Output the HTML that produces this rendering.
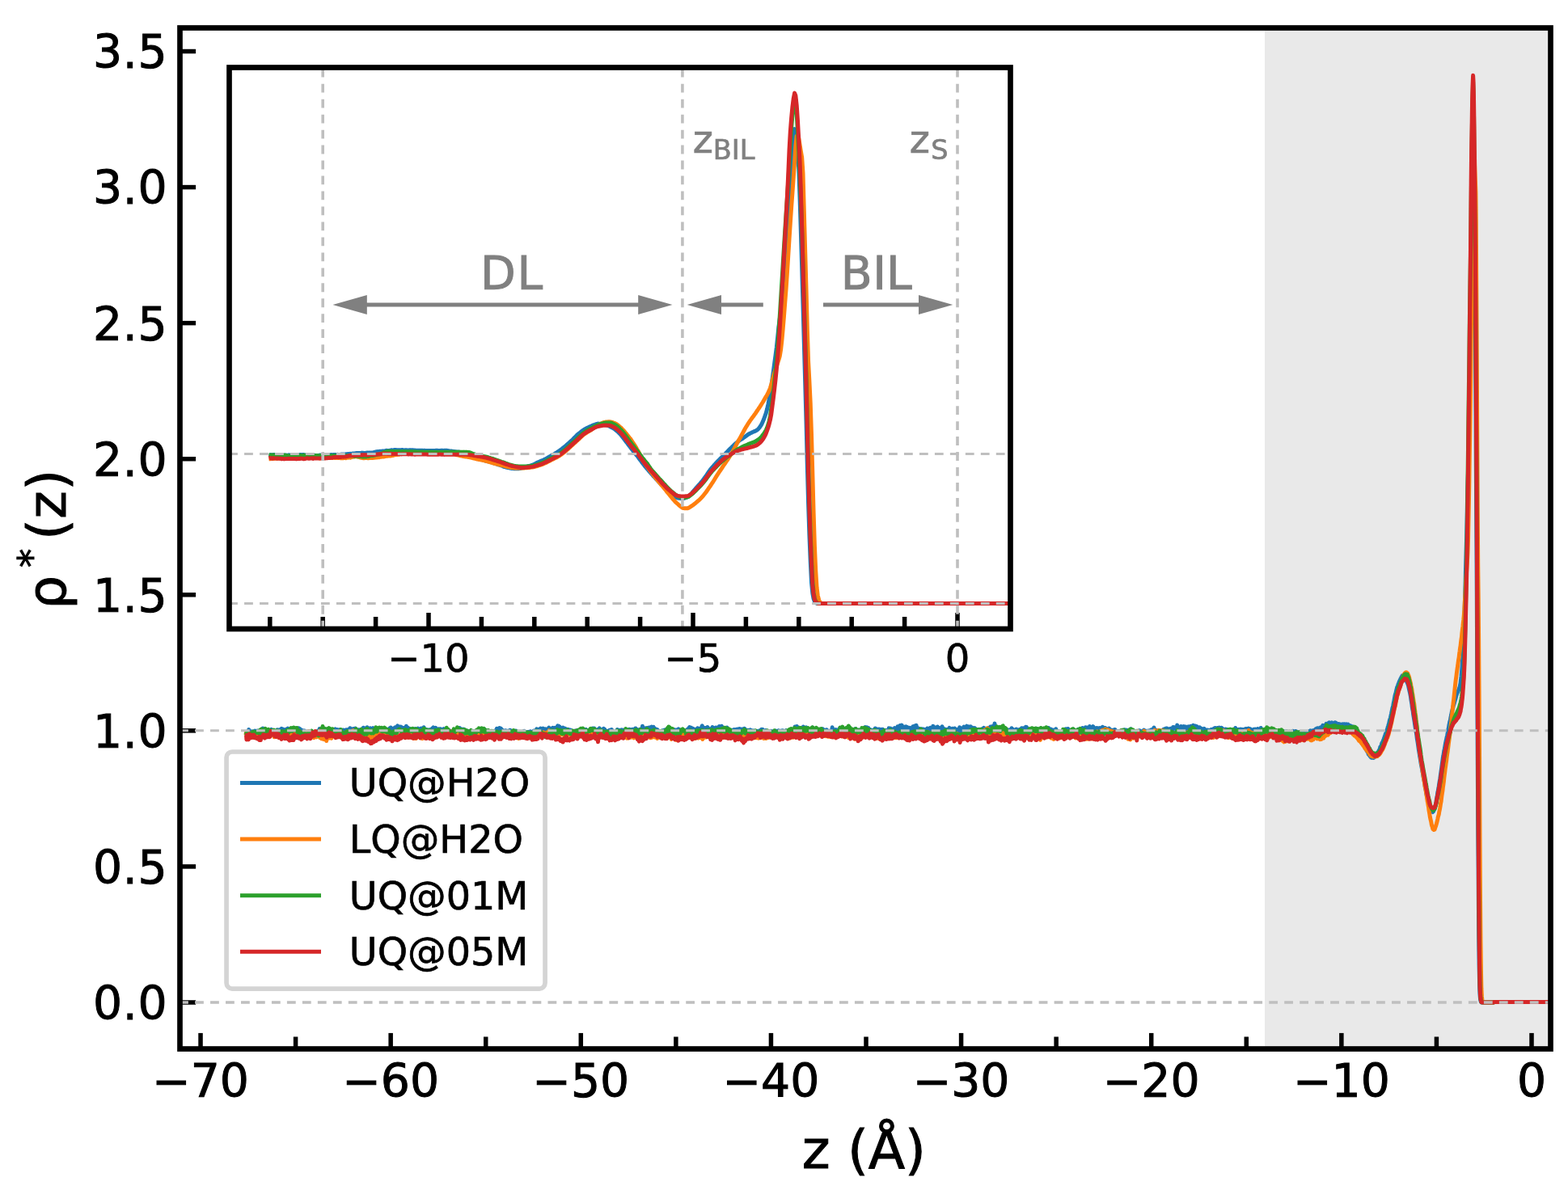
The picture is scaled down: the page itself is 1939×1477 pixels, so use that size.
<!DOCTYPE html>
<html lang="en"><head><meta charset="utf-8"><title>Density profile</title>
<style>html,body{margin:0;padding:0;background:#fff;overflow:hidden}svg{display:block}text{font-family:'DejaVu Sans','Liberation Sans',sans-serif;fill:#000;stroke:#000;stroke-width:0.7px;stroke-linejoin:miter}.b text,text.b{stroke-width:1px}.g text,text.g{fill:#808080;stroke:#808080}</style>
</head><body>
<svg width="1939" height="1477" viewBox="0 0 1939 1477" role="img" aria-label="Density profile chart">
<rect x="0" y="0" width="1939" height="1477" fill="#fff"/>
<defs>
<clipPath id="cm"><rect x="222.5" y="34.5" width="1695" height="1263"/></clipPath>
<clipPath id="ci"><rect x="283.5" y="83.5" width="966" height="694.5"/></clipPath>
</defs>
<g id="main">
<rect x="1564" y="34.5" width="353.5" height="1263" fill="#e9e9e9"/>
<g clip-path="url(#cm)">
<polyline points="304,904.6 304.5,905.1 304.9,906.5 305.4,907.5 305.9,906.6 306.3,906.8 306.8,907.5 307.3,906.2 307.7,902.5 308.2,907.1 308.7,906.8 309.2,905.2 309.6,907.1 310.1,906.6 310.6,906.5 311,906 311.5,904.8 312,905.2 312.4,908.1 312.9,906.7 313.4,907.8 313.9,906.2 314.3,907.4 314.8,905.3 315.3,904 315.7,906.9 316.2,905.9 316.7,904.7 317.2,906.3 317.6,907 318.1,903.9 318.6,903.9 319,906.8 319.5,904.3 320,905 320.4,905.3 320.9,904.5 321.4,906.7 321.9,906.7 322.3,903.1 322.8,904 323.3,904.9 323.7,904.6 324.2,904.2 324.7,904.4 325.1,901.1 325.6,905.1 326.1,903.4 326.6,905.9 327,903.4 327.5,902 328,904.6 328.4,905.7 328.9,906.9 329.4,903.2 329.8,905.8 330.3,904.6 330.8,903.9 331.3,906.1 331.7,904.6 332.2,902.8 332.7,905.7 333.1,904.9 333.6,904.5 334.1,906.8 334.6,905.3 335,903.6 335.5,902.3 336,906.6 336.4,905.5 336.9,905.3 337.4,906.4 337.8,906.9 338.3,906.4 338.8,906.7 339.3,907.2 339.7,906.3 340.2,906 340.7,908.8 341.1,905.4 341.6,905.9 342.1,905.5 342.5,908.4 343,902.8 343.5,905.5 344,907.6 344.4,903.7 344.9,904.1 345.4,905.5 345.8,902.8 346.3,903.5 346.8,905.5 347.2,904.8 347.7,903.2 348.2,901.4 348.7,904.3 349.1,901.8 349.6,903.6 350.1,905 350.5,902.3 351,905.6 351.5,904.8 352,907.5 352.4,905 352.9,903.4 353.4,906.2 353.8,906.4 354.3,902 354.8,903.1 355.2,904.9 355.7,903.9 356.2,901.1 356.7,905.4 357.1,902.3 357.6,903 358.1,903.2 358.5,903.9 359,902.7 359.5,905.1 359.9,903.7 360.4,901.9 360.9,904.1 361.4,903.6 361.8,902.6 362.3,906.2 362.8,906.9 363.2,902 363.7,903.5 364.2,903.3 364.6,904.6 365.1,903.8 365.6,902.8 366.1,904 366.5,904.6 367,905.1 367.5,906 367.9,907.4 368.4,904.6 368.9,904.7 369.4,900.7 369.8,905.1 370.3,905.8 370.8,901.5 371.2,905.2 371.7,904.7 372.2,902.9 372.6,903 373.1,903.1 373.6,903.8 374.1,906.2 374.5,905.9 375,905.8 375.5,904.4 375.9,905.8 376.4,904 376.9,905.3 377.3,905.3 377.8,909 378.3,905.9 378.8,907.8 379.2,905.3 379.7,906.9 380.2,905.8 380.6,905.9 381.1,907.6 381.6,907.8 382,905.3 382.5,904.9 383,908 383.5,909.2 383.9,905.8 384.4,909.1 384.9,907.2 385.3,910.1 385.8,905.6 386.3,906.6 386.8,907.6 387.2,908.7 387.7,910.8 388.2,907 388.6,906 389.1,906.6 389.6,908.8 390,906 390.5,906.5 391,909.2 391.5,909.2 391.9,908.1 392.4,904.9 392.9,907.4 393.3,903.9 393.8,904.5 394.3,908.6 394.7,906.5 395.2,901.4 395.7,906 396.2,905 396.6,905.5 397.1,906.4 397.6,907.1 398,905.8 398.5,905.7 399,905.6 399.5,905.3 399.9,908.1 400.4,907.9 400.9,905.3 401.3,906 401.8,908.7 402.3,907.1 402.7,902.1 403.2,905.7 403.7,905.3 404.2,904.3 404.6,904.1 405.1,906.8 405.6,905.9 406,902.9 406.5,906.7 407,905.5 407.4,903.8 407.9,906.2 408.4,906.4 408.9,907.7 409.3,907.6 409.8,905 410.3,905.8 410.7,906.2 411.2,907.1 411.7,903.9 412.1,903.6 412.6,905.7 413.1,907 413.6,907.3 414,902.5 414.5,902 415,906.6 415.4,905.4 415.9,908.5 416.4,906.6 416.9,902.6 417.3,904 417.8,903.7 418.3,905.2 418.7,906 419.2,904.8 419.7,902.7 420.1,903.8 420.6,903.4 421.1,903.5 421.6,905.5 422,904.4 422.5,905.9 423,906.3 423.4,904.2 423.9,906.9 424.4,903.1 424.8,905.1 425.3,907.6 425.8,906.7 426.3,907.5 426.7,904.6 427.2,904.9 427.7,905.4 428.1,902.8 428.6,904.7 429.1,904.7 429.5,905.4 430,905.5 430.5,903.1 431,902.4 431.4,903.6 431.9,902.9 432.4,903.2 432.8,900.8 433.3,902.8 433.8,901.3 434.3,903.2 434.7,904 435.2,905 435.7,904.3 436.1,902.2 436.6,904.3 437.1,901.5 437.5,903.7 438,905.9 438.5,903.2 439,904.2 439.4,901 439.9,902.7 440.4,905.2 440.8,903.8 441.3,906 441.8,906.3 442.2,904.3 442.7,903.5 443.2,905 443.7,902.7 444.1,907 444.6,903.6 445.1,904 445.5,906.4 446,903.5 446.5,904.5 446.9,902.4 447.4,906.2 447.9,903.1 448.4,904.4 448.8,901.8 449.3,900.2 449.8,904.2 450.2,903.8 450.7,903.2 451.2,902.9 451.7,901 452.1,903 452.6,903.1 453.1,901.9 453.5,901.8 454,899.7 454.5,902.5 454.9,902.6 455.4,900.9 455.9,900.9 456.4,903.1 456.8,902.2 457.3,903.7 457.8,900.8 458.2,903.3 458.7,903.4 459.2,903.3 459.6,904.4 460.1,903.3 460.6,902.3 461.1,903.3 461.5,900.6 462,903.4 462.5,905.8 462.9,903.3 463.4,904 463.9,901.7 464.3,903.4 464.8,902.6 465.3,905.2 465.8,904.3 466.2,903.2 466.7,904 467.2,903.7 467.6,901.5 468.1,905.8 468.6,905.9 469.1,902.4 469.5,904.1 470,905.4 470.5,903.9 470.9,903.1 471.4,905.4 471.9,903 472.3,904.4 472.8,902.2 473.3,907.2 473.8,901.5 474.2,904.3 474.7,902.5 475.2,905.1 475.6,903.6 476.1,902.8 476.6,904.2 477,904.9 477.5,905.3 478,905.1 478.5,902.8 478.9,905 479.4,902.3 479.9,902.9 480.3,902.9 480.8,903.2 481.3,902.6 481.7,904.6 482.2,900.8 482.7,902.4 483.2,900 483.6,903 484.1,903.1 484.6,902.1 485,902.6 485.5,903.7 486,904.9 486.5,903.2 486.9,902.7 487.4,900.7 487.9,900.4 488.3,902.6 488.8,899.7 489.3,902 489.7,901.3 490.2,900.7 490.7,901.3 491.2,898.9 491.6,897.8 492.1,901.5 492.6,899.6 493,900.3 493.5,899.7 494,901.4 494.4,899.1 494.9,900.3 495.4,900.8 495.9,899.1 496.3,903.4 496.8,902.8 497.3,901.9 497.7,901.5 498.2,902.8 498.7,901.8 499.1,900.4 499.6,902.5 500.1,902.2 500.6,901.5 501,904.8 501.5,900.3 502,900.3 502.4,898.2 502.9,903 503.4,900.6 503.9,900.6 504.3,900.2 504.8,903 505.3,905.8 505.7,901.5 506.2,901.3 506.7,901.4 507.1,902.9 507.6,903.4 508.1,902.6 508.6,903.9 509,904.1 509.5,902.4 510,902 510.4,904.3 510.9,905.3 511.4,904.1 511.8,901.7 512.3,903.2 512.8,902 513.3,902.2 513.7,901.7 514.2,904 514.7,903.4 515.1,902.4 515.6,904.2 516.1,904.9 516.5,901.9 517,901.2 517.5,904.5 518,902.4 518.4,902.5 518.9,902.7 519.4,903.4 519.8,904 520.3,904.3 520.8,901.1 521.3,902.4 521.7,901.5 522.2,904.8 522.7,900.8 523.1,900.9 523.6,902 524.1,899.7 524.5,902.5 525,902.8 525.5,904.7 526,904.5 526.4,903.1 526.9,903.5 527.4,902.5 527.8,905.1 528.3,903.6 528.8,905.6 529.2,904.5 529.7,905.1 530.2,907.2 530.7,902.8 531.1,904.9 531.6,904.6 532.1,902.8 532.5,904.4 533,903.8 533.5,905.9 534,902.1 534.4,901.1 534.9,902.7 535.4,900.5 535.8,900 536.3,901.1 536.8,902.5 537.2,901 537.7,901 538.2,901.8 538.7,900.4 539.1,901.5 539.6,903.9 540.1,902.6 540.5,902.2 541,904.2 541.5,904.6 541.9,902.5 542.4,901.9 542.9,904 543.4,901.9 543.8,904.1 544.3,904.6 544.8,901.7 545.2,903 545.7,905.9 546.2,905.9 546.6,903.6 547.1,905.2 547.6,905.4 548.1,906.3 548.5,905 549,901.6 549.5,907.5 549.9,903.1 550.4,907 550.9,907.8 551.4,905.1 551.8,906.8 552.3,906.9 552.8,905 553.2,903.7 553.7,905.8 554.2,907.7 554.6,907.6 555.1,906.1 555.6,904.4 556.1,905.2 556.5,905.4 557,904.2 557.5,908.9 557.9,904.5 558.4,905.6 558.9,905.5 559.3,904.8 559.8,905.6 560.3,906.5 560.8,907.5 561.2,903.9 561.7,905.9 562.2,904.1 562.6,906.2 563.1,903.8 563.6,903 564,904.1 564.5,903 565,904.5 565.5,904.1 565.9,903 566.4,903.2 566.9,902.4 567.3,902.8 567.8,901.5 568.3,900.5 568.8,901.9 569.2,901.5 569.7,902.4 570.2,904.4 570.6,901.9 571.1,902 571.6,904.9 572,903.8 572.5,906 573,903.6 573.5,902.2 573.9,904.3 574.4,905.8 574.9,903.5 575.3,904.5 575.8,905.1 576.3,904.3 576.7,905.8 577.2,903.9 577.7,908.4 578.2,904.6 578.6,906.4 579.1,904.7 579.6,906.4 580,907.6 580.5,904.7 581,907.5 581.4,909.2 581.9,906.3 582.4,904.3 582.9,903.8 583.3,904.3 583.8,909.3 584.3,906.7 584.7,908.1 585.2,906.4 585.7,909.3 586.2,905.6 586.6,906.1 587.1,904.5 587.6,904.5 588,906.1 588.5,908.7 589,905.7 589.4,907.7 589.9,906.9 590.4,905.6 590.9,910.2 591.3,908 591.8,909 592.3,907.2 592.7,906.7 593.2,906.7 593.7,906.3 594.1,907.7 594.6,907.1 595.1,906.1 595.6,905.3 596,905.5 596.5,906.4 597,905.4 597.4,904.7 597.9,906.6 598.4,906.5 598.8,904.6 599.3,902.3 599.8,905.4 600.3,907.3 600.7,903.5 601.2,905 601.7,907.2 602.1,905.4 602.6,905.3 603.1,904.5 603.6,907.4 604,904.8 604.5,907.1 605,906.3 605.4,908.6 605.9,905.2 606.4,906.6 606.8,908.2 607.3,906.3 607.8,905.7 608.3,905.2 608.7,905.2 609.2,908.9 609.7,907.6 610.1,906.1 610.6,905.6 611.1,907.6 611.5,904.2 612,904.9 612.5,908 613,906.9 613.4,903.2 613.9,907.1 614.4,901.2 614.8,901.5 615.3,905.2 615.8,902.6 616.2,901.5 616.7,904.7 617.2,905.3 617.7,900.4 618.1,902.8 618.6,904.9 619.1,901 619.5,901.3 620,902.5 620.5,903.5 621,905.2 621.4,906.6 621.9,903.5 622.4,904.2 622.8,907.2 623.3,906.7 623.8,906.7 624.2,906.3 624.7,905.9 625.2,903.7 625.7,905.8 626.1,904.3 626.6,905.7 627.1,904.4 627.5,906 628,904.4 628.5,906.7 628.9,908 629.4,904 629.9,907.3 630.4,907.1 630.8,903.3 631.3,906 631.8,905.6 632.2,905.5 632.7,905.3 633.2,904.8 633.6,906.7 634.1,907.8 634.6,905.1 635.1,906.8 635.5,907.4 636,905.8 636.5,905.8 636.9,906.6 637.4,909.9 637.9,904 638.4,907 638.8,909 639.3,906.2 639.8,905.2 640.2,905.4 640.7,906.6 641.2,906.6 641.6,910 642.1,911.5 642.6,905.9 643.1,907.5 643.5,907.6 644,910.1 644.5,905.5 644.9,908.8 645.4,906.7 645.9,909.9 646.3,911 646.8,907.6 647.3,907.2 647.8,909.5 648.2,904.3 648.7,908.5 649.2,905.6 649.6,905.7 650.1,909.3 650.6,906.4 651,908.2 651.5,906.7 652,907.2 652.5,905.6 652.9,908.2 653.4,906.3 653.9,906 654.3,905.4 654.8,908.1 655.3,905.7 655.8,905.5 656.2,904.8 656.7,909.6 657.2,908.9 657.6,908.9 658.1,906.8 658.6,907.7 659,906.4 659.5,906 660,903.9 660.5,903.9 660.9,905.8 661.4,905.1 661.9,907.3 662.3,905.6 662.8,905 663.3,905.4 663.7,901.8 664.2,908.1 664.7,905.1 665.2,904.1 665.6,902.5 666.1,902.9 666.6,905.5 667,904.2 667.5,901.9 668,902.4 668.5,901 668.9,901.8 669.4,903.1 669.9,903.4 670.3,901.9 670.8,903.9 671.3,903.2 671.7,901.1 672.2,903.2 672.7,901.8 673.2,906.1 673.6,903.6 674.1,902.5 674.6,901.9 675,903 675.5,902.8 676,904.2 676.4,903.1 676.9,901.9 677.4,904.4 677.9,905 678.3,901.5 678.8,900.2 679.3,900.7 679.7,903.5 680.2,902.9 680.7,903 681.1,901.6 681.6,901.3 682.1,903.5 682.6,901.6 683,901.9 683.5,900.3 684,902.5 684.4,901.6 684.9,904.4 685.4,902.2 685.9,900.4 686.3,902.9 686.8,902 687.3,900.6 687.7,900.8 688.2,901.5 688.7,900.8 689.1,899.2 689.6,897.9 690.1,898.6 690.6,899.6 691,898.2 691.5,902.5 692,898.9 692.4,900.6 692.9,901.1 693.4,902.1 693.8,901.4 694.3,901 694.8,902.8 695.3,903.4 695.7,901.6 696.2,900.2 696.7,901 697.1,901.2 697.6,904 698.1,903.9 698.5,904.1 699,901.1 699.5,904.6 700,902.4 700.4,903 700.9,905.4 701.4,903.6 701.8,902.2 702.3,903.1 702.8,903.7 703.3,902.5 703.7,906.2 704.2,905 704.7,904.4 705.1,903.7 705.6,903.2 706.1,906 706.5,905.2 707,903.8 707.5,904 708,906.7 708.4,907.2 708.9,906.5 709.4,905.6 709.8,909.6 710.3,904.3 710.8,906.6 711.2,904.8 711.7,904.1 712.2,906.7 712.7,908.1 713.1,908.3 713.6,903.4 714.1,906.4 714.5,905.3 715,907 715.5,905.6 715.9,904.3 716.4,903.7 716.9,904.4 717.4,905.8 717.8,904.6 718.3,904.7 718.8,902.6 719.2,905.1 719.7,906 720.2,903.6 720.7,905.4 721.1,902.1 721.6,902.1 722.1,904.4 722.5,904.5 723,903 723.5,906.3 723.9,902.6 724.4,902.3 724.9,903.9 725.4,904.2 725.8,905.4 726.3,905.8 726.8,904.1 727.2,904.3 727.7,905.5 728.2,903.2 728.6,904.9 729.1,902.8 729.6,905.3 730.1,903.1 730.5,902.4 731,901.6 731.5,903.3 731.9,902.7 732.4,902.6 732.9,901.2 733.3,904.2 733.8,903.4 734.3,905.7 734.8,901.1 735.2,903.3 735.7,904.3 736.2,904.2 736.6,903.1 737.1,904.8 737.6,904 738.1,906.4 738.5,906 739,902.4 739.5,903.8 739.9,905.9 740.4,903.3 740.9,902.2 741.3,900.9 741.8,904.2 742.3,902.8 742.8,904.3 743.2,905.6 743.7,904.7 744.2,903.4 744.6,904.2 745.1,904 745.6,904.6 746,903.8 746.5,901.2 747,903.9 747.5,903.5 747.9,902.4 748.4,907.5 748.9,907.4 749.3,907 749.8,907.8 750.3,904.5 750.7,907.7 751.2,906.9 751.7,904.4 752.2,906.8 752.6,905 753.1,904.1 753.6,906 754,903.3 754.5,904 755,904.3 755.5,905.2 755.9,906.4 756.4,902.4 756.9,906 757.3,905.7 757.8,905.7 758.3,906 758.7,905.1 759.2,907.3 759.7,906.4 760.2,905 760.6,907.9 761.1,906.3 761.6,907.9 762,906.1 762.5,905.2 763,906.5 763.4,902.4 763.9,906.8 764.4,903 764.9,904.7 765.3,904 765.8,905.7 766.3,903.4 766.7,903.5 767.2,906.4 767.7,904.3 768.1,904.4 768.6,902.9 769.1,906 769.6,903.5 770,904.5 770.5,903.2 771,907.6 771.4,904.7 771.9,910.2 772.4,908.5 772.9,907.3 773.3,908.5 773.8,905.7 774.3,907.3 774.7,906.1 775.2,905.9 775.7,904.3 776.1,905.8 776.6,902.8 777.1,904.1 777.6,902.8 778,902.2 778.5,902.2 779,903.9 779.4,903.6 779.9,903.8 780.4,902.7 780.8,902.9 781.3,906.4 781.8,906.3 782.3,902.3 782.7,905 783.2,902.6 783.7,904.2 784.1,902.4 784.6,902.5 785.1,904.3 785.6,901.1 786,901.1 786.5,902.2 787,905.7 787.4,904.5 787.9,903.1 788.4,902.7 788.8,905.6 789.3,908.3 789.8,906.3 790.3,904 790.7,906 791.2,902.7 791.7,904.9 792.1,901.9 792.6,905.5 793.1,903.7 793.5,902.3 794,904.5 794.5,898.3 795,901.5 795.4,903.8 795.9,902.6 796.4,903.8 796.8,903.6 797.3,901.4 797.8,903 798.2,900.7 798.7,903 799.2,901.4 799.7,901.5 800.1,900.5 800.6,902.4 801.1,901.1 801.5,901 802,903.5 802.5,900.1 803,900.8 803.4,902.3 803.9,900.1 804.4,899.7 804.8,901.6 805.3,900.3 805.8,899 806.2,900.4 806.7,900.8 807.2,901.1 807.7,902.1 808.1,899.3 808.6,901 809.1,902.1 809.5,905 810,901.2 810.5,902.4 810.9,902.2 811.4,902.4 811.9,903.2 812.4,902.9 812.8,902.6 813.3,905.1 813.8,904.4 814.2,905.9 814.7,904.1 815.2,905.7 815.6,905.8 816.1,905 816.6,905.5 817.1,906.3 817.5,905.2 818,904.5 818.5,905.6 818.9,906.2 819.4,903.7 819.9,905.1 820.4,906.3 820.8,906.2 821.3,905.1 821.8,903.1 822.2,902.9 822.7,903.6 823.2,906.3 823.6,905.3 824.1,903 824.6,903.8 825.1,904.7 825.5,904 826,905.5 826.5,904.6 826.9,904.5 827.4,906.3 827.9,903.7 828.3,905.7 828.8,904.4 829.3,906.8 829.8,903.5 830.2,902.5 830.7,906.5 831.2,904.8 831.6,907 832.1,903 832.6,907.4 833,905.9 833.5,906 834,902.7 834.5,906.4 834.9,904.3 835.4,903 835.9,903.9 836.3,904.7 836.8,903.4 837.3,904.3 837.8,902.5 838.2,902.5 838.7,902.9 839.2,901.9 839.6,903.9 840.1,903.9 840.6,903.3 841,903.2 841.5,904.9 842,903.8 842.5,904.1 842.9,905.1 843.4,905.5 843.9,906.1 844.3,903.7 844.8,906.6 845.3,903.3 845.7,906 846.2,907.6 846.7,904.5 847.2,905.1 847.6,905.8 848.1,905.2 848.6,905 849,903.5 849.5,905.8 850,905.3 850.4,901.9 850.9,902.5 851.4,903.3 851.9,900.6 852.3,903.2 852.8,899.4 853.3,903.2 853.7,901.8 854.2,901.9 854.7,900.2 855.2,901.4 855.6,901.7 856.1,901.6 856.6,901.2 857,901.2 857.5,903.6 858,903.5 858.4,902.5 858.9,905.1 859.4,905.2 859.9,902.4 860.3,902.3 860.8,903.4 861.3,904.1 861.7,904.3 862.2,902.8 862.7,900.7 863.1,903.6 863.6,902.4 864.1,903.1 864.6,903.2 865,901.6 865.5,904.7 866,903.1 866.4,901.7 866.9,901.8 867.4,903.9 867.8,899 868.3,897.8 868.8,901.8 869.3,899.6 869.7,900.2 870.2,900.8 870.7,903 871.1,900.4 871.6,901.1 872.1,903.1 872.6,900.6 873,903 873.5,900.6 874,902.1 874.4,902.9 874.9,899.5 875.4,900.4 875.8,901.5 876.3,903.8 876.8,903 877.3,901.7 877.7,903.1 878.2,903.3 878.7,901.7 879.1,901.9 879.6,904.1 880.1,901.2 880.5,902.3 881,899.5 881.5,902.4 882,902.5 882.4,903.2 882.9,901.3 883.4,902.5 883.8,901.9 884.3,900.5 884.8,900.1 885.2,901.7 885.7,902.4 886.2,902.3 886.7,903.5 887.1,900.1 887.6,900.9 888.1,903.4 888.5,902.9 889,901.9 889.5,898.4 890,902.4 890.4,900.3 890.9,899.9 891.4,901.6 891.8,900.6 892.3,898.2 892.8,898.9 893.2,902.8 893.7,900.5 894.2,901.4 894.7,900.2 895.1,903.8 895.6,902.3 896.1,901.7 896.5,904.4 897,903.1 897.5,903.3 897.9,902.8 898.4,904.3 898.9,899.9 899.4,902.7 899.8,905.3 900.3,905 900.8,905.6 901.2,904.1 901.7,904.4 902.2,903.5 902.6,904.2 903.1,905.6 903.6,905.3 904.1,903.8 904.5,903.5 905,906.2 905.5,905.1 905.9,903.2 906.4,905.1 906.9,904 907.4,905.3 907.8,902.5 908.3,904.5 908.8,904.7 909.2,903.4 909.7,904.2 910.2,903.7 910.6,902.4 911.1,904.2 911.6,904 912.1,902 912.5,904.2 913,904.1 913.5,902.4 913.9,905.2 914.4,901.6 914.9,903.4 915.3,904 915.8,903.7 916.3,904.1 916.8,902.1 917.2,904 917.7,906.1 918.2,904.1 918.6,902.1 919.1,903.4 919.6,903.9 920.1,904.4 920.5,901.3 921,903.7 921.5,902.1 921.9,905.9 922.4,903.7 922.9,904.8 923.3,904.2 923.8,903.9 924.3,905.1 924.8,904.2 925.2,903.3 925.7,904.9 926.2,906.7 926.6,903.6 927.1,905.8 927.6,904.6 928,902.9 928.5,904 929,904.2 929.5,904.2 929.9,905.6 930.4,904.6 930.9,906 931.3,903.9 931.8,905.5 932.3,905.3 932.7,904.1 933.2,904.8 933.7,905.7 934.2,905.2 934.6,905.4 935.1,906.4 935.6,905.5 936,904.3 936.5,906.4 937,905.4 937.5,907.8 937.9,906.4 938.4,904.7 938.9,905.1 939.3,903.9 939.8,904.3 940.3,903.8 940.7,903.5 941.2,904.2 941.7,902.4 942.2,904.5 942.6,903.7 943.1,902.4 943.6,904.4 944,905.9 944.5,906.2 945,905 945.4,905.1 945.9,907.2 946.4,907.1 946.9,903.4 947.3,907.3 947.8,904 948.3,905.8 948.7,907 949.2,906.5 949.7,906.8 950.1,906.9 950.6,906 951.1,909 951.6,905.2 952,906.1 952.5,907.9 953,908.9 953.4,904.3 953.9,908.8 954.4,906.1 954.9,905.7 955.3,908.2 955.8,904.9 956.3,908.8 956.7,909.1 957.2,908.5 957.7,907.9 958.1,904.7 958.6,908.4 959.1,904 959.6,906.4 960,905.2 960.5,905.8 961,907.6 961.4,906.9 961.9,905.9 962.4,905.9 962.8,903.8 963.3,907.9 963.8,908.6 964.3,908.4 964.7,908.6 965.2,907 965.7,906.3 966.1,904 966.6,906.6 967.1,907.5 967.5,906.4 968,903.7 968.5,907.2 969,907.7 969.4,905.7 969.9,905.4 970.4,905.4 970.8,905.5 971.3,905 971.8,903.8 972.3,903.7 972.7,904.8 973.2,905.6 973.7,907.3 974.1,907 974.6,908.1 975.1,907 975.5,906.1 976,905.2 976.5,908.2 977,904.6 977.4,906.8 977.9,909 978.4,905.6 978.8,906.9 979.3,906.4 979.8,904.8 980.2,905.7 980.7,903.7 981.2,903.1 981.7,901.5 982.1,904.2 982.6,904.4 983.1,898.9 983.5,903.3 984,900.4 984.5,902.2 984.9,902.3 985.4,898.5 985.9,900.1 986.4,901.8 986.8,901.4 987.3,899.9 987.8,901.2 988.2,900.2 988.7,901.5 989.2,901.4 989.7,901 990.1,901.8 990.6,903.7 991.1,901.7 991.5,903.4 992,902.6 992.5,902.6 992.9,903.4 993.4,899 993.9,903.8 994.4,899.9 994.8,903.3 995.3,902.3 995.8,900.5 996.2,901.9 996.7,902 997.2,899.9 997.6,902 998.1,901.5 998.6,903.3 999.1,903.7 999.5,903.9 1000,901.6 1000.5,908.3 1000.9,903.1 1001.4,902.7 1001.9,905.5 1002.3,902.5 1002.8,902.9 1003.3,903.7 1003.8,901.9 1004.2,903.8 1004.7,900.1 1005.2,904.1 1005.6,904.1 1006.1,903.2 1006.6,902.8 1007.1,902 1007.5,902.5 1008,902.9 1008.5,906.7 1008.9,903.6 1009.4,903.1 1009.9,901.5 1010.3,904.3 1010.8,902.2 1011.3,903.3 1011.8,903.9 1012.2,902.9 1012.7,903.3 1013.2,903 1013.6,903.5 1014.1,902.3 1014.6,902.6 1015,905.4 1015.5,901.9 1016,902.3 1016.5,903.1 1016.9,904.1 1017.4,901.7 1017.9,905 1018.3,904.2 1018.8,906 1019.3,904.5 1019.7,903.2 1020.2,905.5 1020.7,903.8 1021.2,906.3 1021.6,904.3 1022.1,902.7 1022.6,905.5 1023,905.3 1023.5,903.8 1024,904.1 1024.5,905.7 1024.9,905.4 1025.4,905.7 1025.9,904.4 1026.3,904.6 1026.8,905 1027.3,906.1 1027.7,907 1028.2,907.3 1028.7,903.8 1029.2,899.8 1029.6,903 1030.1,902.4 1030.6,903.6 1031,902.9 1031.5,904.8 1032,903.2 1032.4,905.1 1032.9,902.8 1033.4,905.6 1033.9,902.6 1034.3,904.3 1034.8,903.6 1035.3,904.2 1035.7,906.8 1036.2,906.7 1036.7,903.3 1037.1,904.1 1037.6,903.4 1038.1,901.4 1038.6,903.1 1039,901.6 1039.5,903.8 1040,904.2 1040.4,902.8 1040.9,902.7 1041.4,902.3 1041.9,901.5 1042.3,901.5 1042.8,901 1043.3,903.6 1043.7,904.2 1044.2,902.9 1044.7,902.6 1045.1,903.4 1045.6,903.6 1046.1,901.4 1046.6,903.3 1047,905.5 1047.5,904.8 1048,901.8 1048.4,903.1 1048.9,906.4 1049.4,905.9 1049.8,904.3 1050.3,905.5 1050.8,904.5 1051.3,906.8 1051.7,905.5 1052.2,905.1 1052.7,904.6 1053.1,905.3 1053.6,905.3 1054.1,905.2 1054.6,904.1 1055,903.7 1055.5,905.5 1056,905.5 1056.4,904.2 1056.9,906 1057.4,904.9 1057.8,901.4 1058.3,904.2 1058.8,905.7 1059.3,905.9 1059.7,906.1 1060.2,906.5 1060.7,905.2 1061.1,903.6 1061.6,903 1062.1,903 1062.5,906.8 1063,903.5 1063.5,905 1064,903.7 1064.4,904.1 1064.9,904.6 1065.4,906 1065.8,904.5 1066.3,904.4 1066.8,903.6 1067.2,904.1 1067.7,905.2 1068.2,901.6 1068.7,901.1 1069.1,903.6 1069.6,904.8 1070.1,899.5 1070.5,900.2 1071,901.3 1071.5,904.5 1072,899.8 1072.4,900.7 1072.9,903.2 1073.4,905.9 1073.8,900.6 1074.3,903.8 1074.8,903.1 1075.2,902.6 1075.7,902.3 1076.2,904.4 1076.7,903.3 1077.1,903.9 1077.6,904.5 1078.1,903.4 1078.5,904.4 1079,904.2 1079.5,903.9 1079.9,905.7 1080.4,904.3 1080.9,904.9 1081.4,902.4 1081.8,905.6 1082.3,900.9 1082.8,903.6 1083.2,904.1 1083.7,906 1084.2,905.1 1084.6,902.1 1085.1,904.4 1085.6,906.7 1086.1,903.2 1086.5,902 1087,905 1087.5,904.4 1087.9,902.1 1088.4,907.7 1088.9,902.5 1089.4,905.2 1089.8,903.6 1090.3,902.4 1090.8,903 1091.2,903.4 1091.7,902.3 1092.2,905.2 1092.6,904.2 1093.1,905.7 1093.6,904.3 1094.1,905.6 1094.5,906.3 1095,906.2 1095.5,903.5 1095.9,907.2 1096.4,906.3 1096.9,906.8 1097.3,905.7 1097.8,906.3 1098.3,905.2 1098.8,904.8 1099.2,900.8 1099.7,902.9 1100.2,904.1 1100.6,905.7 1101.1,904.1 1101.6,901.1 1102,903.6 1102.5,901.7 1103,902.2 1103.5,902.5 1103.9,902.7 1104.4,902.4 1104.9,902.6 1105.3,903 1105.8,902 1106.3,900.6 1106.8,901.3 1107.2,904.3 1107.7,901.2 1108.2,901.5 1108.6,902.7 1109.1,900.5 1109.6,900.7 1110,898.7 1110.5,904.2 1111,899.8 1111.5,902.1 1111.9,900.1 1112.4,899.2 1112.9,897.5 1113.3,899.1 1113.8,900.3 1114.3,897.8 1114.7,898.1 1115.2,897.2 1115.7,902.7 1116.2,898.9 1116.6,903.3 1117.1,898.9 1117.6,899.6 1118,901 1118.5,899.5 1119,900.1 1119.4,899.1 1119.9,898.8 1120.4,900.8 1120.9,901.3 1121.3,902.2 1121.8,899.4 1122.3,901.3 1122.7,901.6 1123.2,900.4 1123.7,902.3 1124.2,901.9 1124.6,901.6 1125.1,900.4 1125.6,903.3 1126,903.5 1126.5,902.6 1127,902.7 1127.4,902.7 1127.9,900.5 1128.4,902.2 1128.9,898.8 1129.3,900 1129.8,901.3 1130.3,901.5 1130.7,900.5 1131.2,898.1 1131.7,900.9 1132.1,903 1132.6,901.8 1133.1,897.2 1133.6,903.5 1134,902.8 1134.5,902.4 1135,903.3 1135.4,900.7 1135.9,903.5 1136.4,902.7 1136.8,901.8 1137.3,901.6 1137.8,902.8 1138.3,902.2 1138.7,902.6 1139.2,907.5 1139.7,901.7 1140.1,902.6 1140.6,903.4 1141.1,902.1 1141.6,906.2 1142,902.1 1142.5,905 1143,905.6 1143.4,905.8 1143.9,903.8 1144.4,905.1 1144.8,903 1145.3,905.9 1145.8,902 1146.3,904 1146.7,901.1 1147.2,903.2 1147.7,904.5 1148.1,904.4 1148.6,906.7 1149.1,904.3 1149.5,905.6 1150,904.5 1150.5,900.2 1151,904.4 1151.4,901.6 1151.9,901.2 1152.4,901.9 1152.8,901.3 1153.3,901.8 1153.8,898.2 1154.2,899.9 1154.7,899.3 1155.2,903.5 1155.7,901.4 1156.1,903 1156.6,900 1157.1,902.1 1157.5,902.7 1158,901.4 1158.5,901.2 1159,901.5 1159.4,899 1159.9,899.8 1160.4,900.9 1160.8,900.3 1161.3,901.8 1161.8,903.3 1162.2,901.5 1162.7,905 1163.2,900.4 1163.7,902.5 1164.1,904.8 1164.6,902.2 1165.1,898.7 1165.5,903.7 1166,903.2 1166.5,902.5 1166.9,905.1 1167.4,901.4 1167.9,904.2 1168.4,903.3 1168.8,902.5 1169.3,903.8 1169.8,902.4 1170.2,905.5 1170.7,905 1171.2,902.5 1171.6,903.7 1172.1,903.5 1172.6,902.7 1173.1,902 1173.5,901.2 1174,900.5 1174.5,901.4 1174.9,902.3 1175.4,905 1175.9,905.2 1176.4,905.7 1176.8,904.6 1177.3,903.7 1177.8,901.2 1178.2,905.1 1178.7,903.2 1179.2,905 1179.6,904.3 1180.1,906.9 1180.6,901 1181.1,904.3 1181.5,904.9 1182,904.9 1182.5,907.2 1182.9,903.9 1183.4,904.5 1183.9,903.5 1184.3,902.2 1184.8,903 1185.3,904.5 1185.8,903.9 1186.2,905.3 1186.7,899.7 1187.2,904.9 1187.6,901.1 1188.1,904 1188.6,902.3 1189.1,902.5 1189.5,903.8 1190,900.9 1190.5,901 1190.9,901.7 1191.4,900.5 1191.9,899.2 1192.3,903.3 1192.8,902.4 1193.3,903.5 1193.8,902.5 1194.2,901.7 1194.7,901.4 1195.2,900.6 1195.6,898.1 1196.1,898.9 1196.6,900.6 1197,899.2 1197.5,900.9 1198,898.9 1198.5,901.2 1198.9,901 1199.4,903.2 1199.9,902.2 1200.3,898.8 1200.8,905.5 1201.3,902.1 1201.7,903 1202.2,902.8 1202.7,900.2 1203.2,903.2 1203.6,904.3 1204.1,902.5 1204.6,902.5 1205,901.5 1205.5,900.6 1206,901.8 1206.5,901.8 1206.9,904.1 1207.4,904.6 1207.9,903.2 1208.3,903 1208.8,902.7 1209.3,903.2 1209.7,904.8 1210.2,905.1 1210.7,902.3 1211.2,902.7 1211.6,906.6 1212.1,903.1 1212.6,903.1 1213,904.7 1213.5,905.2 1214,902 1214.4,902.4 1214.9,904.8 1215.4,902.8 1215.9,901 1216.3,903.3 1216.8,900.4 1217.3,904.9 1217.7,901.2 1218.2,903.5 1218.7,904.6 1219.1,903.7 1219.6,901.9 1220.1,904.9 1220.6,901.3 1221,901.7 1221.5,905.9 1222,902 1222.4,900.5 1222.9,903.1 1223.4,905.7 1223.9,900.5 1224.3,899.9 1224.8,899 1225.3,902.4 1225.7,902.3 1226.2,901.4 1226.7,898.7 1227.1,901.8 1227.6,900.2 1228.1,902.7 1228.6,898.1 1229,900.2 1229.5,899.9 1230,895 1230.4,898.4 1230.9,899.1 1231.4,900 1231.8,900.5 1232.3,902.7 1232.8,899.5 1233.3,901.5 1233.7,901.8 1234.2,904.2 1234.7,900.4 1235.1,902.2 1235.6,902.3 1236.1,903.5 1236.5,902 1237,901.7 1237.5,902.2 1238,904.7 1238.4,905.8 1238.9,903.5 1239.4,902.7 1239.8,907.1 1240.3,904.8 1240.8,904.3 1241.3,903.6 1241.7,902.1 1242.2,904.4 1242.7,902.4 1243.1,904.2 1243.6,902.3 1244.1,904.7 1244.5,903.7 1245,902.4 1245.5,903.7 1246,907.2 1246.4,904.1 1246.9,903 1247.4,903.6 1247.8,905.3 1248.3,904.5 1248.8,902.7 1249.2,902.5 1249.7,903.2 1250.2,904.9 1250.7,905.2 1251.1,900.7 1251.6,905.4 1252.1,901.9 1252.5,903.4 1253,902.8 1253.5,903.1 1253.9,904.2 1254.4,903 1254.9,905.4 1255.4,904.6 1255.8,903.8 1256.3,907.9 1256.8,902 1257.2,904 1257.7,904 1258.2,904.8 1258.7,903.3 1259.1,904.9 1259.6,904.2 1260.1,903.6 1260.5,902.5 1261,902.6 1261.5,903.6 1261.9,903.4 1262.4,901.9 1262.9,903.9 1263.4,900.7 1263.8,902 1264.3,903.8 1264.8,904.7 1265.2,902.4 1265.7,900.8 1266.2,901.9 1266.6,901.7 1267.1,903.9 1267.6,900.4 1268.1,903.1 1268.5,899.3 1269,901.6 1269.5,899.5 1269.9,901.2 1270.4,905.4 1270.9,903.2 1271.3,902.7 1271.8,902 1272.3,904.7 1272.8,904.1 1273.2,907.6 1273.7,905.1 1274.2,905.7 1274.6,904.6 1275.1,905.5 1275.6,905.6 1276.1,905.3 1276.5,904 1277,902.7 1277.5,903.3 1277.9,902.9 1278.4,905.9 1278.9,906.5 1279.3,906 1279.8,906 1280.3,903.6 1280.8,904.6 1281.2,904.8 1281.7,901.2 1282.2,904.9 1282.6,903.2 1283.1,904.4 1283.6,906 1284,906.8 1284.5,905.1 1285,903.5 1285.5,903.2 1285.9,902 1286.4,903 1286.9,901.1 1287.3,904.8 1287.8,904.9 1288.3,902.8 1288.7,904.2 1289.2,902.4 1289.7,901.6 1290.2,903.2 1290.6,904.1 1291.1,907.1 1291.6,903.7 1292,902.8 1292.5,905 1293,902.3 1293.5,902.5 1293.9,902.5 1294.4,901.4 1294.9,900.4 1295.3,904.2 1295.8,902.9 1296.3,902.2 1296.7,900.5 1297.2,902.7 1297.7,902 1298.2,903 1298.6,903 1299.1,903.2 1299.6,902.1 1300,903.2 1300.5,902.8 1301,904.1 1301.4,904.8 1301.9,904.5 1302.4,903 1302.9,904.2 1303.3,906.6 1303.8,903.6 1304.3,906 1304.7,907.5 1305.2,904.4 1305.7,901.8 1306.1,903 1306.6,903.4 1307.1,905.5 1307.6,906 1308,906 1308.5,905.3 1309,906 1309.4,905.1 1309.9,905.1 1310.4,907 1310.9,905.1 1311.3,909.1 1311.8,906.8 1312.3,906.7 1312.7,906.9 1313.2,906 1313.7,905.9 1314.1,905.1 1314.6,904.9 1315.1,907.9 1315.6,904 1316,904.6 1316.5,903.2 1317,902.7 1317.4,902 1317.9,902.5 1318.4,904.2 1318.8,901.9 1319.3,903.9 1319.8,904.5 1320.3,903.9 1320.7,901.5 1321.2,902.8 1321.7,904.2 1322.1,904.5 1322.6,905.9 1323.1,903.4 1323.6,909.9 1324,904.5 1324.5,905.2 1325,905.5 1325.4,903.4 1325.9,905.1 1326.4,902.6 1326.8,906.8 1327.3,902.1 1327.8,906.2 1328.3,904.6 1328.7,906.6 1329.2,906.7 1329.7,905.8 1330.1,904.7 1330.6,906.3 1331.1,906.3 1331.5,905.6 1332,906.3 1332.5,905.8 1333,903.4 1333.4,902.2 1333.9,902.1 1334.4,903.3 1334.8,903 1335.3,907.1 1335.8,904.9 1336.2,904.6 1336.7,903.5 1337.2,903.5 1337.7,904.2 1338.1,903.8 1338.6,900.5 1339.1,904.6 1339.5,903 1340,903.6 1340.5,903.7 1341,903.1 1341.4,902.3 1341.9,903.5 1342.4,899.7 1342.8,902.6 1343.3,902.6 1343.8,900 1344.2,900 1344.7,900.3 1345.2,900.4 1345.7,904.6 1346.1,902.4 1346.6,901.7 1347.1,902.1 1347.5,898.5 1348,898.9 1348.5,901.2 1348.9,901.8 1349.4,902.1 1349.9,901.7 1350.4,899.8 1350.8,899.4 1351.3,901.3 1351.8,898.6 1352.2,901.3 1352.7,900.6 1353.2,903.1 1353.6,902 1354.1,903.6 1354.6,901.8 1355.1,900.8 1355.5,902.4 1356,902.5 1356.5,900.6 1356.9,903 1357.4,900.8 1357.9,901.9 1358.4,903.2 1358.8,903.4 1359.3,901.7 1359.8,900.6 1360.2,902.2 1360.7,903.7 1361.2,902.7 1361.6,900.6 1362.1,901.6 1362.6,902.4 1363.1,902.2 1363.5,899.2 1364,905.9 1364.5,903.8 1364.9,900.3 1365.4,900.9 1365.9,901.2 1366.3,902.9 1366.8,900.5 1367.3,903.1 1367.8,902.9 1368.2,903.6 1368.7,901.7 1369.2,904.5 1369.6,902.1 1370.1,903.9 1370.6,902.2 1371,903.9 1371.5,900.9 1372,903.8 1372.5,903.5 1372.9,904.1 1373.4,904.2 1373.9,903.5 1374.3,903.2 1374.8,905.9 1375.3,904.7 1375.8,903.7 1376.2,905.1 1376.7,904.2 1377.2,903.1 1377.6,903.1 1378.1,902.6 1378.6,903.7 1379,902.6 1379.5,907.1 1380,905.9 1380.5,906.7 1380.9,906.6 1381.4,905.1 1381.9,906.7 1382.3,909.7 1382.8,904.5 1383.3,906 1383.7,907.1 1384.2,907.7 1384.7,908 1385.2,907.9 1385.6,907.6 1386.1,904.5 1386.6,907.5 1387,904.2 1387.5,903.3 1388,905.2 1388.4,903.4 1388.9,904.2 1389.4,905.3 1389.9,905.4 1390.3,902.9 1390.8,902.8 1391.3,907.1 1391.7,905.1 1392.2,907.4 1392.7,905.6 1393.2,903.1 1393.6,904.5 1394.1,905.8 1394.6,903.6 1395,903.7 1395.5,903.8 1396,903.3 1396.4,904.3 1396.9,904.4 1397.4,904.1 1397.9,904.1 1398.3,901.7 1398.8,906.9 1399.3,906.9 1399.7,907.1 1400.2,908.5 1400.7,907.4 1401.1,907.7 1401.6,904.9 1402.1,904.6 1402.6,907.9 1403,906 1403.5,907.8 1404,907 1404.4,905.7 1404.9,906.5 1405.4,906.6 1405.8,904.2 1406.3,905.6 1406.8,907.3 1407.3,907.3 1407.7,908.1 1408.2,906 1408.7,903.7 1409.1,903.8 1409.6,905.5 1410.1,906.5 1410.6,905.5 1411,906.7 1411.5,908.2 1412,908.2 1412.4,904.4 1412.9,905.8 1413.4,907.1 1413.8,903.8 1414.3,904 1414.8,903.1 1415.3,905.1 1415.7,906.2 1416.2,904.3 1416.7,907 1417.1,906.1 1417.6,904.2 1418.1,907.6 1418.5,906.1 1419,906.9 1419.5,908.3 1420,903.9 1420.4,908.1 1420.9,907.1 1421.4,906 1421.8,903.9 1422.3,904.5 1422.8,905.8 1423.2,905.5 1423.7,902.9 1424.2,903.8 1424.7,903.6 1425.1,903.2 1425.6,902.6 1426.1,903.3 1426.5,901.1 1427,900 1427.5,904.3 1428,903.8 1428.4,902.4 1428.9,903.2 1429.4,904.7 1429.8,905.6 1430.3,905.5 1430.8,903.8 1431.2,903.7 1431.7,906.4 1432.2,904.8 1432.7,907 1433.1,903.7 1433.6,906 1434.1,906.3 1434.5,907 1435,904.8 1435.5,904.2 1435.9,907.6 1436.4,904 1436.9,906.7 1437.4,906 1437.8,906.4 1438.3,903.7 1438.8,902.2 1439.2,905.7 1439.7,903.1 1440.2,904.7 1440.7,901.6 1441.1,903.5 1441.6,904.3 1442.1,901 1442.5,902.7 1443,902.1 1443.5,901.2 1443.9,903 1444.4,901.9 1444.9,901.8 1445.4,902 1445.8,905.2 1446.3,902.8 1446.8,901.5 1447.2,901.3 1447.7,902.9 1448.2,901.8 1448.6,902.5 1449.1,902.2 1449.6,902.8 1450.1,900.7 1450.5,899.7 1451,900.4 1451.5,899.5 1451.9,900.3 1452.4,899.9 1452.9,900.1 1453.3,899.8 1453.8,901.5 1454.3,900.1 1454.8,901.2 1455.2,901.3 1455.7,897 1456.2,900.9 1456.6,901.4 1457.1,905.4 1457.6,900.3 1458.1,900.2 1458.5,903.3 1459,900.5 1459.5,899.4 1459.9,901.6 1460.4,898.5 1460.9,899.9 1461.3,898.9 1461.8,900.7 1462.3,899.4 1462.8,898.9 1463.2,898.7 1463.7,900.8 1464.2,901 1464.6,898.8 1465.1,901.4 1465.6,901.5 1466,900.8 1466.5,902.2 1467,899.1 1467.5,902.7 1467.9,901.4 1468.4,899.5 1468.9,900.2 1469.3,901.5 1469.8,898.9 1470.3,899.2 1470.7,899.5 1471.2,900.9 1471.7,899.1 1472.2,902.4 1472.6,898.3 1473.1,898.6 1473.6,902.1 1474,901.7 1474.5,900.9 1475,899.7 1475.5,897.3 1475.9,899.9 1476.4,897.6 1476.9,898.7 1477.3,899.4 1477.8,900.7 1478.3,898 1478.7,898.8 1479.2,901.7 1479.7,901 1480.2,898.6 1480.6,901.8 1481.1,899.5 1481.6,900.6 1482,900.7 1482.5,901.8 1483,901.4 1483.4,899.7 1483.9,900.7 1484.4,906 1484.9,903.4 1485.3,900.9 1485.8,904.7 1486.3,903.8 1486.7,904.5 1487.2,901.9 1487.7,905.3 1488.1,903 1488.6,903.1 1489.1,901.4 1489.6,903 1490,903.5 1490.5,903.3 1491,903.9 1491.4,904.2 1491.9,903 1492.4,907.4 1492.9,906.5 1493.3,904.6 1493.8,903.2 1494.3,905.3 1494.7,906 1495.2,905.7 1495.7,907.1 1496.1,904.4 1496.6,903.1 1497.1,903.3 1497.6,903.4 1498,902.3 1498.5,904.2 1499,903 1499.4,903.6 1499.9,905.1 1500.4,904 1500.8,903.5 1501.3,901.1 1501.8,902.6 1502.3,902.5 1502.7,900.5 1503.2,904.4 1503.7,904.3 1504.1,901.9 1504.6,900.9 1505.1,901 1505.5,900.4 1506,900.5 1506.5,904.3 1507,901.1 1507.4,902.5 1507.9,900.1 1508.4,900.4 1508.8,903.4 1509.3,902.8 1509.8,904 1510.3,900.3 1510.7,902.3 1511.2,900.8 1511.7,901.5 1512.1,903 1512.6,902.5 1513.1,904.4 1513.5,902.7 1514,902.9 1514.5,903.8 1515,905 1515.4,902.1 1515.9,904.3 1516.4,908 1516.8,904.1 1517.3,902.4 1517.8,902.7 1518.2,904 1518.7,905.6 1519.2,904.9 1519.7,904.5 1520.1,906.4 1520.6,906.5 1521.1,906.3 1521.5,905.4 1522,905.4 1522.5,906.2 1522.9,904.4 1523.4,904.6 1523.9,903.5 1524.4,906.5 1524.8,902.5 1525.3,907.5 1525.8,904 1526.2,903.1 1526.7,902.3 1527.2,902.7 1527.7,900.5 1528.1,903.6 1528.6,905.4 1529.1,906.7 1529.5,903.9 1530,903.8 1530.5,905.6 1530.9,902.5 1531.4,902.3 1531.9,903.6 1532.4,903.7 1532.8,905.7 1533.3,903.2 1533.8,902.1 1534.2,904.2 1534.7,903.9 1535.2,904.8 1535.6,902.3 1536.1,904.3 1536.6,902.5 1537.1,904.6 1537.5,903.6 1538,902.6 1538.5,903.5 1538.9,903.1 1539.4,903.7 1539.9,904.9 1540.3,901.6 1540.8,905.3 1541.3,903.1 1541.8,901.5 1542.2,902.9 1542.7,902 1543.2,904.2 1543.6,902 1544.1,901.2 1544.6,902.9 1545.1,905.3 1545.5,904.8 1546,901.8 1546.5,903.4 1546.9,905.2 1547.4,905.6 1547.9,904.8 1548.3,905.1 1548.8,904 1549.3,904.5 1549.8,904 1550.2,902.2 1550.7,904.8 1551.2,905.9 1551.6,904.5 1552.1,902 1552.6,903.4 1553,903.9 1553.5,903.8 1554,906.2 1554.5,903.6 1554.9,905.3 1555.4,901.5 1555.9,905.3 1556.3,905.5 1556.8,904.9 1557.3,903.1 1557.7,905.7 1558.2,903.8 1558.7,905.4 1559.2,900.5 1559.6,902.7 1560.1,904.2 1560.6,904.6 1561,903.9 1561.5,906.7 1562,904.5 1562.5,902.8 1562.9,907.2 1563.4,907.2 1563.9,907.4 1564.3,905.4 1564.8,906.9 1565.3,906.2 1565.7,904.9 1566.2,906.4 1566.7,907.8 1567.2,905.7 1567.6,909.4 1568.1,908.2 1568.6,906.2 1569,907.3 1569.5,904.2 1570,909.1 1570.4,908.2 1570.9,906.6 1571.4,906.5 1571.9,905.2 1572.3,905.9 1572.8,905.6 1573.3,905.8 1573.7,908.4 1574.2,907.3 1574.7,907.7 1575.2,904 1575.6,906.8 1576.1,905.5 1576.6,907.3 1577,906.7 1577.5,906.4 1578,908.5 1578.4,908.5 1578.9,907.3 1579.4,907.5 1579.9,906.7 1580.3,909.1 1580.8,907.1 1581.3,906.7 1581.7,908.5 1582.2,908.7 1582.7,908.3 1583.1,906.4 1583.6,909.6 1584.1,904.5 1584.6,909.4 1585,907.6 1585.5,907 1586,906.5 1586.4,907.7 1586.9,908.8 1587.4,907.5 1587.8,904.7 1588.3,907.3 1588.8,905.7 1589.3,908.5 1589.7,906.4 1590.2,904.7 1590.7,906.7 1591.1,908.5 1591.6,905.4 1592.1,905.2 1592.6,905.6 1593,907.7 1593.5,907.5 1594,907.9 1594.4,908.1 1594.9,910.8 1595.4,906.5 1595.8,907.4 1596.3,909.4 1596.8,906 1597.3,909.1 1597.7,905.9 1598.2,905.5 1598.7,904.4 1599.1,908.5 1599.6,906.6 1600.1,905.7 1600.5,907.6 1601,905.2 1601.5,907 1602,904.6 1602.4,905.9 1602.9,904.7 1603.4,905.4 1603.8,907.1 1604.3,906.2 1604.8,906.2 1605.2,906.7 1605.7,906.2 1606.2,907.2 1606.7,906.8 1607.1,909.1 1607.6,906.5 1608.1,907.6 1608.5,908.7 1609,907.9 1609.5,909.2 1610,908.8 1610.4,906.8 1610.9,906.5 1611.4,908.1 1611.8,910.2 1612.3,908.9 1612.8,906.7 1613.2,906.9 1613.7,906.7 1614.2,908.4 1614.7,907.2 1615.1,906.3 1615.6,905.9 1616.1,906.8 1616.5,906.4 1617,905.7 1617.5,906.8 1617.9,907 1618.4,905.1 1618.9,905.8 1619.4,907.2 1619.8,904.4 1620.3,903.9 1620.8,904.9 1621.2,905.5 1621.7,904.9 1622.2,904.3 1622.6,905.1 1623.1,903.9 1623.6,904.9 1624.1,903.8 1624.5,904.9 1625,903.8 1625.5,903.4 1625.9,904.8 1626.4,902.5 1626.9,902 1627.4,901.5 1627.8,901.6 1628.3,902 1628.8,903.1 1629.2,900.7 1629.7,902.1 1630.2,903.5 1630.6,902.6 1631.1,901.8 1631.6,901.2 1632.1,901.3 1632.5,900 1633,902.5 1633.5,901.1 1633.9,901.9 1634.4,901.2 1634.9,898.8 1635.3,899.3 1635.8,897.4 1636.3,897.6 1636.8,897.6 1637.2,897.5 1637.7,898.5 1638.2,898.1 1638.6,897.6 1639.1,897.7 1639.6,897.1 1640,895.4 1640.5,896.3 1641,896.6 1641.5,896.5 1641.9,895.8 1642.4,894.6 1642.9,895.3 1643.3,895.4 1643.8,893.9 1644.3,895 1644.8,895.4 1645.2,895.2 1645.7,895.2 1646.2,895.5 1646.6,894.8 1647.1,893.9 1647.6,895.1 1648,896.2 1648.5,894.8 1649,894.7 1649.5,895.6 1649.9,895.7 1650.4,894.7 1650.9,893.9 1651.3,895.6 1651.8,894.2 1652.3,894.5 1652.7,895.3 1653.2,895.9 1653.7,896.9 1654.2,895.8 1654.6,896.6 1655.1,895.5 1655.6,896.4 1656,895.7 1656.5,896.7 1657,896.1 1657.4,896.7 1657.9,896.1 1658.4,897.3 1658.9,897 1659.3,897.2 1659.8,896.9 1660.3,895.8 1660.7,896.8 1661.2,897.1 1661.7,897.3 1662.2,895.8 1662.6,895.8 1663.1,896.7 1663.6,897.1 1664,897.3 1664.5,896 1665,895.8 1665.4,896.7 1665.9,896.3 1666.4,896.2 1666.9,896.1 1667.3,896.9 1667.8,897.1 1668.3,897.4 1668.7,898 1669.2,897.6 1669.7,898.2 1670.1,897.9 1670.6,898.5 1671.1,899 1671.6,899.2 1672,899.6 1672.5,898.9 1673,900.1 1673.4,900.6 1673.9,900.8 1674.4,901.1 1674.8,901.5 1675.3,901.5 1675.8,902.2 1676.3,902.8 1676.7,903.3 1677.2,904 1677.7,905.2 1678.1,905.6 1678.6,906.7 1679.1,908.1 1679.6,909.5 1680,911 1680.5,912.8 1681,913.9 1681.4,915.5 1681.9,915.5 1682.4,916.6 1682.8,917 1683.3,917.7 1683.8,918.9 1684.3,919 1684.7,920.1 1685.2,920.4 1685.7,921.4 1686.1,921.6 1686.6,922.1 1687.1,923.2 1687.5,923.9 1688,925.1 1688.5,925.6 1689,926.6 1689.4,926.8 1689.9,928.3 1690.4,928.7 1690.8,929.7 1691.3,930.1 1691.8,931.2 1692.2,932.9 1692.7,932.8 1693.2,934.3 1693.7,934.2 1694.1,935.5 1694.6,935.4 1695.1,935.7 1695.5,937.1 1696,937.2 1696.5,936.3 1697,937.3 1697.4,936.7 1697.9,937.3 1698.4,937.5 1698.8,937.3 1699.3,936.9 1699.8,936.5 1700.2,935.9 1700.7,935.6 1701.2,934.6 1701.7,934.1 1702.1,933.6 1702.6,932.3 1703.1,931.8 1703.5,930.8 1704,930.5 1704.5,930.1 1704.9,928.9 1705.4,928.3 1705.9,927 1706.4,926.2 1706.8,923.9 1707.3,923.5 1707.8,922.7 1708.2,922 1708.7,919.8 1709.2,918.6 1709.7,917.9 1710.1,917.1 1710.6,915.7 1711.1,914.8 1711.5,913.6 1712,911.9 1712.5,910.5 1712.9,909.6 1713.4,907.7 1713.9,906.8 1714.4,906.3 1714.8,904.4 1715.3,902.4 1715.8,901.2 1716.2,899.4 1716.7,898 1717.2,896.1 1717.6,895 1718.1,892.6 1718.6,890.4 1719.1,889.1 1719.5,887.5 1720,885.2 1720.5,883 1720.9,880.8 1721.4,878.7 1721.9,875.9 1722.3,874.8 1722.8,872.4 1723.3,869.6 1723.8,867.6 1724.2,865.2 1724.7,862.5 1725.2,859.8 1725.6,858.7 1726.1,857.1 1726.6,854.6 1727.1,852.7 1727.5,850.7 1728,849.7 1728.5,848.2 1728.9,846.9 1729.4,845.6 1729.9,844.7 1730.3,843.3 1730.8,842.6 1731.3,841 1731.8,840.2 1732.2,839 1732.7,838.4 1733.2,837.3 1733.6,836.8 1734.1,835.8 1734.6,836.1 1735,836.4 1735.5,836.1 1736,836.2 1736.5,836.6 1736.9,837.5 1737.4,837.3 1737.9,838.8 1738.3,839.8 1738.8,840.9 1739.3,841.8 1739.7,843.5 1740.2,844.4 1740.7,845.7 1741.2,846.9 1741.6,848.3 1742.1,850.6 1742.6,852.9 1743,854.6 1743.5,856.8 1744,859.2 1744.5,861.9 1744.9,865.2 1745.4,868 1745.9,871 1746.3,874.6 1746.8,877.8 1747.3,880 1747.7,883.9 1748.2,886.7 1748.7,889.9 1749.2,892.8 1749.6,895.9 1750.1,899.1 1750.6,902.3 1751,905 1751.5,907.1 1752,910.9 1752.4,914.4 1752.9,917.1 1753.4,920.2 1753.9,924 1754.3,926.9 1754.8,929.7 1755.3,932.9 1755.7,935.8 1756.2,938.3 1756.7,941.4 1757.1,944.1 1757.6,946.8 1758.1,949.2 1758.6,951.7 1759,954.7 1759.5,956.7 1760,960.5 1760.4,962.2 1760.9,964.7 1761.4,967 1761.9,969.7 1762.3,973.4 1762.8,975.6 1763.3,978 1763.7,981 1764.2,983.4 1764.7,985.6 1765.1,987.8 1765.6,989.7 1766.1,991.8 1766.6,994.2 1767,995.8 1767.5,997.9 1768,998.8 1768.4,1001 1768.9,1002 1769.4,1002.7 1769.8,1003.5 1770.3,1003.3 1770.8,1003.9 1771.3,1004.1 1771.7,1004.5 1772.2,1004 1772.7,1003.6 1773.1,1002.3 1773.6,1001.5 1774.1,1000.2 1774.5,999.3 1775,996.8 1775.5,995.1 1776,992.1 1776.4,988.8 1776.9,986.3 1777.4,983.4 1777.8,980.2 1778.3,978.3 1778.8,975 1779.3,972.7 1779.7,969.7 1780.2,966.7 1780.7,963.9 1781.1,961 1781.6,957.4 1782.1,953.9 1782.5,951.2 1783,947.4 1783.5,943.7 1784,940.1 1784.4,936.9 1784.9,934.6 1785.4,931.4 1785.8,928.6 1786.3,926.5 1786.8,923.7 1787.2,921.3 1787.7,918.5 1788.2,916.4 1788.7,913.9 1789.1,912.1 1789.6,910 1790.1,907.3 1790.5,905.1 1791,902.1 1791.5,899.9 1791.9,897.1 1792.4,894.8 1792.9,892.3 1793.4,891 1793.8,888.3 1794.3,886 1794.8,883.6 1795.2,881.4 1795.7,879.1 1796.2,877.3 1796.7,876.2 1797.1,873.2 1797.6,872.1 1798.1,870.5 1798.5,869.2 1799,867.2 1799.5,865.6 1799.9,864.4 1800.4,862.3 1800.9,860.4 1801.4,859.1 1801.8,857.6 1802.3,856.9 1802.8,855.6 1803.2,854.7 1803.7,853.7 1804.2,852.8 1804.6,851.1 1805.1,850 1805.6,847.3 1806.1,844.9 1806.5,840.9 1807,836.8 1807.5,831 1807.9,826.2 1808.4,819 1808.9,812.3 1809.3,803.3 1809.8,792.7 1810.3,780.7 1810.8,766.5 1811.2,751.2 1811.7,735.7 1812.2,717.6 1812.6,700.6 1813.1,682.9 1813.6,665 1814.1,642.8 1814.5,619.2 1815,600.2 1815.5,585.3 1815.9,571.1 1816.4,553.1 1816.9,527.3 1817.3,486.3 1817.8,439.8 1818.3,394.7 1818.8,355.2 1819.2,317.7 1819.7,279.9 1820.2,240 1820.6,208.4 1821.1,187.1 1821.6,174.1 1822,184.9 1822.5,209.8 1823,232.7 1823.5,264.2 1823.9,331 1824.4,407.8 1824.9,487.9 1825.3,570.1 1825.8,652.9 1826.3,737.7 1826.7,830.3 1827.2,929.5 1827.7,1015.4 1828.2,1086.3 1828.6,1144.7 1829.1,1192.7 1829.6,1216.9 1830,1229.5 1830.5,1235.5 1831,1238.2 1831.5,1239.5 1831.9,1239.9 1832.4,1239.9 1832.9,1240 1833.3,1240 1833.8,1240 1834.3,1240 1834.7,1240 1835.2,1240 1835.7,1240 1836.2,1240 1836.6,1240 1837.1,1240 1837.6,1240 1838,1240 1838.5,1240 1839,1240 1839.4,1240 1839.9,1240 1840.4,1240 1840.9,1240 1841.3,1240 1841.8,1240 1842.3,1240 1842.7,1240 1843.2,1240 1843.7,1240 1844.2,1240 1844.6,1240 1845.1,1240 1845.6,1240 1846,1240 1846.5,1240 1847,1240 1847.4,1239.5 1847.9,1239.5 1848.4,1239.5 1848.9,1239.5 1849.3,1239.5 1849.8,1239.5 1850.3,1239.5 1850.7,1239.5 1851.2,1239.5 1851.7,1239.5 1852.1,1239.5 1852.6,1239.5 1853.1,1239.5 1853.6,1239.5 1854,1239.5 1854.5,1239.5 1855,1239.5 1855.4,1239.5 1855.9,1239.5 1856.4,1239.5 1856.8,1239.5 1857.3,1239.5 1857.8,1239.5 1858.3,1239.5 1858.7,1239.5 1859.2,1239.5 1859.7,1239.5 1860.1,1239.5 1860.6,1239.5 1861.1,1239.5 1861.6,1239.5 1862,1239.5 1862.5,1239.5 1863,1239.5 1863.4,1239.5 1863.9,1239.5 1864.4,1239.5 1864.8,1239.5 1865.3,1239.5 1865.8,1239.5 1866.3,1239.5 1866.7,1239.5 1867.2,1239.5 1867.7,1239.5 1868.1,1239.5 1868.6,1239.5 1869.1,1239.5 1869.5,1239.5 1870,1239.5 1870.5,1239.5 1871,1239.5 1871.4,1239.5 1871.9,1239.5 1872.4,1239.5 1872.8,1239.5 1873.3,1239.5 1873.8,1239.5 1874.2,1239.5 1874.7,1239.5 1875.2,1239.5 1875.7,1239.5 1876.1,1239.5 1876.6,1239.5 1877.1,1239.5 1877.5,1239.5 1878,1239.5 1878.5,1239.5 1879,1239.5 1879.4,1239.5 1879.9,1239.5 1880.4,1239.5 1880.8,1239.5 1881.3,1239.5 1881.8,1239.5 1882.2,1239.5 1882.7,1239.5 1883.2,1239.5 1883.7,1239.5 1884.1,1239.5 1884.6,1239.5 1885.1,1239.5 1885.5,1239.5 1886,1239.5 1886.5,1239.5 1886.9,1239.5 1887.4,1239.5 1887.9,1239.5 1888.4,1239.5 1888.8,1239.5 1889.3,1239.5 1889.8,1239.5 1890.2,1239.5 1890.7,1239.5 1891.2,1239.5 1891.6,1239.5 1892.1,1239.5 1892.6,1239.5 1893.1,1239.5 1893.5,1239.5 1894,1239.5 1894.5,1239.5 1894.9,1239.5 1895.4,1239.5 1895.9,1239.5 1896.4,1239.5 1896.8,1239.5 1897.3,1239.5 1897.8,1239.5 1898.2,1239.5 1898.7,1239.5 1899.2,1239.5 1899.6,1239.5 1900.1,1239.5 1900.6,1239.5 1901.1,1239.5 1901.5,1239.5 1902,1239.5 1902.5,1239.5 1902.9,1239.5 1903.4,1239.5 1903.9,1239.5 1904.3,1239.5 1904.8,1239.5 1905.3,1239.5 1905.8,1239.5 1906.2,1239.5 1906.7,1239.5 1907.2,1239.5 1907.6,1239.5 1908.1,1239.5 1908.6,1239.5 1909,1239.5 1909.5,1239.5 1910,1239.5 1910.5,1239.5 1910.9,1239.5 1911.4,1239.5 1911.9,1239.5 1912.3,1239.5 1912.8,1239.5 1913.3,1239.5 1913.8,1239.5 1914.2,1239.5 1914.7,1239.5 1915.2,1239.5 1915.6,1239.5 1916.1,1239.5 1916.6,1239.5 1917,1239.5 1917.5,1239.5" fill="none" stroke="#1f77b4" stroke-width="5" stroke-linejoin="round" />
<polyline points="304,909.1 304.5,905.6 304.9,908.1 305.4,906.5 305.9,908.4 306.3,908.8 306.8,907.6 307.3,909.8 307.7,909.5 308.2,907.7 308.7,909.2 309.2,909.2 309.6,912.3 310.1,910.4 310.6,910.4 311,910.2 311.5,906.2 312,910.6 312.4,910.7 312.9,909.7 313.4,909.8 313.9,912.4 314.3,910.1 314.8,907.8 315.3,908.2 315.7,908.1 316.2,908.7 316.7,908.7 317.2,909.9 317.6,908.1 318.1,906.3 318.6,909 319,907.5 319.5,906.6 320,910.2 320.4,908.5 320.9,909.3 321.4,909.3 321.9,909.9 322.3,908.6 322.8,910 323.3,910.4 323.7,906.6 324.2,908.5 324.7,910.2 325.1,908.1 325.6,906.4 326.1,906.6 326.6,907.3 327,908.8 327.5,905.6 328,907.1 328.4,907.7 328.9,907.3 329.4,908.1 329.8,906.7 330.3,909.1 330.8,907.9 331.3,908.3 331.7,909.8 332.2,907.5 332.7,909 333.1,908.5 333.6,905.7 334.1,907.5 334.6,906.6 335,908.6 335.5,906.5 336,909.2 336.4,908.7 336.9,908.4 337.4,906.7 337.8,909.3 338.3,908.7 338.8,908.2 339.3,911.8 339.7,906.7 340.2,908.3 340.7,911 341.1,910.7 341.6,908.3 342.1,908.6 342.5,909.5 343,911.4 343.5,908.4 344,908.1 344.4,912.2 344.9,910.2 345.4,908.2 345.8,911.9 346.3,910.6 346.8,909 347.2,912 347.7,910 348.2,913 348.7,908.7 349.1,907.7 349.6,909.4 350.1,909.4 350.5,909.1 351,908.5 351.5,909.7 352,908.4 352.4,907.8 352.9,908.4 353.4,907.8 353.8,908.6 354.3,907.6 354.8,909.8 355.2,909.1 355.7,908.8 356.2,906.1 356.7,906.8 357.1,910.3 357.6,909.6 358.1,910.1 358.5,911.1 359,910.8 359.5,908.7 359.9,912.1 360.4,908.2 360.9,910.4 361.4,909.2 361.8,909.2 362.3,909.8 362.8,908.2 363.2,909.6 363.7,908.7 364.2,906.2 364.6,909.7 365.1,907.2 365.6,910.7 366.1,905.8 366.5,912.1 367,909 367.5,911.4 367.9,908.7 368.4,908.7 368.9,910.5 369.4,908.2 369.8,906.8 370.3,907.7 370.8,908.8 371.2,906.6 371.7,905.9 372.2,909.3 372.6,907.6 373.1,909.9 373.6,909.4 374.1,907.8 374.5,908 375,907.9 375.5,910.1 375.9,908.4 376.4,907.2 376.9,909.1 377.3,908.4 377.8,909.4 378.3,907.8 378.8,906 379.2,907.9 379.7,908.9 380.2,907.8 380.6,906.7 381.1,907.9 381.6,904.6 382,910 382.5,907.5 383,907.7 383.5,907 383.9,907.2 384.4,909.2 384.9,908.8 385.3,910.5 385.8,910.8 386.3,909.8 386.8,910.3 387.2,909.8 387.7,911.2 388.2,912.7 388.6,909.6 389.1,909.4 389.6,910.8 390,909.6 390.5,911.8 391,909.2 391.5,911.9 391.9,909.8 392.4,910.4 392.9,908.9 393.3,909.7 393.8,909.6 394.3,910.8 394.7,909 395.2,908.8 395.7,912.6 396.2,911.7 396.6,911.5 397.1,912 397.6,913.7 398,913.1 398.5,913.6 399,914 399.5,913.2 399.9,912.2 400.4,913.6 400.9,914.6 401.3,913.4 401.8,913.5 402.3,912.6 402.7,911 403.2,911.1 403.7,916.6 404.2,907.7 404.6,910 405.1,913.8 405.6,911.6 406,913.3 406.5,908.6 407,913.1 407.4,910 407.9,911.3 408.4,910.1 408.9,910.8 409.3,912.7 409.8,913.2 410.3,910.6 410.7,910.6 411.2,911 411.7,908.3 412.1,909.9 412.6,910.5 413.1,906.6 413.6,909 414,909.5 414.5,909.8 415,909.7 415.4,910.2 415.9,910.1 416.4,910.1 416.9,910.6 417.3,910.8 417.8,908.5 418.3,911.6 418.7,908.9 419.2,907.6 419.7,910.1 420.1,909.4 420.6,907.8 421.1,908.8 421.6,911.3 422,910.1 422.5,910.4 423,908.4 423.4,907.2 423.9,910.7 424.4,908.6 424.8,908.1 425.3,908.1 425.8,911.6 426.3,910 426.7,909.6 427.2,909.3 427.7,909.9 428.1,906.9 428.6,907.5 429.1,908.4 429.5,911.9 430,907.2 430.5,911.1 431,907.8 431.4,909.3 431.9,907.7 432.4,909.3 432.8,908.1 433.3,909.3 433.8,906.9 434.3,906.8 434.7,907.4 435.2,905 435.7,908.1 436.1,911.8 436.6,903.8 437.1,903.9 437.5,906.7 438,909 438.5,908.4 439,911.6 439.4,910.2 439.9,909.2 440.4,908.4 440.8,909.1 441.3,907.2 441.8,907.6 442.2,908.1 442.7,909.7 443.2,908.5 443.7,907.2 444.1,908.8 444.6,907.1 445.1,909.4 445.5,908.1 446,910.8 446.5,911 446.9,909.9 447.4,906.9 447.9,911 448.4,909.8 448.8,909 449.3,908.5 449.8,909.1 450.2,909.9 450.7,910.2 451.2,908.9 451.7,907.7 452.1,908.2 452.6,911.2 453.1,912 453.5,910.3 454,908.4 454.5,907.9 454.9,910.1 455.4,911.4 455.9,911.2 456.4,909.2 456.8,910.4 457.3,906.6 457.8,910.9 458.2,913.4 458.7,906.5 459.2,908.2 459.6,911.9 460.1,911.8 460.6,912.2 461.1,909 461.5,910.6 462,909.6 462.5,912.5 462.9,911.2 463.4,908.7 463.9,912.7 464.3,912.4 464.8,909.1 465.3,911.3 465.8,911.1 466.2,912.2 466.7,910.9 467.2,912.3 467.6,907 468.1,909.2 468.6,908.7 469.1,910 469.5,910.4 470,909.4 470.5,910.7 470.9,909.6 471.4,910.4 471.9,908.3 472.3,910 472.8,907.8 473.3,907 473.8,909.4 474.2,909.1 474.7,908.4 475.2,910.3 475.6,908 476.1,907.5 476.6,911.8 477,908.5 477.5,910 478,911 478.5,911.1 478.9,911.8 479.4,910.3 479.9,912.2 480.3,909.4 480.8,911.6 481.3,910.4 481.7,913.3 482.2,912.5 482.7,910.2 483.2,912.6 483.6,913.2 484.1,909.7 484.6,914.3 485,910.8 485.5,912.5 486,909.6 486.5,911.4 486.9,912.3 487.4,909.1 487.9,912.6 488.3,907.6 488.8,910.8 489.3,911.6 489.7,911.7 490.2,911.2 490.7,912.1 491.2,911 491.6,911.6 492.1,912.5 492.6,910.3 493,911.5 493.5,913.5 494,910.9 494.4,913.1 494.9,911.2 495.4,911.5 495.9,910.1 496.3,909 496.8,908.1 497.3,909.6 497.7,908.7 498.2,909.3 498.7,908.1 499.1,907.1 499.6,906.4 500.1,910 500.6,907.5 501,909.2 501.5,909 502,912.4 502.4,907.9 502.9,911.1 503.4,910.7 503.9,910.2 504.3,907.1 504.8,911.8 505.3,911.5 505.7,912.2 506.2,910.5 506.7,910.6 507.1,908.8 507.6,909.5 508.1,910.7 508.6,909.4 509,909.9 509.5,909.5 510,910 510.4,909.8 510.9,910.4 511.4,909.9 511.8,913.4 512.3,910.7 512.8,910.7 513.3,911.4 513.7,909.9 514.2,911.4 514.7,913.4 515.1,911.6 515.6,909.5 516.1,908.8 516.5,909.6 517,911 517.5,909.3 518,909 518.4,909.5 518.9,910.1 519.4,909.9 519.8,911.2 520.3,909.9 520.8,910.8 521.3,909.6 521.7,910.7 522.2,913.6 522.7,910.4 523.1,908.8 523.6,909.5 524.1,907.4 524.5,910.3 525,907 525.5,908.1 526,906.3 526.4,906.8 526.9,910.4 527.4,909.3 527.8,907.2 528.3,906.6 528.8,906.8 529.2,909.5 529.7,907.7 530.2,909.1 530.7,906.3 531.1,907.2 531.6,909.7 532.1,906.2 532.5,909.4 533,909.4 533.5,909 534,912.4 534.4,908.1 534.9,908.9 535.4,910.2 535.8,907.9 536.3,911.8 536.8,908.3 537.2,910.9 537.7,908.5 538.2,912.2 538.7,912.1 539.1,908.9 539.6,912.1 540.1,910.2 540.5,910.9 541,909.6 541.5,908.2 541.9,910.6 542.4,907.9 542.9,908.9 543.4,909.2 543.8,908.1 544.3,910.1 544.8,907.8 545.2,909.8 545.7,909.5 546.2,907.1 546.6,909.6 547.1,912.1 547.6,908.5 548.1,910.4 548.5,909.6 549,907.3 549.5,911.8 549.9,908.1 550.4,908.1 550.9,906.8 551.4,911 551.8,912 552.3,909.2 552.8,908.4 553.2,910.5 553.7,908.4 554.2,911.5 554.6,908.2 555.1,910.8 555.6,910 556.1,908.3 556.5,907.9 557,907 557.5,907 557.9,908.1 558.4,904.8 558.9,908.4 559.3,910.4 559.8,905.7 560.3,906.2 560.8,906.9 561.2,906.8 561.7,908.1 562.2,905.8 562.6,905.8 563.1,905.3 563.6,909.6 564,908.3 564.5,910.3 565,907.9 565.5,907.9 565.9,907.4 566.4,907.7 566.9,907.5 567.3,907.9 567.8,909.1 568.3,909.1 568.8,907.1 569.2,911.7 569.7,910 570.2,912.8 570.6,908.4 571.1,908.2 571.6,907.6 572,909 572.5,909.3 573,907.6 573.5,908 573.9,909.3 574.4,910 574.9,906.6 575.3,909.3 575.8,908.4 576.3,912.2 576.7,908.1 577.2,906.2 577.7,907.8 578.2,912 578.6,909.6 579.1,907.5 579.6,908.7 580,909 580.5,908.9 581,910.1 581.4,909.7 581.9,906.7 582.4,909.5 582.9,908.4 583.3,906.9 583.8,907.7 584.3,907.2 584.7,909.4 585.2,907.5 585.7,907.5 586.2,910.2 586.6,908.2 587.1,912.3 587.6,909.4 588,908.2 588.5,907.7 589,910 589.4,907.8 589.9,907.1 590.4,906.3 590.9,906.9 591.3,906.2 591.8,906.2 592.3,906.5 592.7,906 593.2,906.8 593.7,908.6 594.1,907 594.6,905.4 595.1,908.1 595.6,909.1 596,909.6 596.5,906.8 597,908.6 597.4,907.4 597.9,910.7 598.4,909 598.8,905.1 599.3,905.2 599.8,904.9 600.3,908.6 600.7,908.1 601.2,907.3 601.7,905.9 602.1,908.4 602.6,907.7 603.1,907.5 603.6,908.4 604,908.3 604.5,907.6 605,909.8 605.4,906.7 605.9,908.1 606.4,909.4 606.8,906.3 607.3,908.7 607.8,906.2 608.3,906.2 608.7,907.3 609.2,908.2 609.7,906.8 610.1,908.2 610.6,906.8 611.1,907.9 611.5,910.2 612,908.5 612.5,906.9 613,908.4 613.4,907.7 613.9,910 614.4,911.6 614.8,907.6 615.3,907.3 615.8,908.6 616.2,911.3 616.7,911.3 617.2,910.3 617.7,912.2 618.1,911.2 618.6,909.8 619.1,908.9 619.5,906.5 620,910.6 620.5,911.9 621,910.6 621.4,908.5 621.9,912.1 622.4,909.3 622.8,910.1 623.3,906.4 623.8,907.3 624.2,908.2 624.7,909.4 625.2,908.3 625.7,908.8 626.1,906.3 626.6,907.7 627.1,907 627.5,910 628,907.5 628.5,908.3 628.9,906.2 629.4,910.2 629.9,908.5 630.4,908.2 630.8,909.5 631.3,905.6 631.8,909.3 632.2,908.4 632.7,908.6 633.2,908.8 633.6,906.6 634.1,907.6 634.6,905.3 635.1,906.7 635.5,905.8 636,907.5 636.5,906.8 636.9,909 637.4,909.1 637.9,908.6 638.4,908.9 638.8,908.2 639.3,909.4 639.8,910.4 640.2,909.3 640.7,912.5 641.2,913.3 641.6,910.3 642.1,908.9 642.6,910.7 643.1,909.1 643.5,908.8 644,909.6 644.5,906 644.9,910 645.4,909.6 645.9,910.7 646.3,908.8 646.8,910.5 647.3,911.3 647.8,910.7 648.2,911.5 648.7,910.2 649.2,910.3 649.6,910.5 650.1,911.2 650.6,912.6 651,910.7 651.5,911.5 652,913.1 652.5,911.7 652.9,911 653.4,910.2 653.9,911.1 654.3,910 654.8,911.4 655.3,912.4 655.8,910.4 656.2,909.9 656.7,911.1 657.2,910.8 657.6,909.8 658.1,909.2 658.6,907.3 659,912.1 659.5,910 660,910.9 660.5,909.7 660.9,911.2 661.4,908.4 661.9,908.9 662.3,907.7 662.8,907.8 663.3,908.8 663.7,908.1 664.2,907 664.7,908.9 665.2,910.1 665.6,909.7 666.1,908.9 666.6,908.7 667,910.8 667.5,905 668,907.1 668.5,906.8 668.9,907.1 669.4,907.1 669.9,907.5 670.3,908.8 670.8,907.8 671.3,908.6 671.7,906.7 672.2,906 672.7,908.4 673.2,907.8 673.6,907.2 674.1,908.2 674.6,906.7 675,909 675.5,909.3 676,907.7 676.4,906 676.9,906.7 677.4,905.7 677.9,906.9 678.3,906.6 678.8,905.4 679.3,903.5 679.7,906.2 680.2,906.1 680.7,906.1 681.1,906.6 681.6,907.5 682.1,909.3 682.6,907 683,905.6 683.5,908.8 684,905.1 684.4,906.8 684.9,908.4 685.4,909.8 685.9,907.2 686.3,908.8 686.8,908.3 687.3,906.8 687.7,906.3 688.2,907.7 688.7,910.1 689.1,909.1 689.6,908.7 690.1,905.8 690.6,907.8 691,908.9 691.5,910.4 692,909.6 692.4,906.7 692.9,908.9 693.4,907.1 693.8,907.7 694.3,905.3 694.8,907.8 695.3,908.5 695.7,907.6 696.2,906.1 696.7,907.6 697.1,908.7 697.6,908.3 698.1,910.1 698.5,908.2 699,908.3 699.5,909.2 700,909.8 700.4,906.2 700.9,908.8 701.4,908.3 701.8,905 702.3,907.9 702.8,908.4 703.3,907.4 703.7,905.1 704.2,908 704.7,908 705.1,908.8 705.6,909 706.1,909.4 706.5,910.1 707,909.4 707.5,908.6 708,908.8 708.4,905.2 708.9,905.4 709.4,909.2 709.8,906.1 710.3,906.1 710.8,907.6 711.2,906.5 711.7,904.3 712.2,907.6 712.7,906.1 713.1,908 713.6,908.3 714.1,909.8 714.5,907.8 715,908.8 715.5,910.2 715.9,909.3 716.4,909.1 716.9,908.8 717.4,908.7 717.8,910 718.3,909 718.8,907.6 719.2,909.6 719.7,906.2 720.2,910.3 720.7,910.5 721.1,907.1 721.6,908.7 722.1,908.9 722.5,908.9 723,905.9 723.5,905.3 723.9,906.9 724.4,906.4 724.9,908.4 725.4,908.7 725.8,907.7 726.3,907.7 726.8,906.2 727.2,908.2 727.7,908.5 728.2,907.1 728.6,906.5 729.1,910.9 729.6,906.5 730.1,910.1 730.5,906.8 731,908.2 731.5,907.7 731.9,910.9 732.4,908.2 732.9,908.3 733.3,911.5 733.8,909.4 734.3,906.6 734.8,907.3 735.2,909.3 735.7,909.9 736.2,908.7 736.6,909 737.1,909.6 737.6,908.8 738.1,907.9 738.5,909.7 739,910.4 739.5,909.2 739.9,908.7 740.4,908.8 740.9,908.6 741.3,909.5 741.8,906.5 742.3,910.4 742.8,909.1 743.2,910.8 743.7,908.9 744.2,911.4 744.6,911.4 745.1,909.2 745.6,908.9 746,908.6 746.5,912.3 747,909.1 747.5,910.9 747.9,906.5 748.4,911.8 748.9,912.3 749.3,911.2 749.8,909.4 750.3,911.7 750.7,912.6 751.2,912.5 751.7,911.7 752.2,913.7 752.6,908 753.1,910 753.6,911 754,910.8 754.5,910.3 755,910.9 755.5,910.1 755.9,911.4 756.4,911.3 756.9,912.9 757.3,909.6 757.8,912 758.3,912.4 758.7,911.3 759.2,914.3 759.7,911.8 760.2,911.4 760.6,912.1 761.1,915 761.6,910.1 762,910 762.5,912.2 763,908.5 763.4,911.7 763.9,911.1 764.4,907.9 764.9,908.4 765.3,909.9 765.8,908.8 766.3,910.6 766.7,911.3 767.2,910.7 767.7,908.1 768.1,908.5 768.6,909.7 769.1,906.3 769.6,909 770,910.7 770.5,908.9 771,909 771.4,911.9 771.9,911.3 772.4,907.6 772.9,911.2 773.3,909.5 773.8,907.8 774.3,907.5 774.7,910 775.2,913.2 775.7,909.9 776.1,909 776.6,910.7 777.1,913 777.6,911.3 778,909.3 778.5,909.6 779,911.6 779.4,910.4 779.9,911.4 780.4,910.3 780.8,912.1 781.3,910.7 781.8,911.9 782.3,908.9 782.7,911.2 783.2,910.1 783.7,911.4 784.1,912.9 784.6,910.2 785.1,911.7 785.6,908.6 786,908.3 786.5,910.5 787,911.5 787.4,909 787.9,910.8 788.4,909.1 788.8,908.9 789.3,910.6 789.8,907.7 790.3,909.7 790.7,909.2 791.2,910.2 791.7,911.8 792.1,910.2 792.6,911 793.1,909 793.5,911.5 794,910 794.5,909.3 795,907.5 795.4,910.5 795.9,909.4 796.4,910.7 796.8,910.9 797.3,910.4 797.8,908.3 798.2,908.6 798.7,910.3 799.2,911.7 799.7,909.2 800.1,910.6 800.6,910.5 801.1,910.6 801.5,909.5 802,910.7 802.5,911.7 803,912 803.4,911.8 803.9,911.8 804.4,912.8 804.8,912.8 805.3,909.1 805.8,909.9 806.2,912.3 806.7,911.4 807.2,911.8 807.7,910.6 808.1,911.6 808.6,911 809.1,910.5 809.5,909 810,911 810.5,910.7 810.9,912.3 811.4,911.9 811.9,910.8 812.4,911.9 812.8,913.5 813.3,911.9 813.8,910.7 814.2,911 814.7,910.4 815.2,911.2 815.6,909.4 816.1,908.6 816.6,907.5 817.1,908.8 817.5,909.8 818,908.3 818.5,911.5 818.9,912.8 819.4,907.4 819.9,909.7 820.4,911.7 820.8,908 821.3,908.1 821.8,909.6 822.2,911.1 822.7,907.5 823.2,911.4 823.6,911.2 824.1,911.4 824.6,910.8 825.1,913.1 825.5,911.6 826,910 826.5,908 826.9,911.1 827.4,911.1 827.9,910.4 828.3,909.6 828.8,909.1 829.3,911.5 829.8,913.3 830.2,914.4 830.7,908.7 831.2,910.2 831.6,909.4 832.1,909.3 832.6,909.5 833,907.7 833.5,910.1 834,909 834.5,912.3 834.9,911.1 835.4,913.1 835.9,913.6 836.3,915.4 836.8,913.2 837.3,913.3 837.8,911.4 838.2,913.4 838.7,913.4 839.2,912.5 839.6,912.3 840.1,909.2 840.6,908.8 841,912.4 841.5,908 842,910.2 842.5,908.3 842.9,910.5 843.4,906.9 843.9,911 844.3,909.9 844.8,908.1 845.3,910.2 845.7,908 846.2,910.3 846.7,908 847.2,907.3 847.6,912.5 848.1,908.1 848.6,908.5 849,910.9 849.5,909.4 850,909.7 850.4,906.7 850.9,910.2 851.4,909.1 851.9,910.6 852.3,909.9 852.8,909.5 853.3,910.7 853.7,909.1 854.2,910.9 854.7,910.8 855.2,911.1 855.6,911.1 856.1,910 856.6,909.9 857,913.6 857.5,912.7 858,911.2 858.4,911 858.9,913.6 859.4,909.9 859.9,908.1 860.3,911.2 860.8,911.7 861.3,912.5 861.7,911.4 862.2,911.9 862.7,910.8 863.1,910.4 863.6,913.1 864.1,909.7 864.6,910.1 865,912.3 865.5,909.3 866,908.8 866.4,912.4 866.9,910.7 867.4,912.5 867.8,912.5 868.3,912.2 868.8,914.5 869.3,911.9 869.7,912.7 870.2,912.1 870.7,911.8 871.1,912.2 871.6,909.1 872.1,910.7 872.6,908.5 873,912.1 873.5,911 874,911.5 874.4,911.1 874.9,909.5 875.4,908.6 875.8,906.3 876.3,909.9 876.8,908.3 877.3,909 877.7,909.6 878.2,909.4 878.7,909.7 879.1,906 879.6,908.5 880.1,907.9 880.5,909.7 881,908.2 881.5,909 882,909.6 882.4,909.2 882.9,910.2 883.4,907.2 883.8,909.7 884.3,909.9 884.8,910.2 885.2,910 885.7,909.5 886.2,911 886.7,909.2 887.1,907.4 887.6,906 888.1,907.1 888.5,907.4 889,906.9 889.5,910.3 890,907.4 890.4,908.2 890.9,909.2 891.4,910.1 891.8,909.2 892.3,909 892.8,912.6 893.2,910 893.7,909.8 894.2,909.9 894.7,912.4 895.1,911.8 895.6,912.1 896.1,910 896.5,907.2 897,909.7 897.5,909 897.9,911.7 898.4,910.5 898.9,908.5 899.4,909.5 899.8,909.8 900.3,909.6 900.8,909.1 901.2,907.9 901.7,908.2 902.2,907.3 902.6,908.5 903.1,906 903.6,912.2 904.1,908.4 904.5,905.4 905,908.1 905.5,908.9 905.9,908.4 906.4,907.1 906.9,906.3 907.4,908.7 907.8,907.1 908.3,909.4 908.8,908 909.2,908.8 909.7,907.5 910.2,908.2 910.6,907.1 911.1,909.9 911.6,914.3 912.1,907.8 912.5,908.2 913,909 913.5,909.7 913.9,910.3 914.4,908.6 914.9,907.5 915.3,906.8 915.8,908.6 916.3,909.4 916.8,906.2 917.2,905.1 917.7,906.3 918.2,909.4 918.6,904.8 919.1,909.1 919.6,905.9 920.1,910.9 920.5,909.1 921,907.3 921.5,908.6 921.9,907.9 922.4,907.7 922.9,907.1 923.3,907.7 923.8,911.6 924.3,910.2 924.8,906.8 925.2,910.4 925.7,912.7 926.2,908.9 926.6,910.6 927.1,910.7 927.6,908.7 928,909.2 928.5,910.9 929,909.1 929.5,911.4 929.9,911.5 930.4,910.5 930.9,912.5 931.3,912 931.8,911.4 932.3,912 932.7,912.8 933.2,909.2 933.7,911.9 934.2,910.4 934.6,912.5 935.1,911.1 935.6,912.6 936,909.2 936.5,911.3 937,911.1 937.5,906.6 937.9,913.2 938.4,911 938.9,911.1 939.3,910.9 939.8,910.6 940.3,912.7 940.7,912.3 941.2,910.3 941.7,912.1 942.2,910.9 942.6,911.3 943.1,909.8 943.6,909.8 944,909.7 944.5,913.5 945,910.5 945.4,911.2 945.9,909.7 946.4,910.9 946.9,909.5 947.3,913.4 947.8,908.8 948.3,911.5 948.7,911.2 949.2,912 949.7,912.5 950.1,910 950.6,911.4 951.1,908.9 951.6,908.4 952,908.5 952.5,909.1 953,910 953.4,910.6 953.9,911.2 954.4,909.8 954.9,908 955.3,911.2 955.8,909 956.3,909.4 956.7,910.3 957.2,909.1 957.7,909 958.1,910.9 958.6,911.4 959.1,911.7 959.6,906.7 960,907.6 960.5,909.9 961,907.6 961.4,908.7 961.9,909.8 962.4,907.7 962.8,911.1 963.3,911.7 963.8,910.4 964.3,909.8 964.7,906.6 965.2,906.4 965.7,910.1 966.1,908.2 966.6,906.1 967.1,906.1 967.5,910 968,906.6 968.5,908 969,908.5 969.4,907.6 969.9,910.4 970.4,908.5 970.8,909.7 971.3,908.7 971.8,909.8 972.3,908.7 972.7,907.5 973.2,909.9 973.7,910.6 974.1,911.1 974.6,911 975.1,911.3 975.5,909.8 976,911.6 976.5,913.2 977,910.9 977.4,910.6 977.9,910.2 978.4,910.4 978.8,911.7 979.3,910.8 979.8,909.5 980.2,909.2 980.7,912.4 981.2,909.1 981.7,911.6 982.1,910.4 982.6,908.8 983.1,908.9 983.5,909.3 984,909.3 984.5,908.9 984.9,910.9 985.4,909.8 985.9,909.8 986.4,909.7 986.8,911 987.3,906.8 987.8,909.8 988.2,908.7 988.7,910.5 989.2,909.7 989.7,910.1 990.1,910.1 990.6,909.4 991.1,910.2 991.5,908.3 992,907 992.5,909.9 992.9,909.6 993.4,910.2 993.9,907 994.4,906 994.8,906.6 995.3,908.5 995.8,907 996.2,906 996.7,905.3 997.2,905.3 997.6,908.2 998.1,908.7 998.6,906.5 999.1,908 999.5,902.5 1000,906.5 1000.5,903 1000.9,904 1001.4,905.5 1001.9,905.6 1002.3,904.3 1002.8,903.7 1003.3,906.9 1003.8,906.4 1004.2,908 1004.7,905.3 1005.2,907.4 1005.6,906.4 1006.1,907.3 1006.6,908 1007.1,906.5 1007.5,907 1008,904.7 1008.5,907 1008.9,909.9 1009.4,905.8 1009.9,907.7 1010.3,906.7 1010.8,905.7 1011.3,909.7 1011.8,908.9 1012.2,909 1012.7,905.8 1013.2,907 1013.6,905 1014.1,904.8 1014.6,906.8 1015,906.1 1015.5,904.3 1016,903.4 1016.5,903.7 1016.9,906.2 1017.4,905.6 1017.9,905.7 1018.3,906.1 1018.8,908.2 1019.3,906.9 1019.7,909 1020.2,910.2 1020.7,905.3 1021.2,910.8 1021.6,910.3 1022.1,909.4 1022.6,910 1023,908.5 1023.5,909.9 1024,911.1 1024.5,909.1 1024.9,910.8 1025.4,909.9 1025.9,910.6 1026.3,911.4 1026.8,907.9 1027.3,908.6 1027.7,909.9 1028.2,909.5 1028.7,911.4 1029.2,911.3 1029.6,909.9 1030.1,908.5 1030.6,910.8 1031,910.4 1031.5,911.9 1032,909.2 1032.4,910.7 1032.9,910.5 1033.4,911.3 1033.9,909.1 1034.3,906.5 1034.8,907.6 1035.3,910.9 1035.7,906.4 1036.2,909.4 1036.7,907.9 1037.1,908 1037.6,904.8 1038.1,910 1038.6,907.5 1039,908.3 1039.5,909 1040,907.7 1040.4,910.2 1040.9,905.5 1041.4,907.4 1041.9,911.1 1042.3,908.7 1042.8,910.7 1043.3,908.8 1043.7,909.8 1044.2,907.1 1044.7,907.3 1045.1,911.2 1045.6,909.6 1046.1,911.2 1046.6,908.3 1047,909 1047.5,907.7 1048,907.1 1048.4,909.8 1048.9,908.8 1049.4,912.6 1049.8,908.7 1050.3,909.4 1050.8,908.7 1051.3,909.9 1051.7,905.6 1052.2,910.7 1052.7,910.2 1053.1,910.4 1053.6,908.3 1054.1,909.3 1054.6,909.6 1055,912.1 1055.5,908.8 1056,909.8 1056.4,911.5 1056.9,914.2 1057.4,909.1 1057.8,910.3 1058.3,913.7 1058.8,908.5 1059.3,908.5 1059.7,912.8 1060.2,909.1 1060.7,909.1 1061.1,911.2 1061.6,910.7 1062.1,910.5 1062.5,908.1 1063,910.8 1063.5,910 1064,910.4 1064.4,911.2 1064.9,909.5 1065.4,912.2 1065.8,912.5 1066.3,912.5 1066.8,908.8 1067.2,906.4 1067.7,908.9 1068.2,909.5 1068.7,909.2 1069.1,908.4 1069.6,909.3 1070.1,910.2 1070.5,907.1 1071,908.9 1071.5,909.2 1072,908 1072.4,906.9 1072.9,908.6 1073.4,907.7 1073.8,909.2 1074.3,909 1074.8,907.3 1075.2,907 1075.7,907.5 1076.2,906.7 1076.7,909 1077.1,910.2 1077.6,910.3 1078.1,907.9 1078.5,911.1 1079,907.9 1079.5,908.7 1079.9,908.1 1080.4,910.5 1080.9,911.1 1081.4,909.1 1081.8,911.3 1082.3,910.6 1082.8,910.3 1083.2,910.8 1083.7,910.5 1084.2,910.4 1084.6,911.4 1085.1,911 1085.6,910.4 1086.1,913.6 1086.5,909.4 1087,910.6 1087.5,912 1087.9,911.1 1088.4,909.4 1088.9,910.9 1089.4,910.2 1089.8,909.3 1090.3,908.8 1090.8,910.4 1091.2,910.3 1091.7,911.1 1092.2,910.5 1092.6,909.3 1093.1,909.7 1093.6,911 1094.1,908.6 1094.5,910.3 1095,910.1 1095.5,909.7 1095.9,910.5 1096.4,906.4 1096.9,911.1 1097.3,908.3 1097.8,907.8 1098.3,910.1 1098.8,907.3 1099.2,907.3 1099.7,907.8 1100.2,909.5 1100.6,907.7 1101.1,912.8 1101.6,907.2 1102,909.3 1102.5,909.3 1103,910.1 1103.5,908.6 1103.9,910.8 1104.4,909.8 1104.9,909.5 1105.3,908.8 1105.8,912.5 1106.3,910.1 1106.8,910.4 1107.2,909.5 1107.7,911.9 1108.2,912.7 1108.6,911.3 1109.1,911.3 1109.6,912.1 1110,911.7 1110.5,909.8 1111,910.7 1111.5,909.8 1111.9,912.7 1112.4,911 1112.9,912.5 1113.3,909.3 1113.8,908.9 1114.3,906.6 1114.7,909.8 1115.2,910.8 1115.7,907.7 1116.2,908.1 1116.6,911.9 1117.1,910.8 1117.6,912.2 1118,911.7 1118.5,912.3 1119,911.2 1119.4,908.3 1119.9,908.4 1120.4,907.7 1120.9,911.1 1121.3,909.1 1121.8,909.4 1122.3,911 1122.7,908.6 1123.2,908.6 1123.7,910.6 1124.2,909.7 1124.6,911.2 1125.1,909.4 1125.6,909.6 1126,913.1 1126.5,912.2 1127,909.7 1127.4,910.6 1127.9,908.2 1128.4,911.1 1128.9,911.8 1129.3,909.6 1129.8,911 1130.3,912.8 1130.7,911.6 1131.2,909.5 1131.7,910.4 1132.1,910.5 1132.6,910 1133.1,909.7 1133.6,909.2 1134,910.4 1134.5,908.2 1135,909.1 1135.4,910.1 1135.9,907.7 1136.4,906.8 1136.8,910.3 1137.3,907.9 1137.8,906.4 1138.3,908.3 1138.7,911.8 1139.2,909.3 1139.7,908 1140.1,908.3 1140.6,909.9 1141.1,909.9 1141.6,910.5 1142,911.1 1142.5,910.8 1143,908.8 1143.4,909.6 1143.9,910.9 1144.4,911.6 1144.8,909.9 1145.3,906.9 1145.8,911.2 1146.3,908.3 1146.7,913 1147.2,906.4 1147.7,905.9 1148.1,907.1 1148.6,906.9 1149.1,907.2 1149.5,908.1 1150,907.1 1150.5,910.6 1151,908.8 1151.4,910 1151.9,907.9 1152.4,907.8 1152.8,907.7 1153.3,908.5 1153.8,909.8 1154.2,908.5 1154.7,908.4 1155.2,909.4 1155.7,909.2 1156.1,909.8 1156.6,910.9 1157.1,907.9 1157.5,908.8 1158,908.1 1158.5,908.5 1159,906.7 1159.4,910.9 1159.9,908.6 1160.4,907.2 1160.8,907 1161.3,909 1161.8,907.7 1162.2,909.2 1162.7,910.3 1163.2,910.2 1163.7,909.7 1164.1,907.7 1164.6,911 1165.1,910.8 1165.5,910.6 1166,911.7 1166.5,909.5 1166.9,911.7 1167.4,906.7 1167.9,907.5 1168.4,910.4 1168.8,907.7 1169.3,908.7 1169.8,907.1 1170.2,906.7 1170.7,907.5 1171.2,910.7 1171.6,905 1172.1,906.6 1172.6,908.1 1173.1,910.4 1173.5,908.7 1174,911.4 1174.5,907.2 1174.9,908.1 1175.4,908.7 1175.9,907.9 1176.4,906 1176.8,909.7 1177.3,909.2 1177.8,910.3 1178.2,913.6 1178.7,907.9 1179.2,909.2 1179.6,908.9 1180.1,910 1180.6,907 1181.1,909.2 1181.5,910.1 1182,908.4 1182.5,909.9 1182.9,911.5 1183.4,910.1 1183.9,907.7 1184.3,912.6 1184.8,911.2 1185.3,911.3 1185.8,911.6 1186.2,910.7 1186.7,910.7 1187.2,913.8 1187.6,911 1188.1,910.2 1188.6,913.7 1189.1,914.7 1189.5,912.5 1190,912.7 1190.5,912.3 1190.9,912.2 1191.4,912.9 1191.9,909.6 1192.3,909.1 1192.8,911.9 1193.3,909.7 1193.8,909 1194.2,908.9 1194.7,910.8 1195.2,911 1195.6,906.4 1196.1,911.5 1196.6,910.3 1197,909.6 1197.5,909 1198,911.4 1198.5,910.8 1198.9,908.3 1199.4,908.5 1199.9,910.7 1200.3,911.9 1200.8,912.1 1201.3,910 1201.7,912.4 1202.2,909.5 1202.7,911.7 1203.2,912.5 1203.6,912.2 1204.1,908.1 1204.6,911.4 1205,910.4 1205.5,910.2 1206,912.1 1206.5,909.5 1206.9,909 1207.4,907.8 1207.9,909.9 1208.3,909.8 1208.8,908.4 1209.3,907.6 1209.7,906.6 1210.2,910.2 1210.7,908.6 1211.2,906.3 1211.6,906.5 1212.1,903.7 1212.6,904.8 1213,908.4 1213.5,903.4 1214,906.1 1214.4,906 1214.9,905.8 1215.4,907.5 1215.9,903.5 1216.3,907.2 1216.8,907.3 1217.3,905 1217.7,904.6 1218.2,902.9 1218.7,906.2 1219.1,903.7 1219.6,903.8 1220.1,905.2 1220.6,904.8 1221,900.8 1221.5,905.1 1222,903.3 1222.4,906 1222.9,904.2 1223.4,903.2 1223.9,907.8 1224.3,905.6 1224.8,902.8 1225.3,905.8 1225.7,905.4 1226.2,908.1 1226.7,906.4 1227.1,907.3 1227.6,904.5 1228.1,906.3 1228.6,906.4 1229,905.5 1229.5,907.7 1230,905.8 1230.4,906.4 1230.9,905.7 1231.4,905.8 1231.8,906 1232.3,905.5 1232.8,906.1 1233.3,908.4 1233.7,910.8 1234.2,905.5 1234.7,905.7 1235.1,905.6 1235.6,906.8 1236.1,904.6 1236.5,907.7 1237,907.9 1237.5,902 1238,907.2 1238.4,905.7 1238.9,906.1 1239.4,905.7 1239.8,907.2 1240.3,906.3 1240.8,905.7 1241.3,908.8 1241.7,910.8 1242.2,906.2 1242.7,910 1243.1,906 1243.6,906.4 1244.1,904.7 1244.5,906 1245,904.6 1245.5,907.2 1246,909.7 1246.4,906.1 1246.9,906.7 1247.4,907.9 1247.8,907.2 1248.3,908.4 1248.8,910.5 1249.2,910 1249.7,908.3 1250.2,905.5 1250.7,907.6 1251.1,913 1251.6,909.1 1252.1,911.1 1252.5,910 1253,911.3 1253.5,908.5 1253.9,908.8 1254.4,909.2 1254.9,908.8 1255.4,909.7 1255.8,909.1 1256.3,907 1256.8,909.3 1257.2,910.4 1257.7,907.3 1258.2,910.1 1258.7,905.7 1259.1,907.8 1259.6,906.6 1260.1,908.3 1260.5,905.2 1261,907.7 1261.5,908.3 1261.9,907.3 1262.4,907.2 1262.9,906.6 1263.4,905.9 1263.8,905.5 1264.3,906.1 1264.8,906.5 1265.2,907.4 1265.7,909.1 1266.2,907.6 1266.6,905.9 1267.1,907 1267.6,906.2 1268.1,906.9 1268.5,905.7 1269,909.5 1269.5,909.4 1269.9,911.2 1270.4,909.4 1270.9,907.5 1271.3,909.4 1271.8,904.4 1272.3,907.8 1272.8,908.5 1273.2,906.5 1273.7,906.9 1274.2,906.1 1274.6,908.5 1275.1,908.6 1275.6,907.7 1276.1,906.8 1276.5,907.8 1277,908.6 1277.5,910.5 1277.9,911.3 1278.4,908.1 1278.9,910.3 1279.3,909.4 1279.8,911.7 1280.3,907.8 1280.8,908.2 1281.2,909.6 1281.7,908.5 1282.2,911.5 1282.6,911.6 1283.1,912.5 1283.6,908.2 1284,910 1284.5,909.9 1285,909.7 1285.5,910.8 1285.9,912.2 1286.4,915.4 1286.9,911.2 1287.3,910.2 1287.8,911.2 1288.3,912.8 1288.7,911.6 1289.2,909.1 1289.7,910 1290.2,912.1 1290.6,909.9 1291.1,907.2 1291.6,911.2 1292,912.2 1292.5,910 1293,910.5 1293.5,908.2 1293.9,911.2 1294.4,912 1294.9,909.6 1295.3,911.4 1295.8,908.9 1296.3,911.8 1296.7,910.5 1297.2,910.7 1297.7,909.3 1298.2,906.9 1298.6,907.6 1299.1,912 1299.6,907.3 1300,913.2 1300.5,908.3 1301,911.9 1301.4,911 1301.9,910.6 1302.4,911 1302.9,914.5 1303.3,908.4 1303.8,910 1304.3,910.4 1304.7,913.5 1305.2,911.2 1305.7,912.6 1306.1,909.9 1306.6,911.3 1307.1,907.7 1307.6,911.4 1308,910.4 1308.5,910.2 1309,911.8 1309.4,910.5 1309.9,911.9 1310.4,911.1 1310.9,912.8 1311.3,910.7 1311.8,911.3 1312.3,908.9 1312.7,911.1 1313.2,911.5 1313.7,909.9 1314.1,912.7 1314.6,910.2 1315.1,912.7 1315.6,910.4 1316,908.8 1316.5,909.7 1317,909.2 1317.4,906.9 1317.9,908.4 1318.4,905.8 1318.8,905.6 1319.3,906 1319.8,908.3 1320.3,905.1 1320.7,908.1 1321.2,908.2 1321.7,907.3 1322.1,908.3 1322.6,905.3 1323.1,908.8 1323.6,907.2 1324,906.4 1324.5,906.4 1325,906.5 1325.4,908.3 1325.9,906.9 1326.4,906.6 1326.8,908.4 1327.3,907.7 1327.8,908.9 1328.3,909.7 1328.7,909.3 1329.2,911.5 1329.7,909.8 1330.1,912.9 1330.6,909.5 1331.1,910.9 1331.5,909.6 1332,912.8 1332.5,912.2 1333,912.7 1333.4,913.4 1333.9,912.4 1334.4,911.7 1334.8,913.9 1335.3,911.4 1335.8,913.2 1336.2,912 1336.7,912 1337.2,910.5 1337.7,912.1 1338.1,909.5 1338.6,914.3 1339.1,910.4 1339.5,910.1 1340,910.1 1340.5,909.2 1341,914.4 1341.4,909.8 1341.9,910.1 1342.4,910.6 1342.8,911.2 1343.3,914.3 1343.8,910.5 1344.2,909 1344.7,911.5 1345.2,912.6 1345.7,914.2 1346.1,910.1 1346.6,912.5 1347.1,912.8 1347.5,913.5 1348,913.3 1348.5,911.6 1348.9,912.5 1349.4,910.8 1349.9,912.5 1350.4,914 1350.8,910.9 1351.3,908.7 1351.8,909.2 1352.2,910.1 1352.7,909.5 1353.2,908.3 1353.6,910.5 1354.1,910.2 1354.6,906 1355.1,908.8 1355.5,906.5 1356,906.6 1356.5,905 1356.9,905.8 1357.4,908 1357.9,911.4 1358.4,908.4 1358.8,907.7 1359.3,908 1359.8,905.6 1360.2,908.9 1360.7,906.8 1361.2,904.2 1361.6,907.2 1362.1,905.9 1362.6,905.8 1363.1,904.9 1363.5,903.3 1364,906.9 1364.5,904.7 1364.9,904.4 1365.4,905.9 1365.9,905.7 1366.3,904.6 1366.8,902 1367.3,905.6 1367.8,906.6 1368.2,907.1 1368.7,903.1 1369.2,905.1 1369.6,908.2 1370.1,902.8 1370.6,907 1371,904.6 1371.5,907.2 1372,905.5 1372.5,907.5 1372.9,904.1 1373.4,905.5 1373.9,906.3 1374.3,904.4 1374.8,907 1375.3,905.7 1375.8,905.5 1376.2,907 1376.7,904.9 1377.2,907 1377.6,906.9 1378.1,907.6 1378.6,906.6 1379,905.3 1379.5,906.6 1380,906.2 1380.5,906.4 1380.9,906.1 1381.4,907.7 1381.9,906.1 1382.3,905.8 1382.8,909.1 1383.3,905.7 1383.7,907.8 1384.2,909.3 1384.7,906.9 1385.2,906.1 1385.6,905.5 1386.1,905.3 1386.6,905.8 1387,903.8 1387.5,907.8 1388,905.9 1388.4,909.3 1388.9,904.6 1389.4,904.3 1389.9,909.3 1390.3,910 1390.8,907.4 1391.3,910.7 1391.7,909.4 1392.2,907.3 1392.7,909.6 1393.2,908.1 1393.6,911.5 1394.1,911.4 1394.6,909.6 1395,914.3 1395.5,910.5 1396,911.9 1396.4,910.2 1396.9,913 1397.4,911.1 1397.9,914.9 1398.3,909.8 1398.8,909.8 1399.3,911.9 1399.7,910.4 1400.2,911.9 1400.7,911.4 1401.1,910.3 1401.6,913.2 1402.1,912.4 1402.6,909.4 1403,911.7 1403.5,911.9 1404,910.8 1404.4,912.5 1404.9,910.6 1405.4,911.8 1405.8,909.4 1406.3,907.3 1406.8,904.3 1407.3,906.3 1407.7,910.3 1408.2,908 1408.7,909 1409.1,907.6 1409.6,908.4 1410.1,909.2 1410.6,908 1411,908.7 1411.5,907.3 1412,907.3 1412.4,907.2 1412.9,910.4 1413.4,906.1 1413.8,907.9 1414.3,908.7 1414.8,904.2 1415.3,905.3 1415.7,908.2 1416.2,907.3 1416.7,907.3 1417.1,909.4 1417.6,908.6 1418.1,908.1 1418.5,906.1 1419,909 1419.5,908.6 1420,906.3 1420.4,910.5 1420.9,905.6 1421.4,905.9 1421.8,910.9 1422.3,907.2 1422.8,910.9 1423.2,909.5 1423.7,908 1424.2,910.6 1424.7,909.2 1425.1,909.1 1425.6,910.7 1426.1,909.7 1426.5,908.6 1427,908.5 1427.5,905.8 1428,903.4 1428.4,906.6 1428.9,906.9 1429.4,909 1429.8,906.4 1430.3,907.4 1430.8,909.2 1431.2,910.1 1431.7,905.7 1432.2,908.1 1432.7,903.2 1433.1,906.1 1433.6,906.2 1434.1,910.1 1434.5,909.3 1435,906.4 1435.5,907 1435.9,903.7 1436.4,909 1436.9,906.6 1437.4,906 1437.8,906.2 1438.3,904.3 1438.8,903.6 1439.2,904.3 1439.7,907.7 1440.2,910.4 1440.7,905.8 1441.1,908.8 1441.6,906.4 1442.1,908.3 1442.5,908 1443,906.5 1443.5,906.6 1443.9,909.8 1444.4,911 1444.9,907.2 1445.4,910.6 1445.8,909.1 1446.3,911.8 1446.8,910.2 1447.2,911.1 1447.7,909.7 1448.2,908.8 1448.6,910.5 1449.1,911.2 1449.6,911 1450.1,912.8 1450.5,911.9 1451,908.6 1451.5,911.3 1451.9,912 1452.4,910.4 1452.9,910.6 1453.3,910.4 1453.8,909.1 1454.3,910.8 1454.8,910.3 1455.2,911.7 1455.7,909.1 1456.2,910.3 1456.6,907.7 1457.1,910.3 1457.6,912.6 1458.1,913 1458.5,911.5 1459,910.2 1459.5,910.3 1459.9,910.6 1460.4,909.3 1460.9,909 1461.3,908.2 1461.8,906.9 1462.3,911.5 1462.8,910.7 1463.2,909.1 1463.7,910.5 1464.2,912 1464.6,908.2 1465.1,911 1465.6,911.8 1466,908.8 1466.5,907 1467,909.3 1467.5,912.8 1467.9,908.6 1468.4,907.1 1468.9,905.6 1469.3,906.1 1469.8,907.4 1470.3,910.3 1470.7,910 1471.2,909.8 1471.7,910.8 1472.2,910.5 1472.6,910.1 1473.1,911.2 1473.6,911.6 1474,910.4 1474.5,910 1475,911.1 1475.5,910.8 1475.9,909 1476.4,910.4 1476.9,906.6 1477.3,907.5 1477.8,905.7 1478.3,909.2 1478.7,908.5 1479.2,910.7 1479.7,909.8 1480.2,908.4 1480.6,908.5 1481.1,911.9 1481.6,911.5 1482,910.4 1482.5,911 1483,910 1483.4,912.1 1483.9,911.4 1484.4,913.4 1484.9,909.2 1485.3,910.7 1485.8,910.3 1486.3,909.9 1486.7,910.2 1487.2,909.2 1487.7,908.4 1488.1,909.1 1488.6,908.1 1489.1,907.2 1489.6,909.9 1490,907.2 1490.5,911.4 1491,909 1491.4,908.7 1491.9,907.9 1492.4,909.6 1492.9,910 1493.3,910.9 1493.8,910.3 1494.3,910.1 1494.7,912.1 1495.2,909.3 1495.7,911.9 1496.1,910.3 1496.6,911.2 1497.1,912.2 1497.6,912.6 1498,911.3 1498.5,912.5 1499,910.7 1499.4,910.3 1499.9,910.1 1500.4,911.2 1500.8,912.4 1501.3,910.5 1501.8,909.8 1502.3,909.2 1502.7,909.3 1503.2,911.2 1503.7,909.7 1504.1,907.9 1504.6,907.6 1505.1,907.8 1505.5,907.2 1506,906.6 1506.5,904.2 1507,906.9 1507.4,902.2 1507.9,904.8 1508.4,903.2 1508.8,904.4 1509.3,902.5 1509.8,904.9 1510.3,909.9 1510.7,906.6 1511.2,903.4 1511.7,907.6 1512.1,908 1512.6,909.8 1513.1,905.9 1513.5,903.7 1514,907.8 1514.5,908.8 1515,905.4 1515.4,906.6 1515.9,908.4 1516.4,908.8 1516.8,906.5 1517.3,908.2 1517.8,909.6 1518.2,910.3 1518.7,909.9 1519.2,912.6 1519.7,908.1 1520.1,910 1520.6,909 1521.1,909.6 1521.5,910.1 1522,908 1522.5,911.3 1522.9,911.5 1523.4,909.3 1523.9,909.6 1524.4,904.6 1524.8,909 1525.3,908.5 1525.8,908.7 1526.2,907.1 1526.7,908.9 1527.2,907.7 1527.7,908.7 1528.1,907.9 1528.6,908.6 1529.1,909.3 1529.5,908.4 1530,907.2 1530.5,908.1 1530.9,909.8 1531.4,907.6 1531.9,909.9 1532.4,909.4 1532.8,908.4 1533.3,907.9 1533.8,907.5 1534.2,907.5 1534.7,909.5 1535.2,906.9 1535.6,908.1 1536.1,909.4 1536.6,906.5 1537.1,907.2 1537.5,906.8 1538,908.3 1538.5,905.9 1538.9,906.6 1539.4,904.2 1539.9,905 1540.3,908 1540.8,907.9 1541.3,906.7 1541.8,908.4 1542.2,908.7 1542.7,908.2 1543.2,908.9 1543.6,907.7 1544.1,903.4 1544.6,904.9 1545.1,907.5 1545.5,905.1 1546,906.2 1546.5,906.2 1546.9,907.5 1547.4,906.2 1547.9,906.8 1548.3,908.5 1548.8,906.6 1549.3,909.2 1549.8,910.6 1550.2,909.8 1550.7,907.2 1551.2,909.4 1551.6,908.8 1552.1,907.9 1552.6,911.1 1553,906.2 1553.5,906.7 1554,905.8 1554.5,905.8 1554.9,907.8 1555.4,906.6 1555.9,906.8 1556.3,906.5 1556.8,909.2 1557.3,905.6 1557.7,907.8 1558.2,905.9 1558.7,911.4 1559.2,909.4 1559.6,908.1 1560.1,907.5 1560.6,907.3 1561,907 1561.5,909.9 1562,908.6 1562.5,909.8 1562.9,911.3 1563.4,912.3 1563.9,911.7 1564.3,910.2 1564.8,910.7 1565.3,908.5 1565.7,910.9 1566.2,910.1 1566.7,912.1 1567.2,910.7 1567.6,907.3 1568.1,908.8 1568.6,908.8 1569,908.6 1569.5,912.1 1570,907.7 1570.4,908.3 1570.9,909.7 1571.4,909.4 1571.9,909.7 1572.3,910.7 1572.8,909.2 1573.3,911.8 1573.7,911.1 1574.2,910.6 1574.7,910.6 1575.2,911 1575.6,912.5 1576.1,911.7 1576.6,910.3 1577,911.3 1577.5,910.2 1578,912 1578.4,911 1578.9,910.7 1579.4,911.1 1579.9,909.6 1580.3,911.9 1580.8,911.3 1581.3,912.2 1581.7,912.2 1582.2,913.8 1582.7,912.5 1583.1,915.3 1583.6,914.3 1584.1,913.5 1584.6,914.9 1585,914.4 1585.5,915.7 1586,916.5 1586.4,915.6 1586.9,916.1 1587.4,917 1587.8,917.8 1588.3,917.1 1588.8,915.9 1589.3,914.3 1589.7,917.3 1590.2,914.6 1590.7,912.4 1591.1,916 1591.6,915.1 1592.1,914.9 1592.6,915 1593,914.3 1593.5,915.4 1594,913.6 1594.4,916.9 1594.9,912.9 1595.4,913.7 1595.8,911.7 1596.3,915.3 1596.8,914 1597.3,911.7 1597.7,909.6 1598.2,910.4 1598.7,913.7 1599.1,912.5 1599.6,913.4 1600.1,914.6 1600.5,913.4 1601,911.5 1601.5,913.6 1602,912.4 1602.4,912 1602.9,912.7 1603.4,911.2 1603.8,915.7 1604.3,912.3 1604.8,911.6 1605.2,911.2 1605.7,912.4 1606.2,912.5 1606.7,912.2 1607.1,913.1 1607.6,912.2 1608.1,911.9 1608.5,913.2 1609,910.6 1609.5,912.8 1610,911.7 1610.4,915.4 1610.9,913.5 1611.4,911.2 1611.8,913.6 1612.3,913.4 1612.8,911.4 1613.2,913.4 1613.7,913.4 1614.2,912.6 1614.7,913.8 1615.1,913.2 1615.6,913.5 1616.1,914.2 1616.5,911.9 1617,913.6 1617.5,913.1 1617.9,913.2 1618.4,912.7 1618.9,912.9 1619.4,914.6 1619.8,914.8 1620.3,914.1 1620.8,915.6 1621.2,913.6 1621.7,913.7 1622.2,915.9 1622.6,911.1 1623.1,913.8 1623.6,912.3 1624.1,914.9 1624.5,912.4 1625,911.7 1625.5,910.1 1625.9,911.8 1626.4,909.1 1626.9,911.3 1627.4,911.3 1627.8,910.1 1628.3,912.4 1628.8,913.9 1629.2,913.3 1629.7,913.6 1630.2,913.1 1630.6,912.5 1631.1,913.3 1631.6,911.6 1632.1,914.7 1632.5,913.9 1633,912.9 1633.5,913.5 1633.9,914.5 1634.4,912.9 1634.9,912.6 1635.3,913 1635.8,912.7 1636.3,912.4 1636.8,913 1637.2,910.8 1637.7,911.3 1638.2,910 1638.6,909.4 1639.1,910.4 1639.6,909.5 1640,908 1640.5,908.6 1641,908.8 1641.5,909.3 1641.9,909.3 1642.4,907.2 1642.9,908.3 1643.3,906.9 1643.8,905.5 1644.3,905.2 1644.8,906.1 1645.2,904 1645.7,906.4 1646.2,904.2 1646.6,903.5 1647.1,903.1 1647.6,902.4 1648,902 1648.5,902.3 1649,902.5 1649.5,902.9 1649.9,903 1650.4,902 1650.9,902.2 1651.3,903.6 1651.8,903.3 1652.3,904.6 1652.7,903.7 1653.2,903.6 1653.7,903.8 1654.2,903.2 1654.6,903.5 1655.1,904 1655.6,904.4 1656,904 1656.5,902.7 1657,904.7 1657.4,904 1657.9,903.2 1658.4,903.8 1658.9,903.9 1659.3,903.8 1659.8,903.1 1660.3,902.7 1660.7,904.6 1661.2,903 1661.7,903.3 1662.2,902.4 1662.6,902.6 1663.1,902.5 1663.6,902.6 1664,902.8 1664.5,903.1 1665,902.8 1665.4,902.5 1665.9,901.9 1666.4,902.5 1666.9,903 1667.3,902.5 1667.8,902.3 1668.3,902.1 1668.7,902.2 1669.2,902.7 1669.7,902.7 1670.1,903.9 1670.6,904.6 1671.1,906.1 1671.6,906.4 1672,906.4 1672.5,907.1 1673,908.2 1673.4,907.9 1673.9,908.4 1674.4,909.6 1674.8,909.9 1675.3,909.6 1675.8,910.1 1676.3,910.4 1676.7,911.5 1677.2,911.4 1677.7,911.8 1678.1,912.8 1678.6,913.3 1679.1,914 1679.6,914.6 1680,915.1 1680.5,916.3 1681,916.3 1681.4,916.9 1681.9,916.7 1682.4,917.8 1682.8,918.2 1683.3,919 1683.8,919.3 1684.3,920.2 1684.7,920.5 1685.2,921.2 1685.7,922.3 1686.1,922.8 1686.6,923.3 1687.1,923.8 1687.5,925 1688,925.6 1688.5,926.2 1689,927 1689.4,927.3 1689.9,927.4 1690.4,928.5 1690.8,929.2 1691.3,929.5 1691.8,929.8 1692.2,930.5 1692.7,931.4 1693.2,931.8 1693.7,933.1 1694.1,933.6 1694.6,934 1695.1,934 1695.5,935.3 1696,935 1696.5,935.5 1697,935.2 1697.4,936 1697.9,935.7 1698.4,935.9 1698.8,935.8 1699.3,935.7 1699.8,935.9 1700.2,935.9 1700.7,935.7 1701.2,935.9 1701.7,935.8 1702.1,935.2 1702.6,935.6 1703.1,935.1 1703.5,935.4 1704,934.4 1704.5,934 1704.9,934 1705.4,933.8 1705.9,933.1 1706.4,932.3 1706.8,932.2 1707.3,930.9 1707.8,930.7 1708.2,929.2 1708.7,928.7 1709.2,927.9 1709.7,927.1 1710.1,926.3 1710.6,924.9 1711.1,924.2 1711.5,922.6 1712,921.6 1712.5,920.5 1712.9,919.3 1713.4,917.7 1713.9,916.1 1714.4,916 1714.8,914.1 1715.3,913.1 1715.8,912.6 1716.2,910.7 1716.7,909.6 1717.2,908 1717.6,906.2 1718.1,904.1 1718.6,903.1 1719.1,900.4 1719.5,899 1720,896.9 1720.5,894.8 1720.9,893.1 1721.4,890.8 1721.9,888.3 1722.3,885.9 1722.8,884.5 1723.3,882 1723.8,879.3 1724.2,877.6 1724.7,874.8 1725.2,874 1725.6,871.5 1726.1,869.2 1726.6,865.8 1727.1,864.3 1727.5,861.7 1728,860 1728.5,858.8 1728.9,857.4 1729.4,855.4 1729.9,853.3 1730.3,852.9 1730.8,850.9 1731.3,850.1 1731.8,847.4 1732.2,846.2 1732.7,844.5 1733.2,842.6 1733.6,841.1 1734.1,840.1 1734.6,838.3 1735,837.1 1735.5,836.4 1736,834.9 1736.5,833.7 1736.9,833 1737.4,833.1 1737.9,832 1738.3,832.2 1738.8,831.8 1739.3,831.8 1739.7,832.3 1740.2,832.9 1740.7,832.8 1741.2,834.2 1741.6,834.9 1742.1,836.1 1742.6,837.8 1743,839.6 1743.5,841.5 1744,843.8 1744.5,845.4 1744.9,848.2 1745.4,850.4 1745.9,852.6 1746.3,856.3 1746.8,858.7 1747.3,862.1 1747.7,864.7 1748.2,868.3 1748.7,870.4 1749.2,874.7 1749.6,878.2 1750.1,881.8 1750.6,884.8 1751,888.9 1751.5,893.8 1752,897 1752.4,901.2 1752.9,906.5 1753.4,911 1753.9,914.6 1754.3,918.8 1754.8,923 1755.3,927 1755.7,930.4 1756.2,934 1756.7,937.1 1757.1,940.3 1757.6,944 1758.1,946.3 1758.6,949.1 1759,952.3 1759.5,955.8 1760,958.6 1760.4,961.7 1760.9,964.7 1761.4,967.2 1761.9,971 1762.3,973.3 1762.8,975.3 1763.3,978.8 1763.7,981.1 1764.2,984.3 1764.7,987.7 1765.1,990.7 1765.6,993.1 1766.1,996 1766.6,998.8 1767,1002.4 1767.5,1005.1 1768,1008 1768.4,1010.8 1768.9,1013.1 1769.4,1015.2 1769.8,1016.9 1770.3,1020 1770.8,1021.8 1771.3,1023 1771.7,1024.9 1772.2,1026 1772.7,1026 1773.1,1026.4 1773.6,1025.8 1774.1,1026 1774.5,1024.9 1775,1023 1775.5,1022.2 1776,1020.2 1776.4,1018.9 1776.9,1017 1777.4,1015 1777.8,1013.3 1778.3,1010.6 1778.8,1009 1779.3,1007.3 1779.7,1004.5 1780.2,1002.3 1780.7,999.6 1781.1,997.1 1781.6,993.6 1782.1,991.4 1782.5,987.7 1783,983.8 1783.5,980.7 1784,977.5 1784.4,973.6 1784.9,970.3 1785.4,966.7 1785.8,962.4 1786.3,958.5 1786.8,954.6 1787.2,951 1787.7,947.7 1788.2,943.8 1788.7,940.6 1789.1,937 1789.6,933.1 1790.1,930.1 1790.5,926.8 1791,922.9 1791.5,918.8 1791.9,915.8 1792.4,912.3 1792.9,908.5 1793.4,905.3 1793.8,901.1 1794.3,896.3 1794.8,892.2 1795.2,888 1795.7,883.4 1796.2,878.4 1796.7,874.4 1797.1,869.8 1797.6,865.7 1798.1,861.2 1798.5,857.2 1799,852.5 1799.5,847.8 1799.9,844 1800.4,840 1800.9,836.5 1801.4,832.4 1801.8,829.4 1802.3,825.9 1802.8,822.7 1803.2,819 1803.7,815.6 1804.2,812.9 1804.6,808.9 1805.1,805.6 1805.6,801.6 1806.1,798.7 1806.5,795.1 1807,790.9 1807.5,787.9 1807.9,783 1808.4,778.9 1808.9,775 1809.3,770.9 1809.8,766.7 1810.3,761.4 1810.8,755 1811.2,747.1 1811.7,738.3 1812.2,730.3 1812.6,721.2 1813.1,713.9 1813.6,706.6 1814.1,699.7 1814.5,692.5 1815,683.6 1815.5,669.2 1815.9,648.3 1816.4,622.5 1816.9,593.5 1817.3,563.2 1817.8,532.5 1818.3,497.2 1818.8,460.4 1819.2,421.4 1819.7,385.4 1820.2,350.1 1820.6,315.1 1821.1,281.4 1821.6,247.3 1822,211.6 1822.5,189.3 1823,187.1 1823.5,195.1 1823.9,210.1 1824.4,224 1824.9,237.5 1825.3,273.6 1825.8,357.4 1826.3,443.6 1826.7,533.1 1827.2,624.5 1827.7,697.4 1828.2,741.3 1828.6,790 1829.1,861.2 1829.6,947.1 1830,1036.4 1830.5,1111.1 1831,1165.6 1831.5,1203.3 1831.9,1222.5 1832.4,1232.2 1832.9,1237.2 1833.3,1239.1 1833.8,1239.8 1834.3,1239.9 1834.7,1240 1835.2,1240 1835.7,1240 1836.2,1240 1836.6,1240 1837.1,1240 1837.6,1240 1838,1240 1838.5,1240 1839,1240 1839.4,1240 1839.9,1240 1840.4,1240 1840.9,1240 1841.3,1240 1841.8,1240 1842.3,1240 1842.7,1240 1843.2,1240 1843.7,1240 1844.2,1240 1844.6,1240 1845.1,1240 1845.6,1240 1846,1240 1846.5,1240 1847,1240 1847.4,1239.5 1847.9,1239.5 1848.4,1239.5 1848.9,1239.5 1849.3,1239.5 1849.8,1239.5 1850.3,1239.5 1850.7,1239.5 1851.2,1239.5 1851.7,1239.5 1852.1,1239.5 1852.6,1239.5 1853.1,1239.5 1853.6,1239.5 1854,1239.5 1854.5,1239.5 1855,1239.5 1855.4,1239.5 1855.9,1239.5 1856.4,1239.5 1856.8,1239.5 1857.3,1239.5 1857.8,1239.5 1858.3,1239.5 1858.7,1239.5 1859.2,1239.5 1859.7,1239.5 1860.1,1239.5 1860.6,1239.5 1861.1,1239.5 1861.6,1239.5 1862,1239.5 1862.5,1239.5 1863,1239.5 1863.4,1239.5 1863.9,1239.5 1864.4,1239.5 1864.8,1239.5 1865.3,1239.5 1865.8,1239.5 1866.3,1239.5 1866.7,1239.5 1867.2,1239.5 1867.7,1239.5 1868.1,1239.5 1868.6,1239.5 1869.1,1239.5 1869.5,1239.5 1870,1239.5 1870.5,1239.5 1871,1239.5 1871.4,1239.5 1871.9,1239.5 1872.4,1239.5 1872.8,1239.5 1873.3,1239.5 1873.8,1239.5 1874.2,1239.5 1874.7,1239.5 1875.2,1239.5 1875.7,1239.5 1876.1,1239.5 1876.6,1239.5 1877.1,1239.5 1877.5,1239.5 1878,1239.5 1878.5,1239.5 1879,1239.5 1879.4,1239.5 1879.9,1239.5 1880.4,1239.5 1880.8,1239.5 1881.3,1239.5 1881.8,1239.5 1882.2,1239.5 1882.7,1239.5 1883.2,1239.5 1883.7,1239.5 1884.1,1239.5 1884.6,1239.5 1885.1,1239.5 1885.5,1239.5 1886,1239.5 1886.5,1239.5 1886.9,1239.5 1887.4,1239.5 1887.9,1239.5 1888.4,1239.5 1888.8,1239.5 1889.3,1239.5 1889.8,1239.5 1890.2,1239.5 1890.7,1239.5 1891.2,1239.5 1891.6,1239.5 1892.1,1239.5 1892.6,1239.5 1893.1,1239.5 1893.5,1239.5 1894,1239.5 1894.5,1239.5 1894.9,1239.5 1895.4,1239.5 1895.9,1239.5 1896.4,1239.5 1896.8,1239.5 1897.3,1239.5 1897.8,1239.5 1898.2,1239.5 1898.7,1239.5 1899.2,1239.5 1899.6,1239.5 1900.1,1239.5 1900.6,1239.5 1901.1,1239.5 1901.5,1239.5 1902,1239.5 1902.5,1239.5 1902.9,1239.5 1903.4,1239.5 1903.9,1239.5 1904.3,1239.5 1904.8,1239.5 1905.3,1239.5 1905.8,1239.5 1906.2,1239.5 1906.7,1239.5 1907.2,1239.5 1907.6,1239.5 1908.1,1239.5 1908.6,1239.5 1909,1239.5 1909.5,1239.5 1910,1239.5 1910.5,1239.5 1910.9,1239.5 1911.4,1239.5 1911.9,1239.5 1912.3,1239.5 1912.8,1239.5 1913.3,1239.5 1913.8,1239.5 1914.2,1239.5 1914.7,1239.5 1915.2,1239.5 1915.6,1239.5 1916.1,1239.5 1916.6,1239.5 1917,1239.5 1917.5,1239.5" fill="none" stroke="#ff7f0e" stroke-width="5" stroke-linejoin="round" />
<polyline points="304,905.3 304.5,905.5 304.9,908.9 305.4,906.2 305.9,908 306.3,908.5 306.8,908.9 307.3,908.6 307.7,909.5 308.2,908.6 308.7,912.1 309.2,907.4 309.6,908.2 310.1,909.2 310.6,907.8 311,908.4 311.5,907 312,906.1 312.4,906.7 312.9,911.3 313.4,905.1 313.9,906.6 314.3,905.7 314.8,907.7 315.3,906.8 315.7,906.9 316.2,905.8 316.7,905.6 317.2,906.1 317.6,906.2 318.1,905.3 318.6,904.9 319,905.4 319.5,906.7 320,904.9 320.4,906.7 320.9,905.3 321.4,903.4 321.9,907.2 322.3,906.6 322.8,907.9 323.3,902.1 323.7,904.5 324.2,904.1 324.7,904.4 325.1,905.1 325.6,906.2 326.1,904.7 326.6,906.3 327,904.1 327.5,902.6 328,901.4 328.4,905.5 328.9,904.6 329.4,905.1 329.8,906.1 330.3,905.4 330.8,904 331.3,902.6 331.7,902.4 332.2,905.6 332.7,903.6 333.1,905 333.6,904.5 334.1,903.4 334.6,903.5 335,903.6 335.5,904.4 336,904.4 336.4,904.3 336.9,903.8 337.4,904.8 337.8,904.1 338.3,904.6 338.8,903.1 339.3,906.4 339.7,905.9 340.2,905.4 340.7,905.9 341.1,909 341.6,904.5 342.1,904 342.5,908.3 343,907.8 343.5,904.1 344,907.8 344.4,905.5 344.9,905.8 345.4,906.2 345.8,905.2 346.3,907.3 346.8,908.1 347.2,906.9 347.7,906.5 348.2,906.1 348.7,905.4 349.1,904.6 349.6,906 350.1,906.8 350.5,906.1 351,908.3 351.5,907.5 352,907.5 352.4,908.4 352.9,905.1 353.4,907.5 353.8,907.9 354.3,907.1 354.8,903.5 355.2,903.5 355.7,904.5 356.2,903.5 356.7,906.5 357.1,904.8 357.6,902.8 358.1,904.4 358.5,904.7 359,903.6 359.5,901.5 359.9,900.5 360.4,904 360.9,900.7 361.4,904.4 361.8,902.4 362.3,902.6 362.8,903 363.2,900.1 363.7,901.3 364.2,902.3 364.6,900.9 365.1,903.3 365.6,901.9 366.1,900.7 366.5,902.3 367,900.5 367.5,905 367.9,905.6 368.4,904.7 368.9,905 369.4,905.9 369.8,903.6 370.3,905.5 370.8,907.7 371.2,907.5 371.7,906.2 372.2,908.7 372.6,906.5 373.1,908.5 373.6,907.2 374.1,906.9 374.5,909.3 375,908 375.5,908 375.9,907.4 376.4,906.8 376.9,908.1 377.3,910.1 377.8,909 378.3,910 378.8,909.3 379.2,907.8 379.7,908 380.2,907.7 380.6,910.4 381.1,911.4 381.6,910.1 382,908.5 382.5,908.9 383,909.4 383.5,907.5 383.9,905.5 384.4,907.4 384.9,906.4 385.3,904 385.8,907.6 386.3,905.8 386.8,908.9 387.2,908.1 387.7,907.2 388.2,905.6 388.6,907 389.1,908 389.6,906.6 390,905.6 390.5,905.8 391,909.1 391.5,907.2 391.9,908.8 392.4,907.1 392.9,906.5 393.3,909.4 393.8,904.7 394.3,910 394.7,906.8 395.2,909 395.7,906.8 396.2,903.3 396.6,903.1 397.1,901.6 397.6,904.2 398,904.6 398.5,904.3 399,898.6 399.5,901.1 399.9,903.8 400.4,902.4 400.9,902.6 401.3,901.2 401.8,903.5 402.3,905.2 402.7,903.9 403.2,902.1 403.7,902.8 404.2,903.8 404.6,904.9 405.1,901.4 405.6,902.3 406,904.4 406.5,904 407,900.6 407.4,903.5 407.9,901.1 408.4,903.2 408.9,903.1 409.3,903.6 409.8,902.3 410.3,902.7 410.7,905 411.2,901.7 411.7,905.1 412.1,905.8 412.6,903.8 413.1,906.9 413.6,906.5 414,906.1 414.5,905.4 415,909 415.4,908.1 415.9,910 416.4,905.7 416.9,905.9 417.3,905.3 417.8,905.6 418.3,906.8 418.7,905 419.2,907.4 419.7,907.3 420.1,906.7 420.6,905 421.1,908.4 421.6,902.6 422,908.1 422.5,909.4 423,907.2 423.4,908.8 423.9,906.8 424.4,906.6 424.8,909.2 425.3,907.1 425.8,908.5 426.3,907.3 426.7,908.3 427.2,907.7 427.7,907 428.1,905.3 428.6,907.7 429.1,905.9 429.5,904.6 430,907.7 430.5,905 431,906.9 431.4,906 431.9,905.9 432.4,907 432.8,904.6 433.3,905 433.8,906.5 434.3,906.7 434.7,906.4 435.2,905.6 435.7,905.4 436.1,907.9 436.6,904.9 437.1,904.9 437.5,906 438,906.4 438.5,907.6 439,904.8 439.4,906.2 439.9,905.9 440.4,901.8 440.8,907.6 441.3,908.4 441.8,904.7 442.2,908.3 442.7,906.7 443.2,905.9 443.7,907.2 444.1,904.2 444.6,905.6 445.1,905.3 445.5,906.3 446,906.6 446.5,905.3 446.9,902.3 447.4,905 447.9,904.3 448.4,904.6 448.8,906.7 449.3,904.6 449.8,906.5 450.2,908.3 450.7,908.4 451.2,904.8 451.7,902.8 452.1,904.3 452.6,903.3 453.1,906.2 453.5,908.3 454,901.4 454.5,902.3 454.9,905.7 455.4,903.1 455.9,903.5 456.4,903.8 456.8,905.4 457.3,903.6 457.8,903.5 458.2,906.6 458.7,904.3 459.2,907 459.6,904 460.1,905.3 460.6,903.6 461.1,904.2 461.5,907 462,906.1 462.5,904.3 462.9,903.4 463.4,902.3 463.9,905.4 464.3,903.6 464.8,899.8 465.3,902.7 465.8,903.9 466.2,905 466.7,901.7 467.2,901 467.6,903.3 468.1,901 468.6,900.6 469.1,900.1 469.5,901.1 470,902.5 470.5,903.2 470.9,900.9 471.4,904.2 471.9,900.2 472.3,901.6 472.8,902.9 473.3,905.1 473.8,903.8 474.2,904.8 474.7,904.3 475.2,902.3 475.6,900.1 476.1,905.1 476.6,905.1 477,901.4 477.5,904.5 478,904.4 478.5,906 478.9,902.9 479.4,905.1 479.9,904.1 480.3,904.1 480.8,903.1 481.3,904.8 481.7,906.3 482.2,904.8 482.7,905.9 483.2,908.4 483.6,906.9 484.1,908.2 484.6,906.3 485,906.8 485.5,906.6 486,908.4 486.5,905.3 486.9,905.8 487.4,904.5 487.9,907.7 488.3,906.6 488.8,906.8 489.3,905 489.7,906.5 490.2,904.5 490.7,906.5 491.2,903.9 491.6,904 492.1,904 492.6,903.9 493,903.6 493.5,902.1 494,902 494.4,902.2 494.9,903.4 495.4,904.4 495.9,904.7 496.3,904.4 496.8,904.2 497.3,905.1 497.7,906 498.2,905.8 498.7,903.3 499.1,905.3 499.6,904.3 500.1,904.8 500.6,903.7 501,904.5 501.5,902.6 502,904 502.4,906.1 502.9,904.7 503.4,906.5 503.9,905.6 504.3,903.9 504.8,907.2 505.3,904.4 505.7,905 506.2,903.2 506.7,904.3 507.1,902.7 507.6,903.6 508.1,901.9 508.6,903.1 509,904.4 509.5,903.1 510,903.4 510.4,901.2 510.9,904.8 511.4,906 511.8,902.2 512.3,904.9 512.8,906.5 513.3,905.6 513.7,905.5 514.2,905.2 514.7,901.8 515.1,905.4 515.6,904.4 516.1,904.7 516.5,906.4 517,908.1 517.5,903.2 518,906.5 518.4,907 518.9,905 519.4,907 519.8,906.4 520.3,904.2 520.8,906.2 521.3,905.1 521.7,905.9 522.2,903.2 522.7,907.5 523.1,909.1 523.6,905 524.1,905.6 524.5,901.2 525,905.1 525.5,905.1 526,904.2 526.4,904.9 526.9,904.5 527.4,906.6 527.8,905.7 528.3,903.1 528.8,906.7 529.2,905.4 529.7,904.3 530.2,903.6 530.7,904.6 531.1,903.8 531.6,903.6 532.1,904.8 532.5,906.1 533,904.6 533.5,906.3 534,906.4 534.4,904.1 534.9,905.4 535.4,907.7 535.8,908.7 536.3,907.5 536.8,906.1 537.2,905.6 537.7,906.4 538.2,903.5 538.7,906.3 539.1,907.2 539.6,905.7 540.1,904 540.5,904.5 541,904.5 541.5,903.1 541.9,903.6 542.4,903 542.9,906 543.4,905.1 543.8,905.6 544.3,906 544.8,903.7 545.2,905.7 545.7,905.7 546.2,907.8 546.6,906.4 547.1,905 547.6,905.2 548.1,906.5 548.5,904.1 549,904.8 549.5,903.2 549.9,903.6 550.4,903.1 550.9,905.6 551.4,905.3 551.8,903.1 552.3,900.3 552.8,903.5 553.2,903.9 553.7,905.4 554.2,902.3 554.6,905 555.1,905.7 555.6,905.3 556.1,906.6 556.5,905 557,905.6 557.5,906 557.9,907.6 558.4,907 558.9,905.8 559.3,908.3 559.8,906.3 560.3,905 560.8,904.9 561.2,901.7 561.7,907.4 562.2,904.7 562.6,904.8 563.1,903.5 563.6,904 564,904.4 564.5,902.8 565,903.2 565.5,899.7 565.9,903.1 566.4,902 566.9,901.5 567.3,902.4 567.8,903.6 568.3,903.8 568.8,904.3 569.2,905.5 569.7,904.4 570.2,902.4 570.6,902.7 571.1,905.9 571.6,903.4 572,904.4 572.5,904.4 573,904.5 573.5,902.9 573.9,905.3 574.4,905.4 574.9,902.7 575.3,907.2 575.8,905.9 576.3,905 576.7,906.1 577.2,906.7 577.7,904 578.2,904.9 578.6,906.3 579.1,905.3 579.6,906.7 580,907.1 580.5,904.8 581,904.6 581.4,908.1 581.9,904.3 582.4,903.5 582.9,905 583.3,908 583.8,905.3 584.3,907.2 584.7,904.7 585.2,906.4 585.7,906.4 586.2,907.4 586.6,906.2 587.1,905.8 587.6,907.7 588,906.4 588.5,906.7 589,903.6 589.4,904.5 589.9,905 590.4,902.5 590.9,903.4 591.3,903.4 591.8,903.4 592.3,900.9 592.7,902.2 593.2,904.7 593.7,903.2 594.1,902.7 594.6,905.6 595.1,901.2 595.6,900.8 596,904 596.5,901.5 597,902.5 597.4,903.1 597.9,904.9 598.4,901.3 598.8,903.6 599.3,905.3 599.8,903.3 600.3,904.3 600.7,905.7 601.2,903.5 601.7,904 602.1,907.3 602.6,904.7 603.1,904.2 603.6,903.6 604,903.5 604.5,905.1 605,905.1 605.4,907.3 605.9,906 606.4,906.9 606.8,904.8 607.3,904.3 607.8,906.7 608.3,908.9 608.7,905.4 609.2,904.4 609.7,906.2 610.1,907.9 610.6,905.2 611.1,907.5 611.5,906.5 612,907.2 612.5,906.2 613,909.4 613.4,906 613.9,907.4 614.4,905 614.8,909.5 615.3,911 615.8,908.1 616.2,909.7 616.7,907.5 617.2,910.1 617.7,906 618.1,906.9 618.6,906 619.1,907.1 619.5,908.9 620,905.5 620.5,905.3 621,905 621.4,907.9 621.9,907 622.4,906.4 622.8,908 623.3,907.3 623.8,907.4 624.2,906.5 624.7,910.7 625.2,906.3 625.7,908.7 626.1,908.9 626.6,910.1 627.1,907.9 627.5,908.4 628,909.1 628.5,907.5 628.9,909.4 629.4,907.1 629.9,909 630.4,908.1 630.8,904.8 631.3,908.1 631.8,908.2 632.2,907.4 632.7,906.9 633.2,906.4 633.6,907 634.1,907.1 634.6,907.1 635.1,903.5 635.5,909.3 636,906.7 636.5,906 636.9,908.6 637.4,906.5 637.9,906.6 638.4,911.2 638.8,904.7 639.3,906 639.8,906.7 640.2,908.4 640.7,907.4 641.2,908 641.6,908 642.1,905.5 642.6,910 643.1,910.2 643.5,908 644,906.2 644.5,908.8 644.9,906.4 645.4,908.5 645.9,907.7 646.3,907.7 646.8,907.1 647.3,906.7 647.8,907.7 648.2,908.7 648.7,909.4 649.2,905.6 649.6,906.9 650.1,906 650.6,908.5 651,906.8 651.5,906.5 652,906.1 652.5,908 652.9,906.1 653.4,909.8 653.9,908.2 654.3,909.2 654.8,909.6 655.3,907.6 655.8,906.3 656.2,908.7 656.7,908.4 657.2,908.5 657.6,908.5 658.1,906.5 658.6,906.2 659,909.7 659.5,906.8 660,906.8 660.5,907.9 660.9,909.5 661.4,907.1 661.9,908.4 662.3,905.9 662.8,905.7 663.3,904 663.7,906.7 664.2,905.6 664.7,906.3 665.2,905.3 665.6,907 666.1,907 666.6,908 667,906.6 667.5,906.7 668,904.6 668.5,906.7 668.9,907.7 669.4,906 669.9,906.2 670.3,908.2 670.8,907.4 671.3,908.1 671.7,908.1 672.2,907.7 672.7,908.2 673.2,909 673.6,907.8 674.1,909.4 674.6,911.7 675,910.3 675.5,908.2 676,909.4 676.4,909.1 676.9,909.5 677.4,910.7 677.9,911.3 678.3,910.6 678.8,908.2 679.3,908.2 679.7,907.2 680.2,907.9 680.7,903.7 681.1,907.9 681.6,904.8 682.1,907.2 682.6,904.7 683,903.8 683.5,903.8 684,904.2 684.4,905.5 684.9,908.4 685.4,908.7 685.9,906 686.3,905.1 686.8,908.4 687.3,904.7 687.7,906.3 688.2,907.7 688.7,905.7 689.1,902.5 689.6,906.4 690.1,904.9 690.6,904.7 691,905.8 691.5,903.6 692,903.3 692.4,904.7 692.9,903.5 693.4,905.6 693.8,904.7 694.3,907.2 694.8,903.9 695.3,905.4 695.7,907.5 696.2,904.9 696.7,906.8 697.1,906.2 697.6,903.6 698.1,903.7 698.5,906.5 699,908.5 699.5,904.6 700,907.4 700.4,904.8 700.9,904.8 701.4,905.3 701.8,903 702.3,904.8 702.8,906.1 703.3,906.5 703.7,905.8 704.2,905.2 704.7,907.5 705.1,906 705.6,905.5 706.1,907.7 706.5,907.4 707,905.1 707.5,907.6 708,903.9 708.4,905 708.9,905.4 709.4,906.9 709.8,907.5 710.3,905.8 710.8,905.6 711.2,904.6 711.7,909.9 712.2,905.1 712.7,904.5 713.1,906.2 713.6,904.4 714.1,905.5 714.5,905.1 715,906.2 715.5,902.9 715.9,903.7 716.4,904.2 716.9,904.1 717.4,903.1 717.8,901.4 718.3,901.3 718.8,903.1 719.2,904.5 719.7,902.4 720.2,905.7 720.7,901.1 721.1,902.3 721.6,904.3 722.1,903.9 722.5,904.7 723,903.1 723.5,904.9 723.9,903.5 724.4,904.4 724.9,906 725.4,903.4 725.8,903.9 726.3,904.7 726.8,905.3 727.2,904.2 727.7,904.2 728.2,904.6 728.6,904.3 729.1,903.6 729.6,904.3 730.1,901.6 730.5,902 731,901.4 731.5,903.4 731.9,902.7 732.4,901.9 732.9,902.3 733.3,903.5 733.8,903.8 734.3,902.5 734.8,902.4 735.2,901.9 735.7,904.9 736.2,903.7 736.6,903.8 737.1,904.7 737.6,904.9 738.1,905.2 738.5,904 739,904 739.5,906.3 739.9,905.6 740.4,906.3 740.9,904.8 741.3,905.7 741.8,904.5 742.3,903 742.8,905.8 743.2,903.7 743.7,905.2 744.2,906.1 744.6,906.4 745.1,906.7 745.6,906 746,904.6 746.5,907.3 747,908 747.5,905.8 747.9,906.4 748.4,908.2 748.9,905.6 749.3,907 749.8,906 750.3,905.1 750.7,906.8 751.2,906.2 751.7,905.3 752.2,908 752.6,906.4 753.1,908.4 753.6,905.6 754,906.2 754.5,907.5 755,907.1 755.5,908.7 755.9,906.6 756.4,907.9 756.9,906.8 757.3,905.8 757.8,907.9 758.3,908.8 758.7,905.6 759.2,908.2 759.7,905.7 760.2,906.5 760.6,905.4 761.1,907.5 761.6,909 762,907.2 762.5,906.2 763,903.8 763.4,907.5 763.9,905.7 764.4,908.2 764.9,906.8 765.3,904.7 765.8,904.8 766.3,905.4 766.7,905.8 767.2,905.2 767.7,904.5 768.1,906.1 768.6,906.2 769.1,905.8 769.6,905.7 770,908.6 770.5,906.6 771,906.7 771.4,906.2 771.9,907 772.4,904.6 772.9,904.9 773.3,905.8 773.8,901.6 774.3,904.6 774.7,903.9 775.2,905.1 775.7,904.7 776.1,904.1 776.6,906.6 777.1,907.8 777.6,903 778,908.3 778.5,907.9 779,906.4 779.4,906.9 779.9,905.8 780.4,903.7 780.8,904.7 781.3,908.7 781.8,906.5 782.3,905.4 782.7,905.9 783.2,908.5 783.7,906.5 784.1,904.1 784.6,905.7 785.1,906.6 785.6,907.8 786,904.7 786.5,902.8 787,907.5 787.4,905.2 787.9,906.6 788.4,908.2 788.8,908.7 789.3,906.1 789.8,906.6 790.3,907.4 790.7,905.9 791.2,905.5 791.7,902.4 792.1,906.1 792.6,906.9 793.1,907.2 793.5,904.9 794,904.4 794.5,905.7 795,903.9 795.4,905 795.9,905.3 796.4,905.5 796.8,904.6 797.3,904.1 797.8,904.8 798.2,905.7 798.7,905.7 799.2,902.6 799.7,905 800.1,901.7 800.6,906.3 801.1,904.6 801.5,905.1 802,906.7 802.5,907.5 803,906.4 803.4,903.7 803.9,906.7 804.4,905.1 804.8,905 805.3,904.6 805.8,908.7 806.2,906.2 806.7,908 807.2,904.4 807.7,903.9 808.1,903.3 808.6,903.7 809.1,903.1 809.5,903.4 810,904.4 810.5,903.9 810.9,906.6 811.4,905.3 811.9,907.3 812.4,907 812.8,906.1 813.3,904.5 813.8,906.9 814.2,905.9 814.7,906.9 815.2,905.2 815.6,906.1 816.1,907.8 816.6,905.7 817.1,906.5 817.5,906.9 818,904.2 818.5,906.4 818.9,907.1 819.4,909.1 819.9,908 820.4,904.5 820.8,910.4 821.3,904.2 821.8,907.1 822.2,907 822.7,903.7 823.2,907.4 823.6,905.4 824.1,905.6 824.6,904.3 825.1,902 825.5,900.6 826,905.4 826.5,904.3 826.9,899.1 827.4,901.5 827.9,899.8 828.3,900.1 828.8,902.8 829.3,904.3 829.8,902.2 830.2,903.2 830.7,901.9 831.2,903.8 831.6,901.4 832.1,907.5 832.6,908 833,906.6 833.5,907.8 834,906.3 834.5,907.7 834.9,905 835.4,906.7 835.9,906.4 836.3,907.8 836.8,907.1 837.3,907.5 837.8,908.2 838.2,906.4 838.7,909.4 839.2,907 839.6,906.9 840.1,904 840.6,905.8 841,907.5 841.5,904.8 842,903.8 842.5,903.4 842.9,902.6 843.4,902.7 843.9,903.1 844.3,901.8 844.8,904.3 845.3,903.1 845.7,903.7 846.2,903.5 846.7,903.4 847.2,904.7 847.6,904.8 848.1,904.7 848.6,908.3 849,904.8 849.5,904.3 850,906.1 850.4,906.5 850.9,906.3 851.4,904.3 851.9,906.6 852.3,904.3 852.8,907.8 853.3,906.6 853.7,903.5 854.2,906.4 854.7,907.7 855.2,905.2 855.6,906.3 856.1,905.7 856.6,904.9 857,906.3 857.5,905 858,906 858.4,905.5 858.9,905.8 859.4,907.3 859.9,906.5 860.3,906.1 860.8,904 861.3,906.1 861.7,906.3 862.2,904.6 862.7,903.9 863.1,904.8 863.6,905.6 864.1,907.4 864.6,904.6 865,903.6 865.5,905.4 866,904.5 866.4,905.7 866.9,905.2 867.4,903.9 867.8,904.2 868.3,903.3 868.8,903.9 869.3,905.1 869.7,905.7 870.2,904.6 870.7,907.5 871.1,905.5 871.6,907.1 872.1,908.8 872.6,908.3 873,907.5 873.5,903.5 874,907.1 874.4,908.5 874.9,905.2 875.4,907.8 875.8,908.1 876.3,905.6 876.8,904.6 877.3,903.1 877.7,905.4 878.2,906.9 878.7,905.6 879.1,903.6 879.6,903.1 880.1,906.4 880.5,902.7 881,905.3 881.5,906.6 882,904 882.4,904.8 882.9,907 883.4,906.3 883.8,904.9 884.3,904.2 884.8,906.4 885.2,903.2 885.7,905.9 886.2,906 886.7,903.5 887.1,902.7 887.6,904.7 888.1,904.5 888.5,903.6 889,902.3 889.5,904.4 890,904 890.4,904.5 890.9,905.9 891.4,902.5 891.8,904 892.3,901.9 892.8,903.9 893.2,901.3 893.7,902.8 894.2,901.6 894.7,904.9 895.1,904 895.6,903.8 896.1,900.3 896.5,902.3 897,903.6 897.5,906 897.9,904.2 898.4,901 898.9,903.6 899.4,902.2 899.8,905.4 900.3,902.6 900.8,901.7 901.2,902.5 901.7,904.6 902.2,904.7 902.6,902.4 903.1,904.8 903.6,905.5 904.1,903.6 904.5,905.6 905,906.1 905.5,905.1 905.9,905.3 906.4,907.5 906.9,905.9 907.4,904.5 907.8,905.6 908.3,905.4 908.8,905.8 909.2,907.2 909.7,907.1 910.2,909 910.6,909 911.1,908.9 911.6,909.5 912.1,905.1 912.5,906 913,910 913.5,906.7 913.9,907.3 914.4,906.6 914.9,906.4 915.3,905.3 915.8,908.1 916.3,907.6 916.8,906.6 917.2,904.6 917.7,905.7 918.2,905.8 918.6,905.9 919.1,904.4 919.6,904.9 920.1,903.4 920.5,902.7 921,904.5 921.5,906.6 921.9,907.1 922.4,905.6 922.9,905.2 923.3,905.6 923.8,905.3 924.3,905.8 924.8,904 925.2,906.1 925.7,904.3 926.2,905.8 926.6,906.7 927.1,906.1 927.6,907.1 928,906.2 928.5,909.5 929,906.4 929.5,905.1 929.9,904.9 930.4,907.4 930.9,907.8 931.3,904.4 931.8,908 932.3,906.1 932.7,906.3 933.2,905.5 933.7,904.6 934.2,904 934.6,908.8 935.1,906.7 935.6,909.2 936,907.4 936.5,908.7 937,907.1 937.5,907.5 937.9,906.3 938.4,905.8 938.9,906.4 939.3,905.4 939.8,904.8 940.3,906.4 940.7,906.2 941.2,907.2 941.7,907.5 942.2,905.3 942.6,904.3 943.1,906.4 943.6,908.8 944,907.7 944.5,906.2 945,906.2 945.4,907.3 945.9,905.5 946.4,905.3 946.9,907.2 947.3,906.5 947.8,904.2 948.3,906.4 948.7,905.6 949.2,903.8 949.7,904.7 950.1,905.2 950.6,908.1 951.1,907.7 951.6,906.9 952,907.1 952.5,906.2 953,906.4 953.4,906.2 953.9,905.8 954.4,908.1 954.9,909.5 955.3,906.8 955.8,907.7 956.3,907.4 956.7,908.1 957.2,907.5 957.7,903.8 958.1,909.6 958.6,905.9 959.1,906.5 959.6,906.1 960,907.8 960.5,907.1 961,907.8 961.4,907.5 961.9,907.8 962.4,905 962.8,905.9 963.3,906.7 963.8,907.1 964.3,908.6 964.7,910 965.2,907.5 965.7,909.2 966.1,908.6 966.6,908.9 967.1,908.1 967.5,908 968,905.3 968.5,904.9 969,907 969.4,906.2 969.9,907.2 970.4,906.8 970.8,907.9 971.3,906.7 971.8,909.3 972.3,910.4 972.7,903.9 973.2,905.9 973.7,905.6 974.1,904.4 974.6,904.5 975.1,903.3 975.5,905.8 976,905 976.5,902.2 977,903.7 977.4,905.1 977.9,906.1 978.4,901.6 978.8,902.7 979.3,903.3 979.8,906.2 980.2,904.9 980.7,905.6 981.2,906.6 981.7,904.6 982.1,904.3 982.6,900.6 983.1,905.3 983.5,901.9 984,902.7 984.5,902.2 984.9,903 985.4,901.8 985.9,903.3 986.4,901.6 986.8,902.2 987.3,904.6 987.8,903.5 988.2,900.5 988.7,900.5 989.2,904.1 989.7,902.4 990.1,900.5 990.6,902.2 991.1,903.9 991.5,902.1 992,902.9 992.5,905.6 992.9,902.6 993.4,903.1 993.9,902.4 994.4,900.6 994.8,900.5 995.3,900.7 995.8,900.5 996.2,904.2 996.7,904.3 997.2,902.2 997.6,902.8 998.1,902.2 998.6,903.5 999.1,902 999.5,900.6 1000,903 1000.5,903 1000.9,903.5 1001.4,905.6 1001.9,902.9 1002.3,902.9 1002.8,902.1 1003.3,903.4 1003.8,900.5 1004.2,901 1004.7,899.9 1005.2,906.6 1005.6,903.8 1006.1,902.2 1006.6,902.8 1007.1,903 1007.5,903.8 1008,902.4 1008.5,904.4 1008.9,904.1 1009.4,900.3 1009.9,904.1 1010.3,902.3 1010.8,903.4 1011.3,902.5 1011.8,903.6 1012.2,902.3 1012.7,902.1 1013.2,904 1013.6,904.6 1014.1,904.9 1014.6,905.3 1015,902 1015.5,901.7 1016,907 1016.5,905.7 1016.9,904.6 1017.4,903.8 1017.9,907 1018.3,906.2 1018.8,905.4 1019.3,904.5 1019.7,907.1 1020.2,904.4 1020.7,907 1021.2,904.5 1021.6,906.7 1022.1,906.4 1022.6,905 1023,905.8 1023.5,905.7 1024,907.4 1024.5,907.9 1024.9,906.2 1025.4,905.6 1025.9,907.8 1026.3,907.9 1026.8,909.6 1027.3,905.8 1027.7,908.8 1028.2,907.6 1028.7,906 1029.2,911.8 1029.6,908.2 1030.1,909.7 1030.6,908.4 1031,907.7 1031.5,909.9 1032,906.2 1032.4,904.5 1032.9,908.4 1033.4,907.9 1033.9,905.4 1034.3,907.2 1034.8,909.2 1035.3,906.6 1035.7,908 1036.2,904.9 1036.7,907.3 1037.1,903.8 1037.6,907.2 1038.1,905.1 1038.6,907.3 1039,900.1 1039.5,903.3 1040,903.5 1040.4,902.1 1040.9,902.3 1041.4,901.8 1041.9,899.1 1042.3,900.1 1042.8,903.1 1043.3,902 1043.7,902.6 1044.2,901.7 1044.7,903.8 1045.1,902.7 1045.6,904.3 1046.1,901.2 1046.6,902.9 1047,900.2 1047.5,901.7 1048,904 1048.4,899.6 1048.9,905 1049.4,898 1049.8,899.7 1050.3,899.8 1050.8,899.7 1051.3,900.5 1051.7,902.5 1052.2,903.4 1052.7,902.3 1053.1,906.1 1053.6,902 1054.1,902.7 1054.6,902.3 1055,903.2 1055.5,904.7 1056,902.5 1056.4,903.4 1056.9,903.5 1057.4,903.1 1057.8,902.1 1058.3,901.6 1058.8,905.3 1059.3,903.4 1059.7,906.5 1060.2,905.4 1060.7,905.3 1061.1,904.1 1061.6,903.9 1062.1,903.4 1062.5,904 1063,904.3 1063.5,906.2 1064,903.5 1064.4,905.5 1064.9,903 1065.4,904.2 1065.8,900.6 1066.3,904.7 1066.8,902.3 1067.2,901.3 1067.7,903.4 1068.2,903.1 1068.7,900.2 1069.1,901.3 1069.6,902.3 1070.1,903.6 1070.5,903.8 1071,905.5 1071.5,901 1072,903.6 1072.4,902.9 1072.9,902.1 1073.4,903.1 1073.8,904.6 1074.3,902.5 1074.8,907.3 1075.2,903 1075.7,904.4 1076.2,905.4 1076.7,904.6 1077.1,904.2 1077.6,907 1078.1,905.8 1078.5,906.8 1079,906.4 1079.5,904.9 1079.9,906.6 1080.4,907.3 1080.9,906.1 1081.4,903.3 1081.8,903.7 1082.3,904.6 1082.8,903.7 1083.2,906.5 1083.7,907.6 1084.2,908.2 1084.6,906.8 1085.1,907 1085.6,909.7 1086.1,904.5 1086.5,906.9 1087,910.2 1087.5,910.5 1087.9,907.4 1088.4,907.4 1088.9,909.2 1089.4,907.5 1089.8,907.6 1090.3,907.7 1090.8,905.6 1091.2,909.2 1091.7,907.4 1092.2,908.9 1092.6,906.7 1093.1,906.4 1093.6,903.5 1094.1,908 1094.5,906.3 1095,907 1095.5,906.8 1095.9,908 1096.4,908.9 1096.9,908.2 1097.3,908.3 1097.8,905.7 1098.3,907.3 1098.8,904.7 1099.2,907.9 1099.7,909 1100.2,907 1100.6,906.6 1101.1,903 1101.6,907.6 1102,904.9 1102.5,906.8 1103,907.5 1103.5,905.5 1103.9,907.9 1104.4,904.4 1104.9,906.2 1105.3,906 1105.8,907.3 1106.3,906.3 1106.8,905.3 1107.2,907.7 1107.7,906.7 1108.2,908 1108.6,907.3 1109.1,906.7 1109.6,909.9 1110,907.4 1110.5,908.5 1111,906.5 1111.5,909.5 1111.9,908.3 1112.4,908.1 1112.9,906 1113.3,907.5 1113.8,905.1 1114.3,906.1 1114.7,908.6 1115.2,909.1 1115.7,907.6 1116.2,906.4 1116.6,907.6 1117.1,908.8 1117.6,906.7 1118,907.8 1118.5,908.5 1119,907 1119.4,907.6 1119.9,909.6 1120.4,907.5 1120.9,906.6 1121.3,908.3 1121.8,909.3 1122.3,906.2 1122.7,905.6 1123.2,907.5 1123.7,907 1124.2,908.5 1124.6,907.4 1125.1,909.5 1125.6,908 1126,907.2 1126.5,908.4 1127,907.6 1127.4,907.3 1127.9,905.5 1128.4,908 1128.9,909.2 1129.3,908.2 1129.8,908 1130.3,906.2 1130.7,904.9 1131.2,908.4 1131.7,906.4 1132.1,905.8 1132.6,906.9 1133.1,906.7 1133.6,907.6 1134,904.7 1134.5,905.4 1135,907.7 1135.4,905.7 1135.9,907.7 1136.4,905.1 1136.8,904.2 1137.3,908 1137.8,905.7 1138.3,905.4 1138.7,902 1139.2,904.2 1139.7,904 1140.1,905.2 1140.6,904.8 1141.1,904.1 1141.6,904.8 1142,904.3 1142.5,905.5 1143,907.3 1143.4,905.4 1143.9,905.9 1144.4,908.4 1144.8,908.1 1145.3,907.7 1145.8,905.2 1146.3,906.7 1146.7,905.5 1147.2,911.1 1147.7,907.6 1148.1,905.9 1148.6,908.7 1149.1,907.4 1149.5,909.3 1150,907.5 1150.5,908.2 1151,910.3 1151.4,906.8 1151.9,908.4 1152.4,908 1152.8,911.1 1153.3,907.5 1153.8,909.6 1154.2,907.7 1154.7,910.4 1155.2,907.2 1155.7,909.5 1156.1,909 1156.6,909.9 1157.1,911.5 1157.5,909.5 1158,907.4 1158.5,907.3 1159,909.4 1159.4,907 1159.9,908.8 1160.4,910.2 1160.8,908.5 1161.3,908.2 1161.8,906.6 1162.2,911 1162.7,906 1163.2,906.3 1163.7,906.4 1164.1,909.1 1164.6,909.1 1165.1,905.4 1165.5,907.2 1166,905.3 1166.5,908.2 1166.9,905.5 1167.4,905.6 1167.9,908.1 1168.4,906.5 1168.8,903.4 1169.3,907 1169.8,904.4 1170.2,906 1170.7,907.4 1171.2,907 1171.6,907.7 1172.1,903.8 1172.6,908.5 1173.1,908 1173.5,906.2 1174,904.8 1174.5,907.9 1174.9,907.3 1175.4,906.4 1175.9,906.6 1176.4,906.2 1176.8,907.3 1177.3,906.7 1177.8,905.8 1178.2,908.7 1178.7,909.6 1179.2,908.6 1179.6,907.5 1180.1,904.2 1180.6,906.9 1181.1,907.6 1181.5,912.7 1182,911.5 1182.5,908.2 1182.9,910.1 1183.4,910.5 1183.9,908.6 1184.3,908.2 1184.8,909.2 1185.3,909.8 1185.8,912.6 1186.2,910.2 1186.7,908.6 1187.2,910 1187.6,911.6 1188.1,912.8 1188.6,909.8 1189.1,908.3 1189.5,910 1190,909.1 1190.5,908 1190.9,909.2 1191.4,908.5 1191.9,909.1 1192.3,909.1 1192.8,907.3 1193.3,907.2 1193.8,908.3 1194.2,910 1194.7,907.4 1195.2,906.7 1195.6,906.7 1196.1,906.5 1196.6,907.1 1197,907.1 1197.5,905.5 1198,904.9 1198.5,904.4 1198.9,905.9 1199.4,906.8 1199.9,903.4 1200.3,903.2 1200.8,903.2 1201.3,902.8 1201.7,905.7 1202.2,904.6 1202.7,902.9 1203.2,904.7 1203.6,904.4 1204.1,902.3 1204.6,903.4 1205,905.3 1205.5,904.3 1206,905.9 1206.5,904.3 1206.9,906.8 1207.4,907.2 1207.9,902.6 1208.3,903.2 1208.8,905.8 1209.3,903.8 1209.7,907.8 1210.2,904.4 1210.7,902.9 1211.2,903.6 1211.6,904.5 1212.1,904.9 1212.6,904.7 1213,902.2 1213.5,905.9 1214,905.1 1214.4,904.4 1214.9,906.9 1215.4,903.6 1215.9,908.5 1216.3,906.1 1216.8,906.3 1217.3,905.7 1217.7,907.2 1218.2,905.7 1218.7,904.6 1219.1,905.9 1219.6,903.4 1220.1,907.3 1220.6,904.7 1221,902.2 1221.5,905.7 1222,904.3 1222.4,905 1222.9,905.3 1223.4,903.6 1223.9,906.3 1224.3,903.7 1224.8,906.2 1225.3,904.5 1225.7,902.9 1226.2,904.6 1226.7,903.7 1227.1,900.5 1227.6,903.3 1228.1,903.1 1228.6,902.6 1229,902.6 1229.5,903.2 1230,903.4 1230.4,902.4 1230.9,901.9 1231.4,900.3 1231.8,901.8 1232.3,900.6 1232.8,898.9 1233.3,903.9 1233.7,901.9 1234.2,902.1 1234.7,902 1235.1,899.9 1235.6,902.3 1236.1,901.6 1236.5,899.4 1237,904.5 1237.5,903.1 1238,902.6 1238.4,900.7 1238.9,899.7 1239.4,901.4 1239.8,898.1 1240.3,897.8 1240.8,901.3 1241.3,901.1 1241.7,902.1 1242.2,900.1 1242.7,902 1243.1,900.5 1243.6,900.7 1244.1,902.7 1244.5,904.4 1245,907.2 1245.5,903.8 1246,904.1 1246.4,905.3 1246.9,907.1 1247.4,904.9 1247.8,906.8 1248.3,906 1248.8,905.9 1249.2,905.6 1249.7,906 1250.2,908.9 1250.7,906 1251.1,906.5 1251.6,906.9 1252.1,907.3 1252.5,907.3 1253,906.6 1253.5,906.4 1253.9,905.9 1254.4,908.7 1254.9,907.5 1255.4,905.4 1255.8,905 1256.3,907.1 1256.8,907.6 1257.2,904.5 1257.7,908.7 1258.2,905.9 1258.7,906.2 1259.1,906.9 1259.6,905.8 1260.1,906.3 1260.5,907.3 1261,905.9 1261.5,903.2 1261.9,906.3 1262.4,905 1262.9,903.7 1263.4,907.6 1263.8,906.2 1264.3,907.5 1264.8,905.9 1265.2,906.7 1265.7,904.2 1266.2,906.2 1266.6,904.8 1267.1,905.5 1267.6,905.2 1268.1,907.2 1268.5,904.6 1269,906.1 1269.5,906.3 1269.9,907 1270.4,905 1270.9,906 1271.3,905.9 1271.8,904.5 1272.3,907.1 1272.8,901.9 1273.2,903.9 1273.7,901.6 1274.2,904.5 1274.6,905.5 1275.1,903.9 1275.6,902.1 1276.1,900.8 1276.5,900.7 1277,901.1 1277.5,903.7 1277.9,903.4 1278.4,902.2 1278.9,901.7 1279.3,904 1279.8,904.1 1280.3,904.6 1280.8,901 1281.2,904 1281.7,902.2 1282.2,902.6 1282.6,902 1283.1,904.9 1283.6,902.8 1284,901.7 1284.5,902.3 1285,903.8 1285.5,902.4 1285.9,903.2 1286.4,904.1 1286.9,903.5 1287.3,900.5 1287.8,904.4 1288.3,905.9 1288.7,902.9 1289.2,902.8 1289.7,903.2 1290.2,904.1 1290.6,902.4 1291.1,900.8 1291.6,901.3 1292,905.9 1292.5,903.9 1293,902.2 1293.5,905.3 1293.9,899.7 1294.4,901 1294.9,903.3 1295.3,903.8 1295.8,901.1 1296.3,903.6 1296.7,903.1 1297.2,905.6 1297.7,906.1 1298.2,905.6 1298.6,905.2 1299.1,904.4 1299.6,906.4 1300,904.7 1300.5,906.6 1301,907.3 1301.4,906.7 1301.9,906.8 1302.4,908 1302.9,908.8 1303.3,905.5 1303.8,905.9 1304.3,905.1 1304.7,908.4 1305.2,906.7 1305.7,908.3 1306.1,904.7 1306.6,904.3 1307.1,906.1 1307.6,905.2 1308,909.4 1308.5,907.8 1309,907.5 1309.4,907.3 1309.9,908.2 1310.4,907.5 1310.9,908.1 1311.3,908.9 1311.8,906.6 1312.3,908.5 1312.7,906.5 1313.2,906.1 1313.7,907.8 1314.1,906.3 1314.6,902.3 1315.1,904.8 1315.6,903.6 1316,905.1 1316.5,903 1317,904.6 1317.4,903.5 1317.9,903.8 1318.4,906.5 1318.8,905.5 1319.3,904.8 1319.8,907.3 1320.3,905.9 1320.7,906.4 1321.2,905.2 1321.7,907.5 1322.1,905.3 1322.6,904.5 1323.1,906.2 1323.6,905.8 1324,904 1324.5,905.4 1325,903.7 1325.4,902.4 1325.9,905.7 1326.4,902.9 1326.8,901.7 1327.3,905.4 1327.8,903.1 1328.3,902.8 1328.7,904.2 1329.2,903.5 1329.7,905.6 1330.1,904.3 1330.6,905.5 1331.1,903.5 1331.5,904.5 1332,904.3 1332.5,902.9 1333,903.6 1333.4,904.9 1333.9,904.3 1334.4,904.9 1334.8,903.2 1335.3,902.2 1335.8,901.4 1336.2,903 1336.7,905.3 1337.2,903.3 1337.7,905.9 1338.1,906.5 1338.6,906.1 1339.1,904.2 1339.5,907.1 1340,904.2 1340.5,905.2 1341,902.7 1341.4,905.1 1341.9,905.7 1342.4,906.7 1342.8,906.4 1343.3,905 1343.8,907.3 1344.2,909.3 1344.7,906.6 1345.2,906.4 1345.7,906.8 1346.1,907.3 1346.6,908.3 1347.1,909.5 1347.5,905.5 1348,906.6 1348.5,907.1 1348.9,908.2 1349.4,908.5 1349.9,907.7 1350.4,906.4 1350.8,907.2 1351.3,907.4 1351.8,906.7 1352.2,908.6 1352.7,909 1353.2,908.5 1353.6,908.4 1354.1,905.8 1354.6,905.1 1355.1,909.7 1355.5,909.2 1356,908.1 1356.5,910.7 1356.9,908.8 1357.4,906 1357.9,908.9 1358.4,908.4 1358.8,906.2 1359.3,905 1359.8,907.7 1360.2,907.3 1360.7,906.8 1361.2,905.9 1361.6,909.5 1362.1,906.7 1362.6,907.8 1363.1,906.9 1363.5,906.5 1364,910.7 1364.5,906 1364.9,907.2 1365.4,907.7 1365.9,906.3 1366.3,906 1366.8,903.7 1367.3,905.3 1367.8,905.1 1368.2,906 1368.7,905.5 1369.2,907.9 1369.6,905.8 1370.1,906.9 1370.6,906.3 1371,906.5 1371.5,910 1372,907.6 1372.5,907.5 1372.9,907.2 1373.4,911.4 1373.9,908.1 1374.3,910.5 1374.8,909.4 1375.3,907.8 1375.8,907.2 1376.2,907.7 1376.7,908.1 1377.2,908.1 1377.6,906.3 1378.1,906.1 1378.6,907 1379,909.5 1379.5,910.1 1380,909.1 1380.5,907.5 1380.9,905.8 1381.4,907.4 1381.9,907.5 1382.3,906.9 1382.8,906.9 1383.3,907 1383.7,907.2 1384.2,906.9 1384.7,905.9 1385.2,905.4 1385.6,906 1386.1,903.9 1386.6,906.5 1387,904.2 1387.5,905.8 1388,903.8 1388.4,906 1388.9,904.5 1389.4,903.1 1389.9,903.3 1390.3,905.6 1390.8,905.4 1391.3,906.3 1391.7,905.3 1392.2,907.2 1392.7,905.8 1393.2,906.5 1393.6,905.5 1394.1,905.7 1394.6,905.4 1395,905.1 1395.5,903.5 1396,905 1396.4,905.1 1396.9,902.7 1397.4,908.4 1397.9,905.4 1398.3,905.5 1398.8,902 1399.3,903.5 1399.7,903.7 1400.2,904.7 1400.7,904.3 1401.1,903 1401.6,907.5 1402.1,906.5 1402.6,904.8 1403,906.8 1403.5,904.8 1404,905 1404.4,904.8 1404.9,908.8 1405.4,906.3 1405.8,905.2 1406.3,907.3 1406.8,905.3 1407.3,907.2 1407.7,908.6 1408.2,904.9 1408.7,909.5 1409.1,907.6 1409.6,908.3 1410.1,909.2 1410.6,909.5 1411,911.3 1411.5,908.7 1412,910.7 1412.4,906.6 1412.9,909.8 1413.4,911.5 1413.8,908.6 1414.3,907.9 1414.8,907.5 1415.3,909.6 1415.7,909.2 1416.2,909.4 1416.7,908.4 1417.1,907.3 1417.6,907.8 1418.1,909.6 1418.5,909.2 1419,909 1419.5,909.6 1420,910.1 1420.4,909.1 1420.9,907.6 1421.4,907.5 1421.8,909.6 1422.3,907.6 1422.8,908.3 1423.2,907.5 1423.7,906.9 1424.2,907.2 1424.7,906.4 1425.1,906.6 1425.6,906.3 1426.1,907.5 1426.5,909.6 1427,910.3 1427.5,907.4 1428,907.6 1428.4,909.5 1428.9,909.4 1429.4,910.6 1429.8,905.8 1430.3,910.8 1430.8,910.6 1431.2,906.9 1431.7,906.5 1432.2,908.6 1432.7,907.2 1433.1,907.1 1433.6,908.7 1434.1,904.1 1434.5,906.8 1435,906.7 1435.5,906.9 1435.9,905.9 1436.4,907.5 1436.9,906 1437.4,905.4 1437.8,905.1 1438.3,906 1438.8,905.2 1439.2,906.3 1439.7,903.7 1440.2,907.3 1440.7,907.6 1441.1,905.7 1441.6,904.6 1442.1,906.3 1442.5,905.5 1443,905.7 1443.5,905.5 1443.9,904 1444.4,907.9 1444.9,907.6 1445.4,906.9 1445.8,907.5 1446.3,906.8 1446.8,905 1447.2,906.6 1447.7,908.2 1448.2,906.6 1448.6,906.9 1449.1,905.1 1449.6,909.3 1450.1,907.5 1450.5,906.4 1451,906.6 1451.5,907.3 1451.9,908.4 1452.4,908.6 1452.9,908.5 1453.3,906.7 1453.8,906.2 1454.3,907.2 1454.8,907.6 1455.2,906.5 1455.7,909 1456.2,903.5 1456.6,908.1 1457.1,906.8 1457.6,907.4 1458.1,907.7 1458.5,907.5 1459,909.7 1459.5,905.8 1459.9,908.4 1460.4,911.1 1460.9,907.1 1461.3,908.3 1461.8,909.6 1462.3,909.2 1462.8,910.8 1463.2,906.7 1463.7,909.3 1464.2,910.2 1464.6,911.5 1465.1,910.5 1465.6,911.5 1466,908.8 1466.5,909 1467,909.3 1467.5,908.1 1467.9,907 1468.4,907.2 1468.9,907.7 1469.3,905.7 1469.8,906.5 1470.3,905.6 1470.7,905.9 1471.2,905.9 1471.7,902.4 1472.2,906 1472.6,907.2 1473.1,906.6 1473.6,905.9 1474,901.5 1474.5,899.9 1475,906.8 1475.5,902.6 1475.9,904 1476.4,901.1 1476.9,903.2 1477.3,904.7 1477.8,902.7 1478.3,903.9 1478.7,904.2 1479.2,907.2 1479.7,904.5 1480.2,904.9 1480.6,905.3 1481.1,905.9 1481.6,905.1 1482,906.1 1482.5,907.9 1483,905.7 1483.4,908.4 1483.9,906.3 1484.4,906.7 1484.9,904.7 1485.3,906.2 1485.8,906.1 1486.3,906.6 1486.7,908.8 1487.2,907.4 1487.7,907.3 1488.1,910.3 1488.6,909.3 1489.1,906.4 1489.6,906 1490,905.5 1490.5,905.9 1491,910.3 1491.4,908.3 1491.9,909.2 1492.4,908.5 1492.9,905.2 1493.3,906.7 1493.8,906.9 1494.3,906.9 1494.7,906.8 1495.2,907.4 1495.7,907.7 1496.1,904.7 1496.6,906.2 1497.1,908.7 1497.6,907.2 1498,906.5 1498.5,907.8 1499,905.9 1499.4,907.5 1499.9,906.2 1500.4,905.8 1500.8,906.3 1501.3,906.8 1501.8,905.3 1502.3,904.5 1502.7,903.7 1503.2,904.9 1503.7,907.4 1504.1,903.2 1504.6,907.4 1505.1,906.7 1505.5,902.1 1506,904.7 1506.5,902.2 1507,905.1 1507.4,905.3 1507.9,908.5 1508.4,905.5 1508.8,904.6 1509.3,905.2 1509.8,902.3 1510.3,904.7 1510.7,905.1 1511.2,904.4 1511.7,905.2 1512.1,904.9 1512.6,906.7 1513.1,908.2 1513.5,905.9 1514,906.1 1514.5,905.2 1515,904.4 1515.4,905.5 1515.9,907.2 1516.4,904.9 1516.8,903.9 1517.3,906.5 1517.8,903.7 1518.2,905.8 1518.7,905.4 1519.2,902.6 1519.7,904.7 1520.1,903.3 1520.6,903.5 1521.1,904.2 1521.5,902.1 1522,903.8 1522.5,903.4 1522.9,904.3 1523.4,907.5 1523.9,907.8 1524.4,905.5 1524.8,904.7 1525.3,902.4 1525.8,903.2 1526.2,905.1 1526.7,904.4 1527.2,904.1 1527.7,903.9 1528.1,904.1 1528.6,906 1529.1,904.3 1529.5,904.7 1530,906.1 1530.5,903.5 1530.9,904.8 1531.4,904.3 1531.9,906.4 1532.4,909.7 1532.8,905.7 1533.3,908.4 1533.8,909 1534.2,909.4 1534.7,910.1 1535.2,908.4 1535.6,910.1 1536.1,910.9 1536.6,910.5 1537.1,909.4 1537.5,910.5 1538,909.5 1538.5,907.5 1538.9,909.2 1539.4,908.5 1539.9,907.7 1540.3,911.1 1540.8,906.2 1541.3,905.5 1541.8,910.2 1542.2,907.6 1542.7,906.6 1543.2,907.6 1543.6,906.5 1544.1,907.7 1544.6,907.8 1545.1,906.7 1545.5,907.8 1546,907.2 1546.5,909.2 1546.9,909.2 1547.4,909.4 1547.9,908.7 1548.3,907.9 1548.8,909.8 1549.3,910 1549.8,910.6 1550.2,908 1550.7,909.4 1551.2,910 1551.6,908.2 1552.1,908.4 1552.6,906.8 1553,907.4 1553.5,907 1554,908.2 1554.5,908.4 1554.9,905.3 1555.4,907.6 1555.9,909.1 1556.3,906.3 1556.8,906.7 1557.3,906.9 1557.7,907.7 1558.2,906.4 1558.7,906.1 1559.2,908.7 1559.6,905.4 1560.1,907.4 1560.6,902.7 1561,903.8 1561.5,905.9 1562,905.4 1562.5,904.9 1562.9,905.4 1563.4,905.1 1563.9,906 1564.3,902 1564.8,903.7 1565.3,904.5 1565.7,902.6 1566.2,904.8 1566.7,899.7 1567.2,905.3 1567.6,901.6 1568.1,905.7 1568.6,904.9 1569,904.3 1569.5,901.4 1570,903.9 1570.4,902.3 1570.9,906.3 1571.4,905 1571.9,902.4 1572.3,903.1 1572.8,900.9 1573.3,902.6 1573.7,901.4 1574.2,903.1 1574.7,904.8 1575.2,901.6 1575.6,905.7 1576.1,906.2 1576.6,903.7 1577,905.3 1577.5,905.3 1578,905.6 1578.4,903.5 1578.9,906.9 1579.4,907.4 1579.9,905.7 1580.3,907.5 1580.8,905.3 1581.3,904.7 1581.7,903.3 1582.2,906.2 1582.7,907.3 1583.1,906.4 1583.6,903.7 1584.1,905 1584.6,902.7 1585,906.5 1585.5,906.1 1586,903.9 1586.4,907.5 1586.9,907.7 1587.4,906.7 1587.8,906.6 1588.3,906.7 1588.8,907.4 1589.3,906.7 1589.7,907 1590.2,908.2 1590.7,906.2 1591.1,905.6 1591.6,905.1 1592.1,908.1 1592.6,908.4 1593,908.7 1593.5,908.4 1594,909.9 1594.4,908.1 1594.9,905.1 1595.4,908.9 1595.8,908.7 1596.3,910.3 1596.8,909.5 1597.3,909.8 1597.7,909 1598.2,909.3 1598.7,911 1599.1,907.8 1599.6,906.9 1600.1,909.8 1600.5,909.3 1601,909.3 1601.5,908.2 1602,906.7 1602.4,909.7 1602.9,910.2 1603.4,905.4 1603.8,908 1604.3,907.8 1604.8,910.2 1605.2,908.1 1605.7,907.6 1606.2,909.2 1606.7,910.5 1607.1,905.5 1607.6,908.2 1608.1,909.9 1608.5,909.4 1609,908.4 1609.5,909.8 1610,909.8 1610.4,909.6 1610.9,908.1 1611.4,907.9 1611.8,908.4 1612.3,909.3 1612.8,907.7 1613.2,908.5 1613.7,910.3 1614.2,908.4 1614.7,908.6 1615.1,909.6 1615.6,909.1 1616.1,910.2 1616.5,909.3 1617,908.9 1617.5,908.2 1617.9,907.6 1618.4,907.5 1618.9,908.1 1619.4,908.5 1619.8,909 1620.3,907.9 1620.8,906.9 1621.2,907.1 1621.7,909.8 1622.2,907.5 1622.6,908 1623.1,907.2 1623.6,907.3 1624.1,906.3 1624.5,906.3 1625,907.1 1625.5,907.8 1625.9,909.5 1626.4,907.2 1626.9,908.6 1627.4,908.1 1627.8,909.6 1628.3,908.8 1628.8,908.2 1629.2,909.5 1629.7,910.5 1630.2,909.6 1630.6,910 1631.1,911 1631.6,908.5 1632.1,910 1632.5,909.1 1633,906.9 1633.5,906.6 1633.9,907.5 1634.4,907.5 1634.9,906.6 1635.3,905.3 1635.8,906.1 1636.3,904.5 1636.8,906 1637.2,903.1 1637.7,903.9 1638.2,902.7 1638.6,900.5 1639.1,899.7 1639.6,899.7 1640,899.4 1640.5,897 1641,899.2 1641.5,898.1 1641.9,898.4 1642.4,898.3 1642.9,899 1643.3,898.7 1643.8,898.9 1644.3,899.5 1644.8,898.9 1645.2,898.8 1645.7,898.9 1646.2,898.3 1646.6,899.4 1647.1,898.5 1647.6,899 1648,899.2 1648.5,897.9 1649,898.4 1649.5,899.6 1649.9,898.7 1650.4,898.5 1650.9,897.7 1651.3,898.9 1651.8,899 1652.3,899 1652.7,898.4 1653.2,899.8 1653.7,900 1654.2,900.2 1654.6,899.8 1655.1,899.4 1655.6,900 1656,898.8 1656.5,899.3 1657,900 1657.4,900 1657.9,900 1658.4,899.7 1658.9,900.7 1659.3,899.4 1659.8,899.2 1660.3,900.6 1660.7,900.7 1661.2,900.2 1661.7,900.1 1662.2,900.2 1662.6,900.7 1663.1,900.3 1663.6,900.7 1664,900.5 1664.5,900 1665,900.8 1665.4,899.9 1665.9,900.6 1666.4,900.5 1666.9,900.4 1667.3,900.2 1667.8,899.7 1668.3,900 1668.7,899.7 1669.2,899.3 1669.7,900.3 1670.1,900.2 1670.6,900 1671.1,900.6 1671.6,899.6 1672,900 1672.5,899.7 1673,899.9 1673.4,899.7 1673.9,900.3 1674.4,899.2 1674.8,899.9 1675.3,899.9 1675.8,899.4 1676.3,900 1676.7,900 1677.2,900.8 1677.7,900.9 1678.1,902.5 1678.6,903.6 1679.1,904.1 1679.6,905.3 1680,905.9 1680.5,906.6 1681,906.8 1681.4,907.2 1681.9,907.6 1682.4,907.9 1682.8,908.5 1683.3,909.5 1683.8,909.8 1684.3,910.4 1684.7,910 1685.2,911.2 1685.7,912.1 1686.1,913.3 1686.6,913.6 1687.1,913.9 1687.5,915.3 1688,916.3 1688.5,916.7 1689,918 1689.4,918.5 1689.9,919.5 1690.4,920.5 1690.8,920.6 1691.3,922.6 1691.8,922.6 1692.2,923.7 1692.7,924.5 1693.2,925.5 1693.7,925.8 1694.1,927 1694.6,929 1695.1,928.5 1695.5,929.4 1696,929.9 1696.5,930.4 1697,931.3 1697.4,931.6 1697.9,931.9 1698.4,932.1 1698.8,932.1 1699.3,931.9 1699.8,932.4 1700.2,932.5 1700.7,932.6 1701.2,932.4 1701.7,932.1 1702.1,932.5 1702.6,932.1 1703.1,932.3 1703.5,932.1 1704,931.6 1704.5,931.2 1704.9,930.7 1705.4,930.4 1705.9,930.1 1706.4,929.3 1706.8,929 1707.3,928 1707.8,927.1 1708.2,925.6 1708.7,925.3 1709.2,923.9 1709.7,923.5 1710.1,922.1 1710.6,921.2 1711.1,920.1 1711.5,919.2 1712,917.7 1712.5,916 1712.9,915.2 1713.4,914.3 1713.9,913.1 1714.4,911.7 1714.8,910.7 1715.3,909.5 1715.8,908.2 1716.2,906.3 1716.7,905.1 1717.2,903.8 1717.6,902.2 1718.1,900.3 1718.6,897.7 1719.1,896.6 1719.5,895.3 1720,892.7 1720.5,890.3 1720.9,888.4 1721.4,886 1721.9,883.2 1722.3,881.4 1722.8,879.3 1723.3,877.9 1723.8,875.4 1724.2,873.2 1724.7,871 1725.2,868.2 1725.6,866.1 1726.1,864.3 1726.6,861.7 1727.1,859.9 1727.5,857.3 1728,856.3 1728.5,853.7 1728.9,852.8 1729.4,850.6 1729.9,849.4 1730.3,848.6 1730.8,847.3 1731.3,846.3 1731.8,845 1732.2,843.6 1732.7,842.3 1733.2,840.8 1733.6,840.2 1734.1,839 1734.6,838.6 1735,837.5 1735.5,836.4 1736,835.8 1736.5,835.5 1736.9,834.4 1737.4,834.7 1737.9,833.9 1738.3,833.8 1738.8,834 1739.3,833.9 1739.7,833.9 1740.2,834.2 1740.7,835.7 1741.2,837.1 1741.6,837.9 1742.1,839.4 1742.6,841.5 1743,843.2 1743.5,845.2 1744,848.6 1744.5,850.2 1744.9,853.2 1745.4,856 1745.9,858.6 1746.3,861.6 1746.8,865.2 1747.3,868.3 1747.7,871.7 1748.2,874.5 1748.7,877.6 1749.2,881 1749.6,884 1750.1,886.6 1750.6,890.6 1751,893 1751.5,896.3 1752,899.6 1752.4,902.6 1752.9,906.6 1753.4,908.7 1753.9,912.6 1754.3,914.9 1754.8,917.9 1755.3,921.3 1755.7,923.7 1756.2,926.7 1756.7,930.3 1757.1,934 1757.6,937.3 1758.1,940.9 1758.6,943.6 1759,945.4 1759.5,948.8 1760,951.4 1760.4,953.6 1760.9,956.5 1761.4,959.2 1761.9,961.8 1762.3,963.9 1762.8,966.9 1763.3,969.6 1763.7,971.5 1764.2,974.6 1764.7,977.3 1765.1,979.5 1765.6,982.3 1766.1,984.8 1766.6,986.9 1767,988.8 1767.5,990.2 1768,992.3 1768.4,995.3 1768.9,996.8 1769.4,997.8 1769.8,998.9 1770.3,999.9 1770.8,1000.9 1771.3,1001.2 1771.7,1002.1 1772.2,1002.4 1772.7,1001.8 1773.1,1001.2 1773.6,1000.7 1774.1,1000.5 1774.5,999.8 1775,997.5 1775.5,996.2 1776,994.2 1776.4,992.4 1776.9,989.3 1777.4,987.3 1777.8,985.7 1778.3,982.9 1778.8,980.8 1779.3,978.1 1779.7,975.7 1780.2,973.1 1780.7,970 1781.1,968.1 1781.6,964.8 1782.1,962.2 1782.5,958.4 1783,955.6 1783.5,951.6 1784,948.9 1784.4,946.6 1784.9,943.2 1785.4,941 1785.8,937.8 1786.3,935.4 1786.8,933.4 1787.2,930.6 1787.7,928.2 1788.2,925.6 1788.7,924 1789.1,921.2 1789.6,919.6 1790.1,917.9 1790.5,915.5 1791,913.9 1791.5,911.9 1791.9,909.8 1792.4,908.1 1792.9,906.5 1793.4,905.2 1793.8,903.1 1794.3,900.9 1794.8,899.2 1795.2,897.4 1795.7,896 1796.2,894.7 1796.7,893.2 1797.1,892.4 1797.6,890.5 1798.1,889 1798.5,888.4 1799,886.7 1799.5,885.9 1799.9,885.2 1800.4,883.9 1800.9,882.8 1801.4,881.9 1801.8,881 1802.3,879.8 1802.8,879.1 1803.2,877.9 1803.7,877.3 1804.2,876 1804.6,874.8 1805.1,872.9 1805.6,871 1806.1,869.9 1806.5,867.5 1807,864.9 1807.5,861.6 1807.9,858.3 1808.4,854.4 1808.9,850.7 1809.3,845 1809.8,838.5 1810.3,829.7 1810.8,818.6 1811.2,801.4 1811.7,782.8 1812.2,763.4 1812.6,742.4 1813.1,719.1 1813.6,695.3 1814.1,665.7 1814.5,631.2 1815,593.6 1815.5,555.1 1815.9,516.9 1816.4,477.9 1816.9,438.8 1817.3,400.7 1817.8,364.2 1818.3,329.9 1818.8,295 1819.2,253.9 1819.7,208.7 1820.2,172.7 1820.6,143 1821.1,117.9 1821.6,101 1822,110.4 1822.5,140.6 1823,182.3 1823.5,225.9 1823.9,275.7 1824.4,335.4 1824.9,401.2 1825.3,477.5 1825.8,556.8 1826.3,637.5 1826.7,726.3 1827.2,823.9 1827.7,922.6 1828.2,1009.9 1828.6,1081.9 1829.1,1140.7 1829.6,1190 1830,1215.7 1830.5,1228.9 1831,1235.1 1831.5,1238.1 1831.9,1239.4 1832.4,1239.8 1832.9,1239.9 1833.3,1240 1833.8,1240 1834.3,1240 1834.7,1240 1835.2,1240 1835.7,1240 1836.2,1240 1836.6,1240 1837.1,1240 1837.6,1240 1838,1240 1838.5,1240 1839,1240 1839.4,1240 1839.9,1240 1840.4,1240 1840.9,1240 1841.3,1240 1841.8,1240 1842.3,1240 1842.7,1240 1843.2,1240 1843.7,1240 1844.2,1240 1844.6,1240 1845.1,1240 1845.6,1240 1846,1240 1846.5,1240 1847,1240 1847.4,1239.5 1847.9,1239.5 1848.4,1239.5 1848.9,1239.5 1849.3,1239.5 1849.8,1239.5 1850.3,1239.5 1850.7,1239.5 1851.2,1239.5 1851.7,1239.5 1852.1,1239.5 1852.6,1239.5 1853.1,1239.5 1853.6,1239.5 1854,1239.5 1854.5,1239.5 1855,1239.5 1855.4,1239.5 1855.9,1239.5 1856.4,1239.5 1856.8,1239.5 1857.3,1239.5 1857.8,1239.5 1858.3,1239.5 1858.7,1239.5 1859.2,1239.5 1859.7,1239.5 1860.1,1239.5 1860.6,1239.5 1861.1,1239.5 1861.6,1239.5 1862,1239.5 1862.5,1239.5 1863,1239.5 1863.4,1239.5 1863.9,1239.5 1864.4,1239.5 1864.8,1239.5 1865.3,1239.5 1865.8,1239.5 1866.3,1239.5 1866.7,1239.5 1867.2,1239.5 1867.7,1239.5 1868.1,1239.5 1868.6,1239.5 1869.1,1239.5 1869.5,1239.5 1870,1239.5 1870.5,1239.5 1871,1239.5 1871.4,1239.5 1871.9,1239.5 1872.4,1239.5 1872.8,1239.5 1873.3,1239.5 1873.8,1239.5 1874.2,1239.5 1874.7,1239.5 1875.2,1239.5 1875.7,1239.5 1876.1,1239.5 1876.6,1239.5 1877.1,1239.5 1877.5,1239.5 1878,1239.5 1878.5,1239.5 1879,1239.5 1879.4,1239.5 1879.9,1239.5 1880.4,1239.5 1880.8,1239.5 1881.3,1239.5 1881.8,1239.5 1882.2,1239.5 1882.7,1239.5 1883.2,1239.5 1883.7,1239.5 1884.1,1239.5 1884.6,1239.5 1885.1,1239.5 1885.5,1239.5 1886,1239.5 1886.5,1239.5 1886.9,1239.5 1887.4,1239.5 1887.9,1239.5 1888.4,1239.5 1888.8,1239.5 1889.3,1239.5 1889.8,1239.5 1890.2,1239.5 1890.7,1239.5 1891.2,1239.5 1891.6,1239.5 1892.1,1239.5 1892.6,1239.5 1893.1,1239.5 1893.5,1239.5 1894,1239.5 1894.5,1239.5 1894.9,1239.5 1895.4,1239.5 1895.9,1239.5 1896.4,1239.5 1896.8,1239.5 1897.3,1239.5 1897.8,1239.5 1898.2,1239.5 1898.7,1239.5 1899.2,1239.5 1899.6,1239.5 1900.1,1239.5 1900.6,1239.5 1901.1,1239.5 1901.5,1239.5 1902,1239.5 1902.5,1239.5 1902.9,1239.5 1903.4,1239.5 1903.9,1239.5 1904.3,1239.5 1904.8,1239.5 1905.3,1239.5 1905.8,1239.5 1906.2,1239.5 1906.7,1239.5 1907.2,1239.5 1907.6,1239.5 1908.1,1239.5 1908.6,1239.5 1909,1239.5 1909.5,1239.5 1910,1239.5 1910.5,1239.5 1910.9,1239.5 1911.4,1239.5 1911.9,1239.5 1912.3,1239.5 1912.8,1239.5 1913.3,1239.5 1913.8,1239.5 1914.2,1239.5 1914.7,1239.5 1915.2,1239.5 1915.6,1239.5 1916.1,1239.5 1916.6,1239.5 1917,1239.5 1917.5,1239.5" fill="none" stroke="#2ca02c" stroke-width="5" stroke-linejoin="round" />
<polyline points="304,909.6 304.5,909.4 304.9,914.9 305.4,909.8 305.9,911.7 306.3,912.8 306.8,911.7 307.3,914.9 307.7,912.2 308.2,908.1 308.7,910 309.2,911.1 309.6,908.6 310.1,912.7 310.6,910.3 311,912.6 311.5,910 312,910.9 312.4,909.3 312.9,912.1 313.4,910.6 313.9,909.2 314.3,909.6 314.8,912.7 315.3,911 315.7,911.3 316.2,912.5 316.7,912 317.2,913.6 317.6,913.6 318.1,912.9 318.6,912.9 319,914.1 319.5,912.9 320,914.1 320.4,911.2 320.9,915.4 321.4,911.7 321.9,912.5 322.3,915.6 322.8,911.7 323.3,911.9 323.7,911.9 324.2,912.3 324.7,911.8 325.1,909.9 325.6,908.8 326.1,909.5 326.6,911.7 327,910.3 327.5,913.1 328,910 328.4,909.3 328.9,912.1 329.4,909.7 329.8,911 330.3,910.9 330.8,911.6 331.3,909 331.7,909.2 332.2,910 332.7,908.7 333.1,911.7 333.6,909.2 334.1,911.3 334.6,908.2 335,904.6 335.5,907.9 336,908.1 336.4,906.2 336.9,908.2 337.4,907.9 337.8,907.9 338.3,908.8 338.8,908.1 339.3,907.9 339.7,910.5 340.2,908.1 340.7,910.5 341.1,906.1 341.6,911.4 342.1,907.3 342.5,910 343,908.3 343.5,910.7 344,908.7 344.4,908.2 344.9,910.9 345.4,912.8 345.8,909.9 346.3,912.7 346.8,912.2 347.2,911.5 347.7,912.2 348.2,914.4 348.7,913.4 349.1,912.3 349.6,910.9 350.1,912.8 350.5,912.5 351,910 351.5,909 352,911.6 352.4,913.8 352.9,910.5 353.4,911.2 353.8,911 354.3,910.2 354.8,912.1 355.2,909.1 355.7,913.4 356.2,914.4 356.7,912.6 357.1,915 357.6,914.3 358.1,916 358.5,912 359,912.5 359.5,913.3 359.9,913.9 360.4,915.3 360.9,915.1 361.4,912.4 361.8,910.7 362.3,911.2 362.8,915.6 363.2,914.4 363.7,908.7 364.2,912.4 364.6,912 365.1,912.3 365.6,910.4 366.1,912.8 366.5,912.1 367,911.3 367.5,911.4 367.9,910.4 368.4,911.3 368.9,911.1 369.4,913.3 369.8,912.7 370.3,912.8 370.8,911.6 371.2,911.7 371.7,912.7 372.2,913 372.6,914.9 373.1,914.2 373.6,912.3 374.1,910.5 374.5,911.5 375,913.1 375.5,912.5 375.9,912.6 376.4,911.3 376.9,911.4 377.3,909.8 377.8,910.2 378.3,911.2 378.8,910.5 379.2,912.6 379.7,913.9 380.2,910.5 380.6,909.8 381.1,910.7 381.6,912.5 382,912.9 382.5,909.7 383,911.6 383.5,910 383.9,913.8 384.4,911.6 384.9,911.8 385.3,910.9 385.8,909.1 386.3,906 386.8,910.8 387.2,908.9 387.7,907.8 388.2,908.7 388.6,908.3 389.1,910 389.6,908.4 390,904.4 390.5,908.9 391,907.8 391.5,906.5 391.9,906.7 392.4,905.7 392.9,906.3 393.3,906.1 393.8,907.4 394.3,908.2 394.7,906.9 395.2,904.2 395.7,906.8 396.2,908 396.6,906.5 397.1,909.3 397.6,908.7 398,905 398.5,908.6 399,909.3 399.5,908.4 399.9,906 400.4,908.1 400.9,909.1 401.3,909 401.8,907.7 402.3,907.4 402.7,910.3 403.2,910 403.7,908.7 404.2,912.3 404.6,911 405.1,907.5 405.6,908.8 406,908.8 406.5,908.7 407,906 407.4,908.4 407.9,910.5 408.4,908.3 408.9,907.1 409.3,910.5 409.8,906.9 410.3,907.5 410.7,910.2 411.2,910.4 411.7,910.2 412.1,910.1 412.6,910 413.1,909.2 413.6,911.2 414,909.6 414.5,911.1 415,912.6 415.4,910.1 415.9,909.8 416.4,909.6 416.9,912.1 417.3,910.3 417.8,911.1 418.3,910.6 418.7,908.9 419.2,911.8 419.7,910.5 420.1,911 420.6,908.8 421.1,910.2 421.6,911.4 422,912.4 422.5,911.2 423,913.1 423.4,911.7 423.9,914.6 424.4,914.1 424.8,914.4 425.3,914.4 425.8,913.9 426.3,912.5 426.7,911.3 427.2,914 427.7,913.7 428.1,913.5 428.6,913.6 429.1,911 429.5,912.2 430,914.8 430.5,912.8 431,914.3 431.4,909.6 431.9,912.3 432.4,913.2 432.8,911.7 433.3,911.5 433.8,910.3 434.3,911.9 434.7,912.8 435.2,908.2 435.7,911.6 436.1,911.5 436.6,912.1 437.1,910 437.5,909.3 438,909.4 438.5,911 439,908.8 439.4,913.7 439.9,911.6 440.4,913 440.8,910.6 441.3,911.6 441.8,910.6 442.2,911.9 442.7,914.4 443.2,910.5 443.7,913.7 444.1,909.6 444.6,911.3 445.1,913.9 445.5,910.3 446,911.8 446.5,914.1 446.9,911.4 447.4,915.4 447.9,916.4 448.4,916.7 448.8,912.8 449.3,913 449.8,914.8 450.2,913.1 450.7,915.3 451.2,915.9 451.7,914.4 452.1,915.7 452.6,916.2 453.1,913.2 453.5,914.5 454,916.2 454.5,914.8 454.9,914.5 455.4,917.6 455.9,916.2 456.4,918 456.8,918 457.3,917.7 457.8,918.3 458.2,919.6 458.7,917.8 459.2,917.9 459.6,919.5 460.1,916.7 460.6,918.3 461.1,917 461.5,917.8 462,918 462.5,917.7 462.9,915.4 463.4,914.9 463.9,914.3 464.3,914.9 464.8,915.8 465.3,916.3 465.8,913.4 466.2,912.6 466.7,913.5 467.2,913.2 467.6,914.3 468.1,914.4 468.6,910.8 469.1,912.6 469.5,912.1 470,909.8 470.5,913.7 470.9,911.9 471.4,909.8 471.9,910.3 472.3,910.6 472.8,911 473.3,909.8 473.8,910.2 474.2,912.2 474.7,910.3 475.2,911.6 475.6,913.2 476.1,912.8 476.6,913.5 477,914 477.5,912.6 478,915.3 478.5,911.1 478.9,912.9 479.4,913.3 479.9,911.1 480.3,914.2 480.8,914.4 481.3,911.7 481.7,914.8 482.2,913.5 482.7,913.7 483.2,913.5 483.6,912.6 484.1,914.7 484.6,915.3 485,916.8 485.5,914.7 486,915.5 486.5,913.3 486.9,913.4 487.4,914.3 487.9,912.6 488.3,911.3 488.8,915 489.3,913.4 489.7,914.2 490.2,913.8 490.7,914.9 491.2,915.5 491.6,911.6 492.1,913.3 492.6,915.1 493,913 493.5,914.6 494,912.9 494.4,911.5 494.9,909.2 495.4,911.8 495.9,910.1 496.3,913.2 496.8,909.8 497.3,911.4 497.7,910.3 498.2,911.8 498.7,911.4 499.1,908.5 499.6,910.2 500.1,910 500.6,912 501,912.6 501.5,909.6 502,912.2 502.4,910.5 502.9,908.5 503.4,909.2 503.9,909.2 504.3,909.7 504.8,912.4 505.3,909.7 505.7,908.9 506.2,912.1 506.7,912.2 507.1,910 507.6,912.2 508.1,910.8 508.6,910.3 509,911.6 509.5,911.6 510,913 510.4,912.1 510.9,911.6 511.4,913.1 511.8,911.2 512.3,908.8 512.8,909.3 513.3,910 513.7,912.1 514.2,913 514.7,910.1 515.1,909.1 515.6,908.6 516.1,911.9 516.5,909.6 517,908.5 517.5,910.4 518,911.2 518.4,911.5 518.9,911.1 519.4,909.1 519.8,912.9 520.3,910 520.8,911.7 521.3,907.8 521.7,909.4 522.2,910.5 522.7,909.3 523.1,911.3 523.6,911.6 524.1,911.9 524.5,910.7 525,911.5 525.5,913.1 526,910.9 526.4,912 526.9,913.5 527.4,911.2 527.8,913.4 528.3,911.9 528.8,912.4 529.2,911.4 529.7,908.8 530.2,909.7 530.7,909.4 531.1,911.5 531.6,913.6 532.1,910.5 532.5,912.8 533,912.9 533.5,912.4 534,912.4 534.4,911.7 534.9,914.8 535.4,914.4 535.8,913.6 536.3,912 536.8,913 537.2,911.2 537.7,911 538.2,912.3 538.7,910.6 539.1,911.9 539.6,911.2 540.1,909.3 540.5,910.1 541,911.9 541.5,910.2 541.9,910.7 542.4,910.6 542.9,910.1 543.4,907.9 543.8,909.6 544.3,908.9 544.8,910.5 545.2,910.6 545.7,912.3 546.2,910.9 546.6,911.9 547.1,910.9 547.6,910 548.1,910.7 548.5,913.4 549,910.9 549.5,912.8 549.9,908 550.4,913 550.9,908.6 551.4,911.2 551.8,910.4 552.3,910.7 552.8,908.2 553.2,911.5 553.7,909.4 554.2,907.5 554.6,912.3 555.1,910.5 555.6,910.7 556.1,912 556.5,911.7 557,912.6 557.5,910 557.9,910 558.4,909.7 558.9,908.5 559.3,911.9 559.8,912.5 560.3,909.8 560.8,910.1 561.2,909.6 561.7,910.4 562.2,913 562.6,910.6 563.1,912.3 563.6,910.9 564,910.5 564.5,912.4 565,912.5 565.5,912.2 565.9,911.9 566.4,912.9 566.9,913.7 567.3,912.5 567.8,911.9 568.3,912.2 568.8,911.8 569.2,908.7 569.7,915.4 570.2,911.6 570.6,909.2 571.1,911.6 571.6,910.9 572,913.9 572.5,911.2 573,915.2 573.5,912.8 573.9,912.8 574.4,914 574.9,915.9 575.3,914.1 575.8,913.5 576.3,914.7 576.7,915.3 577.2,915.4 577.7,912 578.2,915.4 578.6,913.3 579.1,912.5 579.6,912.8 580,913.7 580.5,914.3 581,913.1 581.4,915.1 581.9,913.3 582.4,912.5 582.9,913.5 583.3,913.6 583.8,912.1 584.3,913.3 584.7,913.3 585.2,913.3 585.7,915.4 586.2,912.2 586.6,910.5 587.1,912.3 587.6,913.5 588,913.9 588.5,910.7 589,914.2 589.4,911.7 589.9,912.8 590.4,911.3 590.9,911.4 591.3,912.5 591.8,914 592.3,913.8 592.7,912.3 593.2,913.4 593.7,913.9 594.1,912.8 594.6,915.2 595.1,909.9 595.6,911.4 596,915.1 596.5,911.7 597,912.5 597.4,914.6 597.9,912.1 598.4,913.5 598.8,912.7 599.3,911.7 599.8,913.9 600.3,914.5 600.7,910.2 601.2,912.7 601.7,914.2 602.1,910.3 602.6,910.7 603.1,910.3 603.6,910.8 604,911.3 604.5,910.3 605,909.5 605.4,912.5 605.9,911.3 606.4,910.2 606.8,910.9 607.3,910.6 607.8,911 608.3,910.5 608.7,913.3 609.2,908.6 609.7,911.5 610.1,912.6 610.6,912.5 611.1,911.5 611.5,915.2 612,910.3 612.5,909 613,909.4 613.4,909.2 613.9,909.5 614.4,911 614.8,911.4 615.3,911.5 615.8,912.4 616.2,913.2 616.7,910.9 617.2,914.3 617.7,911.3 618.1,912.2 618.6,911.4 619.1,914.1 619.5,914.2 620,911 620.5,910.5 621,910.3 621.4,908.2 621.9,911.2 622.4,911.5 622.8,910.3 623.3,910 623.8,911.2 624.2,908.5 624.7,911.7 625.2,910.4 625.7,910.4 626.1,910 626.6,912.4 627.1,911.5 627.5,911.5 628,912.5 628.5,907.8 628.9,911.5 629.4,912.2 629.9,913.5 630.4,909 630.8,911 631.3,912.3 631.8,913.5 632.2,913.8 632.7,911.6 633.2,909.7 633.6,912.3 634.1,911.9 634.6,912.4 635.1,912.4 635.5,913.4 636,912.5 636.5,911.6 636.9,907.9 637.4,909.9 637.9,910 638.4,912.8 638.8,910.4 639.3,912.2 639.8,910.5 640.2,909.1 640.7,911.5 641.2,910 641.6,910.6 642.1,912.8 642.6,912.8 643.1,909.6 643.5,912.9 644,910.3 644.5,910.5 644.9,912.4 645.4,911.2 645.9,912.3 646.3,909 646.8,912.6 647.3,910.4 647.8,912.8 648.2,911.9 648.7,910.9 649.2,909.5 649.6,911.7 650.1,912.5 650.6,913.2 651,911.4 651.5,911.2 652,913.7 652.5,912.1 652.9,913.1 653.4,911.7 653.9,912.9 654.3,912.3 654.8,910.2 655.3,912.4 655.8,913.1 656.2,913 656.7,913.3 657.2,911.3 657.6,913.4 658.1,915.1 658.6,914.7 659,912 659.5,914.9 660,913 660.5,914.6 660.9,911.7 661.4,913.3 661.9,913.2 662.3,914.4 662.8,911.7 663.3,911.8 663.7,914.5 664.2,911.9 664.7,913.8 665.2,913.7 665.6,910.9 666.1,910 666.6,910.1 667,909.5 667.5,909.6 668,907.8 668.5,909.2 668.9,907.3 669.4,911.1 669.9,910.6 670.3,913.2 670.8,909.4 671.3,908.9 671.7,908.4 672.2,908.3 672.7,910.1 673.2,909.6 673.6,910.6 674.1,909.2 674.6,909.7 675,908.2 675.5,910.2 676,910.8 676.4,912.5 676.9,911.4 677.4,910.8 677.9,912.2 678.3,911.7 678.8,910.3 679.3,910.9 679.7,912.6 680.2,911.8 680.7,913.1 681.1,912.8 681.6,910.7 682.1,913 682.6,912.8 683,913.4 683.5,912.4 684,911.1 684.4,910.5 684.9,910.1 685.4,912.7 685.9,912.7 686.3,911.6 686.8,913.3 687.3,915 687.7,914.5 688.2,912 688.7,914.7 689.1,913.8 689.6,914.2 690.1,912.4 690.6,912 691,912.4 691.5,914.8 692,914.8 692.4,915.5 692.9,916.5 693.4,915.3 693.8,915.6 694.3,914.3 694.8,916.2 695.3,917.3 695.7,914.2 696.2,918 696.7,914.5 697.1,914.8 697.6,913.9 698.1,913.2 698.5,915.7 699,913.6 699.5,913.4 700,913.3 700.4,910.7 700.9,914 701.4,915.9 701.8,913.7 702.3,913.7 702.8,915.4 703.3,914.9 703.7,915.6 704.2,916 704.7,915.1 705.1,913.5 705.6,913.1 706.1,913 706.5,915 707,914.7 707.5,912.4 708,912.7 708.4,914.7 708.9,913.8 709.4,914.3 709.8,908.4 710.3,912.4 710.8,911 711.2,910.4 711.7,910.2 712.2,912.3 712.7,909.2 713.1,910.6 713.6,912.7 714.1,914 714.5,912.9 715,910.7 715.5,910.2 715.9,911 716.4,909.9 716.9,910.5 717.4,910.7 717.8,909.3 718.3,911.1 718.8,908.8 719.2,908.4 719.7,910 720.2,906.7 720.7,906.3 721.1,911 721.6,912.9 722.1,912.7 722.5,912.9 723,914.8 723.5,910.3 723.9,911.8 724.4,912.7 724.9,911.4 725.4,915.4 725.8,913.5 726.3,909.6 726.8,911.2 727.2,910.9 727.7,911.4 728.2,912.8 728.6,914.2 729.1,910.8 729.6,913.9 730.1,911.1 730.5,910 731,912.6 731.5,913.2 731.9,910.7 732.4,911.1 732.9,910.8 733.3,911.3 733.8,912 734.3,911.2 734.8,911.3 735.2,907.8 735.7,909.8 736.2,911.8 736.6,913.9 737.1,912.8 737.6,912.9 738.1,911.4 738.5,914 739,912.3 739.5,917.8 739.9,913.5 740.4,911.5 740.9,912 741.3,909.5 741.8,912.5 742.3,910.4 742.8,909.9 743.2,907.8 743.7,909.3 744.2,910.3 744.6,911.6 745.1,912.3 745.6,910.6 746,910.4 746.5,912.1 747,911.1 747.5,912 747.9,913.3 748.4,911.8 748.9,912.3 749.3,913.7 749.8,912.9 750.3,907.9 750.7,911.9 751.2,911.2 751.7,913.4 752.2,911.3 752.6,913.1 753.1,912 753.6,914.3 754,915.9 754.5,915 755,914 755.5,915.1 755.9,915.2 756.4,915.5 756.9,913.9 757.3,913.6 757.8,914.6 758.3,911.1 758.7,913.5 759.2,914.9 759.7,911.1 760.2,913.3 760.6,915.9 761.1,913.5 761.6,913.8 762,911.4 762.5,913.2 763,913.8 763.4,914.5 763.9,914.2 764.4,912.7 764.9,913 765.3,913.9 765.8,910.7 766.3,909.9 766.7,911.9 767.2,911.9 767.7,912.3 768.1,911.7 768.6,910.4 769.1,910.2 769.6,912.8 770,911 770.5,912 771,913.1 771.4,911.3 771.9,907.4 772.4,910.4 772.9,909.1 773.3,908.4 773.8,905.8 774.3,908.6 774.7,907.5 775.2,908.4 775.7,909.4 776.1,908.7 776.6,909.1 777.1,907.3 777.6,912.8 778,906.8 778.5,910.5 779,909.5 779.4,909.7 779.9,909.3 780.4,907.5 780.8,909.9 781.3,909.3 781.8,910.5 782.3,910.5 782.7,907.6 783.2,909.7 783.7,910.7 784.1,909.2 784.6,908.7 785.1,909.9 785.6,910.2 786,908.9 786.5,909 787,911.3 787.4,910.1 787.9,912.4 788.4,914.7 788.8,913.6 789.3,913.2 789.8,914.4 790.3,917.1 790.7,916.7 791.2,912.9 791.7,912.9 792.1,913 792.6,911.4 793.1,912.8 793.5,914.1 794,914.8 794.5,916.7 795,915.7 795.4,912.2 795.9,915.1 796.4,914.6 796.8,913.4 797.3,912.6 797.8,911.4 798.2,909.1 798.7,912.1 799.2,913.6 799.7,912.8 800.1,911 800.6,911 801.1,910.1 801.5,910.3 802,910 802.5,910 803,910.7 803.4,911.1 803.9,909.5 804.4,911.2 804.8,909 805.3,911 805.8,906.8 806.2,907.1 806.7,908.8 807.2,907.3 807.7,907.7 808.1,907.9 808.6,908 809.1,908.7 809.5,907.6 810,909.5 810.5,908.7 810.9,908.5 811.4,908.5 811.9,909.3 812.4,909.8 812.8,911.8 813.3,908.3 813.8,909.3 814.2,908.8 814.7,908.7 815.2,909.6 815.6,909.3 816.1,910.2 816.6,909.8 817.1,912.9 817.5,910.4 818,908.8 818.5,912.5 818.9,913.6 819.4,913 819.9,910 820.4,910.8 820.8,910.5 821.3,912.6 821.8,912.7 822.2,911.4 822.7,913.7 823.2,913.4 823.6,913 824.1,912.4 824.6,913.6 825.1,909.5 825.5,911.4 826,910.9 826.5,909.4 826.9,911 827.4,910.2 827.9,911.3 828.3,910.6 828.8,908.9 829.3,912 829.8,910.1 830.2,910.3 830.7,911.6 831.2,913.6 831.6,912.2 832.1,912.3 832.6,912.4 833,911.3 833.5,912.5 834,913.6 834.5,914.8 834.9,914.4 835.4,912.9 835.9,914.1 836.3,914.1 836.8,914.5 837.3,913.7 837.8,914.2 838.2,911.6 838.7,916.3 839.2,915.9 839.6,915.8 840.1,914.3 840.6,912.7 841,911.3 841.5,912.7 842,913.2 842.5,913.3 842.9,913.5 843.4,914.7 843.9,914.5 844.3,912.4 844.8,914 845.3,912.9 845.7,914 846.2,915.4 846.7,914.7 847.2,912.1 847.6,911.9 848.1,914.7 848.6,912.7 849,912.4 849.5,913.6 850,911.7 850.4,909.9 850.9,912.9 851.4,912.2 851.9,909 852.3,912.2 852.8,911.8 853.3,911 853.7,911 854.2,912.6 854.7,913 855.2,912.8 855.6,911.9 856.1,914.7 856.6,912.4 857,910.9 857.5,910.8 858,913.3 858.4,910.3 858.9,909.1 859.4,911.8 859.9,909.6 860.3,913.2 860.8,912.7 861.3,912.8 861.7,912.1 862.2,911.5 862.7,911.7 863.1,910 863.6,909.8 864.1,910.1 864.6,911.3 865,910.6 865.5,909.1 866,909.5 866.4,906 866.9,909.4 867.4,910.2 867.8,910.7 868.3,908.8 868.8,908.6 869.3,909.1 869.7,910.7 870.2,910.8 870.7,909.2 871.1,905.8 871.6,909.1 872.1,908.3 872.6,908.2 873,910 873.5,909.1 874,910.9 874.4,911.6 874.9,910.1 875.4,909.8 875.8,910.2 876.3,910.6 876.8,911.7 877.3,910.1 877.7,908.9 878.2,912 878.7,914.7 879.1,911.2 879.6,911.3 880.1,909.8 880.5,915.4 881,910 881.5,907.9 882,912.7 882.4,911 882.9,913.5 883.4,909.2 883.8,912 884.3,910.1 884.8,908 885.2,913.2 885.7,910.4 886.2,910.7 886.7,909.8 887.1,911 887.6,914.4 888.1,911.9 888.5,913.1 889,911.6 889.5,911.9 890,915.2 890.4,912.9 890.9,915.2 891.4,912.2 891.8,909.1 892.3,912.7 892.8,912.5 893.2,910.6 893.7,912.3 894.2,911.3 894.7,912.1 895.1,912.2 895.6,912.2 896.1,910 896.5,910.4 897,910.1 897.5,910.9 897.9,910.8 898.4,912.8 898.9,911 899.4,908.8 899.8,912.7 900.3,913.3 900.8,910.2 901.2,911 901.7,911.1 902.2,913.1 902.6,912.2 903.1,910.5 903.6,913.6 904.1,909.8 904.5,911.6 905,912.9 905.5,911.3 905.9,911.1 906.4,909.7 906.9,911.7 907.4,910.2 907.8,911.8 908.3,911.6 908.8,913.5 909.2,915.9 909.7,913.3 910.2,911.1 910.6,914.4 911.1,913.3 911.6,914.2 912.1,912.3 912.5,912.1 913,914.7 913.5,912.4 913.9,912.8 914.4,911.7 914.9,910.8 915.3,912.1 915.8,911.7 916.3,913.8 916.8,913.4 917.2,916.1 917.7,916.6 918.2,913.7 918.6,916.7 919.1,917.4 919.6,918.8 920.1,916 920.5,915.1 921,916.6 921.5,916.7 921.9,914.7 922.4,913.4 922.9,913.8 923.3,912.8 923.8,914.3 924.3,914.3 924.8,912.3 925.2,909.5 925.7,913.9 926.2,913.8 926.6,913.4 927.1,912.9 927.6,910.6 928,913.8 928.5,913.1 929,911.6 929.5,914.1 929.9,910.5 930.4,911.6 930.9,911.7 931.3,912.7 931.8,910.8 932.3,911.6 932.7,911.7 933.2,912.3 933.7,909.6 934.2,909.6 934.6,910.3 935.1,910.4 935.6,909.3 936,909.6 936.5,909.9 937,907 937.5,908.2 937.9,908.1 938.4,907.9 938.9,907.6 939.3,907.3 939.8,907.7 940.3,912.6 940.7,910.1 941.2,909.5 941.7,908.3 942.2,910.8 942.6,907.3 943.1,907.9 943.6,911.5 944,908.4 944.5,908.9 945,911.1 945.4,908.7 945.9,910.6 946.4,907.4 946.9,912.5 947.3,908 947.8,908.3 948.3,911.2 948.7,905.4 949.2,909.4 949.7,911.6 950.1,906.7 950.6,910.2 951.1,908.3 951.6,909.2 952,908.5 952.5,912.2 953,909.7 953.4,909.7 953.9,911.2 954.4,910.2 954.9,910.8 955.3,913.5 955.8,910.8 956.3,909.8 956.7,912.2 957.2,911.4 957.7,913.1 958.1,909.1 958.6,910.7 959.1,912.1 959.6,912 960,911.3 960.5,911.6 961,909.9 961.4,912.2 961.9,912.6 962.4,912 962.8,912.6 963.3,911.2 963.8,910.8 964.3,915.3 964.7,909.8 965.2,909.5 965.7,910.9 966.1,911.8 966.6,911 967.1,910.5 967.5,912.1 968,914.3 968.5,911.6 969,909.7 969.4,911.6 969.9,909.8 970.4,910.2 970.8,910.9 971.3,909.8 971.8,910.3 972.3,910 972.7,913.1 973.2,908.6 973.7,911.3 974.1,914.1 974.6,909.3 975.1,911.3 975.5,911.7 976,909 976.5,911.3 977,910.3 977.4,912.7 977.9,908.7 978.4,908.2 978.8,910.3 979.3,907.4 979.8,909.6 980.2,911.5 980.7,911.4 981.2,909.7 981.7,910.5 982.1,911.4 982.6,908.5 983.1,910.7 983.5,910.1 984,910.6 984.5,912.5 984.9,910.2 985.4,910 985.9,910 986.4,909.6 986.8,908.6 987.3,908 987.8,908.9 988.2,911.3 988.7,913.7 989.2,911.7 989.7,908.3 990.1,911.7 990.6,911.8 991.1,912.2 991.5,908.9 992,911.1 992.5,909.8 992.9,908.1 993.4,909.3 993.9,909.5 994.4,910.8 994.8,909.1 995.3,911.7 995.8,912.4 996.2,911.4 996.7,909.9 997.2,909.9 997.6,911.6 998.1,911.2 998.6,911.2 999.1,911.7 999.5,911.5 1000,914.3 1000.5,908.9 1000.9,912.9 1001.4,913.3 1001.9,912.8 1002.3,910.8 1002.8,912 1003.3,911.9 1003.8,910.2 1004.2,910.8 1004.7,911.3 1005.2,910.3 1005.6,909.9 1006.1,910.5 1006.6,910.3 1007.1,911.2 1007.5,910.7 1008,910.3 1008.5,911.4 1008.9,907.5 1009.4,907.8 1009.9,908.8 1010.3,909.9 1010.8,908.3 1011.3,910.8 1011.8,909.5 1012.2,908.8 1012.7,909.4 1013.2,909.6 1013.6,907.1 1014.1,908.8 1014.6,908.6 1015,910.2 1015.5,908.6 1016,908.6 1016.5,911.6 1016.9,908.8 1017.4,908.5 1017.9,908.6 1018.3,907 1018.8,910.4 1019.3,910.2 1019.7,908.3 1020.2,907.6 1020.7,909.5 1021.2,907.1 1021.6,908.4 1022.1,908.2 1022.6,908.5 1023,910.5 1023.5,910.6 1024,908.3 1024.5,909.1 1024.9,908.9 1025.4,907.1 1025.9,909.5 1026.3,910.5 1026.8,908.9 1027.3,910.2 1027.7,909.6 1028.2,911.8 1028.7,909 1029.2,909.6 1029.6,910.1 1030.1,911.9 1030.6,909.6 1031,907.5 1031.5,909.2 1032,911.4 1032.4,909.3 1032.9,911.7 1033.4,912.1 1033.9,912.8 1034.3,911.2 1034.8,911.1 1035.3,909.8 1035.7,911.4 1036.2,911.7 1036.7,911.5 1037.1,909.8 1037.6,909.9 1038.1,910.6 1038.6,907.5 1039,908 1039.5,909 1040,908.8 1040.4,910.8 1040.9,909.4 1041.4,907.2 1041.9,908.5 1042.3,910.2 1042.8,908.4 1043.3,908.2 1043.7,907.8 1044.2,911.6 1044.7,910.3 1045.1,911.9 1045.6,908.7 1046.1,907.9 1046.6,908.8 1047,909.9 1047.5,910 1048,909.9 1048.4,909.7 1048.9,910.2 1049.4,908.4 1049.8,907.6 1050.3,909 1050.8,910.7 1051.3,910.5 1051.7,914.1 1052.2,909.1 1052.7,909.6 1053.1,912.3 1053.6,912.2 1054.1,911.6 1054.6,910.8 1055,910.9 1055.5,909.7 1056,909.3 1056.4,913.7 1056.9,910.4 1057.4,911.3 1057.8,910 1058.3,913.8 1058.8,914.1 1059.3,912.4 1059.7,911.7 1060.2,913.5 1060.7,913.1 1061.1,916.8 1061.6,913.2 1062.1,911.2 1062.5,913.3 1063,915.4 1063.5,912 1064,914 1064.4,914.4 1064.9,910 1065.4,912.8 1065.8,909.8 1066.3,910.7 1066.8,910.1 1067.2,911.4 1067.7,907.4 1068.2,907.9 1068.7,911.7 1069.1,911.4 1069.6,910.6 1070.1,910.8 1070.5,912.4 1071,910.7 1071.5,911.3 1072,909.3 1072.4,911.9 1072.9,910 1073.4,911.4 1073.8,910.3 1074.3,908.6 1074.8,911.5 1075.2,913.1 1075.7,911.2 1076.2,909 1076.7,906.4 1077.1,907.4 1077.6,910.9 1078.1,911.8 1078.5,910.2 1079,911 1079.5,912.8 1079.9,912 1080.4,913 1080.9,912 1081.4,908.6 1081.8,914.2 1082.3,912.3 1082.8,913.7 1083.2,911.6 1083.7,911.1 1084.2,910.9 1084.6,912.2 1085.1,910.8 1085.6,908.8 1086.1,911.5 1086.5,908.5 1087,912.3 1087.5,912.9 1087.9,911.8 1088.4,914.7 1088.9,912.7 1089.4,913.7 1089.8,914.3 1090.3,913.7 1090.8,914.4 1091.2,916.1 1091.7,913.9 1092.2,914.4 1092.6,911.9 1093.1,912.1 1093.6,913.4 1094.1,912 1094.5,912.2 1095,911.3 1095.5,908.8 1095.9,914.6 1096.4,912.4 1096.9,912.7 1097.3,912 1097.8,910.8 1098.3,908.5 1098.8,910.8 1099.2,914 1099.7,913.1 1100.2,908.6 1100.6,913.5 1101.1,912.9 1101.6,913.6 1102,912 1102.5,911.5 1103,913.7 1103.5,910.5 1103.9,913.4 1104.4,912.5 1104.9,910.4 1105.3,908.8 1105.8,911.1 1106.3,911.9 1106.8,910.7 1107.2,908.4 1107.7,909.5 1108.2,907.9 1108.6,911.7 1109.1,911.8 1109.6,911.5 1110,909.3 1110.5,909.9 1111,912.2 1111.5,912 1111.9,913 1112.4,910.8 1112.9,910.3 1113.3,910 1113.8,911 1114.3,910.7 1114.7,912.9 1115.2,913 1115.7,912.9 1116.2,911.9 1116.6,911.9 1117.1,911.7 1117.6,911 1118,912.7 1118.5,910.9 1119,909.6 1119.4,913.8 1119.9,912.7 1120.4,913.3 1120.9,913.4 1121.3,915.2 1121.8,913.5 1122.3,915.6 1122.7,911.6 1123.2,913.6 1123.7,914.1 1124.2,914.3 1124.6,916 1125.1,914.2 1125.6,913.6 1126,913.4 1126.5,912.6 1127,912.5 1127.4,908.9 1127.9,911.7 1128.4,912.4 1128.9,914.5 1129.3,911.2 1129.8,910.8 1130.3,913 1130.7,912.7 1131.2,912.6 1131.7,912.7 1132.1,912.2 1132.6,914 1133.1,913.1 1133.6,912.9 1134,912.5 1134.5,911.6 1135,912.8 1135.4,912.6 1135.9,910.6 1136.4,911.7 1136.8,912.8 1137.3,913.8 1137.8,910.8 1138.3,910.1 1138.7,914.1 1139.2,912.9 1139.7,914.7 1140.1,915.6 1140.6,911.6 1141.1,911.4 1141.6,913.4 1142,915.9 1142.5,916.9 1143,917 1143.4,913.4 1143.9,913.4 1144.4,916.1 1144.8,916.2 1145.3,913.1 1145.8,914.9 1146.3,914.6 1146.7,915.4 1147.2,911.4 1147.7,914.3 1148.1,914.5 1148.6,913.4 1149.1,912.7 1149.5,912 1150,912.3 1150.5,912.9 1151,914 1151.4,912.6 1151.9,910.6 1152.4,910.1 1152.8,910.4 1153.3,913.8 1153.8,915.7 1154.2,914 1154.7,912.1 1155.2,916.5 1155.7,912.1 1156.1,914 1156.6,912.2 1157.1,914.8 1157.5,913.5 1158,913.5 1158.5,910.4 1159,912.6 1159.4,914.1 1159.9,913.6 1160.4,913.1 1160.8,911.4 1161.3,914.6 1161.8,914.7 1162.2,913.1 1162.7,914.9 1163.2,917.1 1163.7,912.8 1164.1,913.6 1164.6,914.7 1165.1,916.8 1165.5,920.2 1166,916.3 1166.5,916.7 1166.9,918.3 1167.4,917.4 1167.9,915.1 1168.4,914.6 1168.8,913.1 1169.3,914 1169.8,915.8 1170.2,913.8 1170.7,916.8 1171.2,915.7 1171.6,915.8 1172.1,912.2 1172.6,913.9 1173.1,913 1173.5,911.7 1174,913.3 1174.5,911.6 1174.9,914.4 1175.4,913.1 1175.9,910.8 1176.4,913.1 1176.8,909.7 1177.3,911.2 1177.8,913.2 1178.2,912.7 1178.7,911.2 1179.2,913.1 1179.6,913.1 1180.1,917 1180.6,913.2 1181.1,915.5 1181.5,913.8 1182,914.2 1182.5,914.3 1182.9,913 1183.4,915 1183.9,914.1 1184.3,911.1 1184.8,913.8 1185.3,912 1185.8,912.3 1186.2,912.7 1186.7,912.9 1187.2,918.4 1187.6,912.9 1188.1,912.5 1188.6,913.6 1189.1,913 1189.5,913.3 1190,914.7 1190.5,911 1190.9,914 1191.4,913.7 1191.9,914.1 1192.3,912.3 1192.8,914 1193.3,913.2 1193.8,911.1 1194.2,912.4 1194.7,912.8 1195.2,913.8 1195.6,913.6 1196.1,915.3 1196.6,915.8 1197,914.4 1197.5,913.7 1198,914 1198.5,913.1 1198.9,914 1199.4,913.2 1199.9,914.2 1200.3,913.4 1200.8,915 1201.3,910.8 1201.7,912.1 1202.2,914 1202.7,914.4 1203.2,911.9 1203.6,912.6 1204.1,911.6 1204.6,915.2 1205,912.8 1205.5,914.7 1206,912.7 1206.5,911.1 1206.9,909 1207.4,913.7 1207.9,912.1 1208.3,912.5 1208.8,912.6 1209.3,911.1 1209.7,913.6 1210.2,911.5 1210.7,911.9 1211.2,913.3 1211.6,913.8 1212.1,911.6 1212.6,912.8 1213,911.9 1213.5,913.6 1214,912.2 1214.4,910.5 1214.9,910.9 1215.4,912 1215.9,912.9 1216.3,909.3 1216.8,910 1217.3,912.7 1217.7,913.2 1218.2,913.4 1218.7,911.2 1219.1,912.9 1219.6,912.1 1220.1,913.3 1220.6,910.7 1221,913.2 1221.5,913.3 1222,914.1 1222.4,918.1 1222.9,914.9 1223.4,913.7 1223.9,913.2 1224.3,915.4 1224.8,912.1 1225.3,914.1 1225.7,915.9 1226.2,912.3 1226.7,912.8 1227.1,911.5 1227.6,915.2 1228.1,909.3 1228.6,915.2 1229,912.7 1229.5,910.6 1230,911.8 1230.4,913.5 1230.9,914 1231.4,910.8 1231.8,912.1 1232.3,909.4 1232.8,913.6 1233.3,912.3 1233.7,909 1234.2,911.5 1234.7,914.2 1235.1,911.9 1235.6,910.6 1236.1,915.1 1236.5,913.7 1237,910.6 1237.5,915.4 1238,916 1238.4,913.4 1238.9,913.7 1239.4,913.8 1239.8,913.5 1240.3,914.8 1240.8,913.8 1241.3,915.1 1241.7,914.9 1242.2,916.2 1242.7,913.6 1243.1,914 1243.6,915.6 1244.1,913.4 1244.5,914.4 1245,914.8 1245.5,915.5 1246,911.5 1246.4,913.9 1246.9,914.5 1247.4,913.7 1247.8,914.4 1248.3,917.7 1248.8,913.8 1249.2,914.2 1249.7,912.8 1250.2,913.7 1250.7,912.3 1251.1,913.6 1251.6,914.1 1252.1,911.1 1252.5,913.4 1253,912.3 1253.5,913 1253.9,912.3 1254.4,913.4 1254.9,912.4 1255.4,913.3 1255.8,911 1256.3,914.2 1256.8,910.2 1257.2,911.7 1257.7,913.3 1258.2,910.9 1258.7,912.4 1259.1,912.6 1259.6,912.7 1260.1,912.3 1260.5,910.1 1261,911.5 1261.5,912.2 1261.9,914 1262.4,911.7 1262.9,911.1 1263.4,912.9 1263.8,910.5 1264.3,913.5 1264.8,914.3 1265.2,912.2 1265.7,911.1 1266.2,910.9 1266.6,916.2 1267.1,911.5 1267.6,913.7 1268.1,909.9 1268.5,912.9 1269,910.2 1269.5,910.8 1269.9,911.7 1270.4,913 1270.9,910.6 1271.3,912.4 1271.8,913 1272.3,913.9 1272.8,915.2 1273.2,913 1273.7,913.6 1274.2,915 1274.6,915.1 1275.1,915.4 1275.6,914 1276.1,913.4 1276.5,913.4 1277,911.5 1277.5,908.9 1277.9,910.9 1278.4,910.9 1278.9,910.5 1279.3,911.4 1279.8,911.2 1280.3,913.2 1280.8,915.3 1281.2,911.4 1281.7,915.6 1282.2,914.7 1282.6,913.4 1283.1,912.7 1283.6,909.5 1284,911.3 1284.5,911.4 1285,911.2 1285.5,913.7 1285.9,913 1286.4,909.8 1286.9,911.4 1287.3,911.9 1287.8,909.6 1288.3,911.1 1288.7,910.6 1289.2,910.5 1289.7,911.2 1290.2,911.2 1290.6,909.9 1291.1,908.8 1291.6,913.3 1292,909 1292.5,909.8 1293,905.7 1293.5,907.3 1293.9,907.4 1294.4,908.7 1294.9,911.7 1295.3,908.8 1295.8,909 1296.3,908.2 1296.7,910 1297.2,909.9 1297.7,906.7 1298.2,911.8 1298.6,907.5 1299.1,909.7 1299.6,910.8 1300,908.4 1300.5,909.3 1301,908.8 1301.4,909.2 1301.9,910.5 1302.4,910.3 1302.9,908.8 1303.3,908.9 1303.8,911.5 1304.3,913 1304.7,913 1305.2,911.8 1305.7,910.4 1306.1,911.7 1306.6,911.7 1307.1,912 1307.6,914.3 1308,912.4 1308.5,912.2 1309,910.8 1309.4,910.8 1309.9,913 1310.4,912.7 1310.9,911 1311.3,911.4 1311.8,909.8 1312.3,910.7 1312.7,910.7 1313.2,911 1313.7,912.3 1314.1,909.6 1314.6,912.1 1315.1,910.1 1315.6,912 1316,914.5 1316.5,911.7 1317,912.8 1317.4,913 1317.9,912.1 1318.4,913.2 1318.8,910.9 1319.3,909.7 1319.8,910.8 1320.3,910.9 1320.7,910.3 1321.2,911.5 1321.7,910.6 1322.1,911 1322.6,910.7 1323.1,913.2 1323.6,913 1324,909.7 1324.5,912 1325,911.1 1325.4,910.8 1325.9,909.7 1326.4,911.6 1326.8,911.1 1327.3,909.5 1327.8,909.4 1328.3,910.3 1328.7,911.4 1329.2,911.6 1329.7,908.9 1330.1,910 1330.6,909.8 1331.1,906.7 1331.5,909.7 1332,912.5 1332.5,911.8 1333,910.5 1333.4,912.5 1333.9,913.9 1334.4,912.9 1334.8,912.9 1335.3,913.3 1335.8,915.6 1336.2,912.9 1336.7,912.6 1337.2,914.4 1337.7,915.1 1338.1,914.6 1338.6,914 1339.1,912.6 1339.5,910 1340,913.3 1340.5,913 1341,914.7 1341.4,912.3 1341.9,911.2 1342.4,911.7 1342.8,913.2 1343.3,911.6 1343.8,912.8 1344.2,913 1344.7,913.2 1345.2,912.1 1345.7,911.8 1346.1,911.8 1346.6,912 1347.1,910.2 1347.5,914.3 1348,910.8 1348.5,914 1348.9,911.9 1349.4,911.8 1349.9,911.2 1350.4,913.6 1350.8,911.5 1351.3,911.1 1351.8,912 1352.2,913.2 1352.7,914.3 1353.2,912.1 1353.6,912.4 1354.1,913 1354.6,912.4 1355.1,914.9 1355.5,912.3 1356,914.3 1356.5,910.1 1356.9,914.6 1357.4,915 1357.9,914.4 1358.4,912.8 1358.8,912.1 1359.3,911 1359.8,911.9 1360.2,912.8 1360.7,910.9 1361.2,914.3 1361.6,913.4 1362.1,910.5 1362.6,910.3 1363.1,911.4 1363.5,912.3 1364,912 1364.5,913.4 1364.9,914 1365.4,913.2 1365.9,914 1366.3,913.6 1366.8,914.2 1367.3,916.3 1367.8,913.8 1368.2,913.3 1368.7,914.6 1369.2,910.4 1369.6,913.7 1370.1,911 1370.6,911.3 1371,913 1371.5,911 1372,911.6 1372.5,912.6 1372.9,912.1 1373.4,910.2 1373.9,910.2 1374.3,911.1 1374.8,912.9 1375.3,911.5 1375.8,911.5 1376.2,912.4 1376.7,912.1 1377.2,911.5 1377.6,911.2 1378.1,910.3 1378.6,905.7 1379,907.1 1379.5,910.6 1380,905.3 1380.5,907.6 1380.9,909.6 1381.4,909 1381.9,909.3 1382.3,909.5 1382.8,907.6 1383.3,909 1383.7,911.1 1384.2,909.2 1384.7,908.9 1385.2,907.2 1385.6,910.4 1386.1,909.5 1386.6,910.4 1387,910.2 1387.5,910.9 1388,912.2 1388.4,909.7 1388.9,909.5 1389.4,909.9 1389.9,907.7 1390.3,907.4 1390.8,910.3 1391.3,910 1391.7,912.4 1392.2,912.1 1392.7,910.9 1393.2,911.4 1393.6,910.8 1394.1,910 1394.6,912 1395,912.1 1395.5,911.6 1396,911.7 1396.4,910.7 1396.9,913.7 1397.4,910 1397.9,911.4 1398.3,909 1398.8,910.6 1399.3,910.6 1399.7,911.3 1400.2,910.1 1400.7,908.5 1401.1,912.3 1401.6,908.2 1402.1,911.5 1402.6,911.5 1403,912.3 1403.5,912.2 1404,912.4 1404.4,911.8 1404.9,911.6 1405.4,912.1 1405.8,915.9 1406.3,910.6 1406.8,909.6 1407.3,911.4 1407.7,910.8 1408.2,906.9 1408.7,910 1409.1,910.8 1409.6,909.5 1410.1,910.3 1410.6,909.8 1411,911.1 1411.5,910.2 1412,909.3 1412.4,912.8 1412.9,909.9 1413.4,911.9 1413.8,908.8 1414.3,908.8 1414.8,910.6 1415.3,910.7 1415.7,908.4 1416.2,909.5 1416.7,908.4 1417.1,910.4 1417.6,911.4 1418.1,912.8 1418.5,913.3 1419,910 1419.5,909.9 1420,909 1420.4,910.3 1420.9,910.4 1421.4,910.7 1421.8,910 1422.3,911.2 1422.8,913.3 1423.2,911.8 1423.7,910.7 1424.2,910.4 1424.7,911.6 1425.1,909 1425.6,911.2 1426.1,911.8 1426.5,912.7 1427,913.2 1427.5,913.2 1428,914.5 1428.4,914.7 1428.9,914.1 1429.4,914.6 1429.8,914 1430.3,913.5 1430.8,914.1 1431.2,911.9 1431.7,911.6 1432.2,912 1432.7,912.3 1433.1,912.5 1433.6,913.8 1434.1,909.5 1434.5,912.5 1435,911 1435.5,912.3 1435.9,911.9 1436.4,911.6 1436.9,913.1 1437.4,910.6 1437.8,909.1 1438.3,908.6 1438.8,910.5 1439.2,910.9 1439.7,909.7 1440.2,909.1 1440.7,913.6 1441.1,910.6 1441.6,910.6 1442.1,912.7 1442.5,916.3 1443,908.9 1443.5,912.5 1443.9,912.8 1444.4,910.4 1444.9,914.7 1445.4,913.2 1445.8,911.5 1446.3,910.6 1446.8,913.9 1447.2,914.7 1447.7,912.4 1448.2,913.2 1448.6,916.1 1449.1,912 1449.6,914 1450.1,912 1450.5,911.3 1451,913.2 1451.5,912.5 1451.9,913.5 1452.4,910.2 1452.9,912.8 1453.3,912.4 1453.8,911.7 1454.3,911 1454.8,911.9 1455.2,910.5 1455.7,912.5 1456.2,914 1456.6,915.1 1457.1,914.2 1457.6,913 1458.1,914.1 1458.5,914 1459,915.2 1459.5,915.1 1459.9,915.5 1460.4,914.2 1460.9,914.4 1461.3,911 1461.8,915.7 1462.3,912.9 1462.8,912.3 1463.2,912.2 1463.7,910.9 1464.2,911.4 1464.6,912.1 1465.1,912.2 1465.6,910.7 1466,914.3 1466.5,913.4 1467,914.1 1467.5,910 1467.9,914.7 1468.4,913.5 1468.9,913.5 1469.3,912.7 1469.8,911.4 1470.3,911.4 1470.7,911.2 1471.2,911.5 1471.7,910.7 1472.2,912.4 1472.6,911.5 1473.1,909.4 1473.6,908.4 1474,910.7 1474.5,914.4 1475,914.7 1475.5,912 1475.9,912.2 1476.4,912.4 1476.9,913.8 1477.3,914.4 1477.8,910.8 1478.3,913.8 1478.7,913.6 1479.2,914.5 1479.7,915.5 1480.2,914.6 1480.6,913.1 1481.1,911.1 1481.6,914.8 1482,914.4 1482.5,912.9 1483,912.4 1483.4,913 1483.9,912.6 1484.4,913.9 1484.9,911.4 1485.3,912.7 1485.8,914.3 1486.3,910 1486.7,914.4 1487.2,913.7 1487.7,913.1 1488.1,912 1488.6,912.3 1489.1,910.9 1489.6,911.9 1490,912.7 1490.5,912.1 1491,915.1 1491.4,915 1491.9,913.3 1492.4,913.3 1492.9,912.5 1493.3,913.7 1493.8,913.6 1494.3,911.7 1494.7,912 1495.2,912.2 1495.7,911.7 1496.1,911.1 1496.6,910 1497.1,910 1497.6,912.3 1498,909.5 1498.5,912.2 1499,909.5 1499.4,909 1499.9,910.7 1500.4,906.7 1500.8,909.2 1501.3,908.7 1501.8,909.9 1502.3,908.2 1502.7,908.4 1503.2,908.8 1503.7,907 1504.1,907.8 1504.6,912.2 1505.1,910.5 1505.5,910.7 1506,910 1506.5,911 1507,910 1507.4,906.3 1507.9,910.1 1508.4,908.8 1508.8,908.8 1509.3,908.8 1509.8,908.8 1510.3,910.8 1510.7,910.5 1511.2,910.8 1511.7,907.8 1512.1,908.7 1512.6,911.2 1513.1,910.2 1513.5,910 1514,910.5 1514.5,910.6 1515,912.2 1515.4,910.1 1515.9,911.5 1516.4,911.8 1516.8,909.4 1517.3,910.2 1517.8,909 1518.2,912.1 1518.7,909.4 1519.2,909 1519.7,909.9 1520.1,909.5 1520.6,910.8 1521.1,910.2 1521.5,908.4 1522,907.6 1522.5,909.4 1522.9,912.8 1523.4,911.4 1523.9,913.4 1524.4,910.4 1524.8,911.1 1525.3,912 1525.8,912.6 1526.2,914.3 1526.7,914.4 1527.2,913.4 1527.7,913.4 1528.1,915.6 1528.6,914 1529.1,912.5 1529.5,915.3 1530,913.7 1530.5,915.1 1530.9,915.2 1531.4,911 1531.9,910.7 1532.4,915.1 1532.8,913.1 1533.3,909.4 1533.8,913.7 1534.2,913.3 1534.7,913.5 1535.2,913.6 1535.6,914.6 1536.1,910.9 1536.6,911.5 1537.1,912.8 1537.5,915.5 1538,915.4 1538.5,912 1538.9,914.3 1539.4,912.4 1539.9,913.7 1540.3,914.3 1540.8,913.5 1541.3,913.7 1541.8,910.3 1542.2,914.9 1542.7,913 1543.2,910.8 1543.6,912.9 1544.1,912.8 1544.6,911.5 1545.1,912 1545.5,912.9 1546,914.8 1546.5,913.3 1546.9,913.9 1547.4,912.6 1547.9,911.7 1548.3,914.6 1548.8,910.8 1549.3,910.9 1549.8,912.9 1550.2,915.6 1550.7,914.1 1551.2,916 1551.6,916.6 1552.1,914.4 1552.6,914.5 1553,916.9 1553.5,914.7 1554,913.9 1554.5,915.7 1554.9,914.1 1555.4,915.4 1555.9,914 1556.3,910.1 1556.8,912.6 1557.3,912.9 1557.7,912.1 1558.2,913 1558.7,912.1 1559.2,912.7 1559.6,913.8 1560.1,912 1560.6,914.3 1561,913.6 1561.5,911.8 1562,911.4 1562.5,911.9 1562.9,913.4 1563.4,913.5 1563.9,913.4 1564.3,910.6 1564.8,914.8 1565.3,909.9 1565.7,911.3 1566.2,913.7 1566.7,915.7 1567.2,914.6 1567.6,910.7 1568.1,910.4 1568.6,912.3 1569,911 1569.5,911.5 1570,908.8 1570.4,910.8 1570.9,909.6 1571.4,909.6 1571.9,909.3 1572.3,909.9 1572.8,909.3 1573.3,907.8 1573.7,909.6 1574.2,910.9 1574.7,913 1575.2,911.9 1575.6,911.5 1576.1,910.6 1576.6,912.2 1577,910.6 1577.5,911.6 1578,910.2 1578.4,911.2 1578.9,916.3 1579.4,914.7 1579.9,910.8 1580.3,911.8 1580.8,913 1581.3,914.2 1581.7,915.9 1582.2,911.5 1582.7,914.3 1583.1,913.5 1583.6,912.5 1584.1,913.8 1584.6,911.2 1585,913.6 1585.5,913.7 1586,910.4 1586.4,912.2 1586.9,912.4 1587.4,913.2 1587.8,913.8 1588.3,912 1588.8,913.2 1589.3,916.7 1589.7,912.3 1590.2,913.6 1590.7,914.1 1591.1,913.3 1591.6,915.3 1592.1,912.8 1592.6,915.2 1593,914 1593.5,917 1594,915.2 1594.4,916.7 1594.9,917.1 1595.4,914.9 1595.8,916.2 1596.3,915.6 1596.8,915 1597.3,915.4 1597.7,915.4 1598.2,915.4 1598.7,915.4 1599.1,915.2 1599.6,915.8 1600.1,917.4 1600.5,916 1601,916.6 1601.5,916.5 1602,913.9 1602.4,914.3 1602.9,915.2 1603.4,918.2 1603.8,917.3 1604.3,915 1604.8,912.4 1605.2,913.8 1605.7,915.6 1606.2,914.7 1606.7,913.7 1607.1,912.7 1607.6,916.3 1608.1,912.3 1608.5,914.4 1609,914.4 1609.5,914 1610,913.5 1610.4,913.6 1610.9,913.6 1611.4,914 1611.8,914.7 1612.3,911.8 1612.8,916 1613.2,914.5 1613.7,913.9 1614.2,913.3 1614.7,912.4 1615.1,913.6 1615.6,913.2 1616.1,913.2 1616.5,910.3 1617,911.7 1617.5,909.2 1617.9,910.7 1618.4,911.1 1618.9,912.2 1619.4,910.3 1619.8,911.4 1620.3,907.9 1620.8,910.6 1621.2,909.5 1621.7,911 1622.2,909.8 1622.6,908.8 1623.1,907.2 1623.6,906.3 1624.1,905.3 1624.5,907.2 1625,907 1625.5,905.4 1625.9,907.1 1626.4,905.1 1626.9,906.8 1627.4,906.9 1627.8,906.9 1628.3,905.7 1628.8,905.4 1629.2,907.3 1629.7,904.3 1630.2,905.6 1630.6,904.9 1631.1,906 1631.6,908.6 1632.1,906.6 1632.5,905.1 1633,905.2 1633.5,904.2 1633.9,905.9 1634.4,906 1634.9,906.2 1635.3,905.4 1635.8,904.6 1636.3,905.2 1636.8,904.3 1637.2,903.7 1637.7,904.9 1638.2,903.7 1638.6,902.5 1639.1,902.3 1639.6,903.4 1640,903 1640.5,904.5 1641,903.7 1641.5,904.6 1641.9,903.2 1642.4,905.8 1642.9,903.8 1643.3,904.1 1643.8,904.5 1644.3,904.3 1644.8,903.4 1645.2,905.5 1645.7,903.1 1646.2,904.8 1646.6,905.6 1647.1,905.1 1647.6,904.8 1648,904.8 1648.5,904.8 1649,904.8 1649.5,904.6 1649.9,905.6 1650.4,904.1 1650.9,904.8 1651.3,905.1 1651.8,904.7 1652.3,904.4 1652.7,906.2 1653.2,905.2 1653.7,904.9 1654.2,905.2 1654.6,904.6 1655.1,904.5 1655.6,904.8 1656,905 1656.5,904.5 1657,905.7 1657.4,905.1 1657.9,905.2 1658.4,905.8 1658.9,905.7 1659.3,905.4 1659.8,906.4 1660.3,905.2 1660.7,905.3 1661.2,905.5 1661.7,904.8 1662.2,905.6 1662.6,905.5 1663.1,906 1663.6,905.3 1664,905.1 1664.5,905.4 1665,905.4 1665.4,905.5 1665.9,906.6 1666.4,904.7 1666.9,905.8 1667.3,905.6 1667.8,905.4 1668.3,905.5 1668.7,905.7 1669.2,906.1 1669.7,905.7 1670.1,905.3 1670.6,905.3 1671.1,905.5 1671.6,906.1 1672,905 1672.5,905.4 1673,905.3 1673.4,905.4 1673.9,905.1 1674.4,905.8 1674.8,905.3 1675.3,905.1 1675.8,905.5 1676.3,906.1 1676.7,905.8 1677.2,906.7 1677.7,906.6 1678.1,906.9 1678.6,907.2 1679.1,908.4 1679.6,907.8 1680,908.5 1680.5,909 1681,909.7 1681.4,909.4 1681.9,910.7 1682.4,909.6 1682.8,910.7 1683.3,911 1683.8,912 1684.3,912.5 1684.7,912.9 1685.2,913.6 1685.7,914 1686.1,914.8 1686.6,915.4 1687.1,916 1687.5,917.6 1688,918.3 1688.5,918.6 1689,919.9 1689.4,920 1689.9,921.1 1690.4,921.5 1690.8,922.8 1691.3,923.3 1691.8,924.3 1692.2,924.9 1692.7,926.2 1693.2,927 1693.7,928 1694.1,928.6 1694.6,929.3 1695.1,930.6 1695.5,930.8 1696,931.2 1696.5,931.6 1697,932.5 1697.4,933.3 1697.9,933.3 1698.4,933.8 1698.8,934.2 1699.3,934.2 1699.8,935.3 1700.2,935.4 1700.7,935.2 1701.2,935.2 1701.7,934.9 1702.1,934.8 1702.6,934.9 1703.1,933.7 1703.5,933.8 1704,933.2 1704.5,933.6 1704.9,933 1705.4,932.4 1705.9,932 1706.4,930.4 1706.8,930.4 1707.3,929.3 1707.8,928.6 1708.2,928 1708.7,927.3 1709.2,926.3 1709.7,925.5 1710.1,924.6 1710.6,922.9 1711.1,922.3 1711.5,921.2 1712,920.1 1712.5,918.4 1712.9,917.6 1713.4,916.5 1713.9,915.1 1714.4,913.7 1714.8,912.1 1715.3,911.3 1715.8,909.4 1716.2,908.8 1716.7,907.3 1717.2,905.7 1717.6,904.1 1718.1,902.7 1718.6,900.3 1719.1,899.2 1719.5,896.5 1720,895 1720.5,893.2 1720.9,890.8 1721.4,888.5 1721.9,886.4 1722.3,884 1722.8,882.4 1723.3,880.1 1723.8,877.7 1724.2,875.9 1724.7,873.7 1725.2,871.7 1725.6,869 1726.1,867.6 1726.6,865.5 1727.1,862.7 1727.5,860.5 1728,859.4 1728.5,858 1728.9,855.4 1729.4,854.2 1729.9,853.2 1730.3,851.9 1730.8,850.9 1731.3,849.6 1731.8,848.4 1732.2,847.3 1732.7,845 1733.2,844.5 1733.6,843.3 1734.1,842.9 1734.6,842.5 1735,842.1 1735.5,841.6 1736,841.2 1736.5,840.3 1736.9,839.7 1737.4,840.3 1737.9,839.8 1738.3,840 1738.8,840.2 1739.3,840 1739.7,840.9 1740.2,841.8 1740.7,842.9 1741.2,843.9 1741.6,845.7 1742.1,847.3 1742.6,849 1743,850 1743.5,852.5 1744,854.5 1744.5,857.9 1744.9,859.8 1745.4,863 1745.9,866 1746.3,869.1 1746.8,872.2 1747.3,876.2 1747.7,878.8 1748.2,881.8 1748.7,885 1749.2,887.8 1749.6,890.8 1750.1,893.6 1750.6,896.2 1751,899.7 1751.5,902.6 1752,905.3 1752.4,908.7 1752.9,912.1 1753.4,914.4 1753.9,917.7 1754.3,921 1754.8,924.4 1755.3,927 1755.7,930.7 1756.2,932.6 1756.7,935.5 1757.1,938.9 1757.6,941.5 1758.1,944 1758.6,946.3 1759,949.2 1759.5,951.8 1760,954.4 1760.4,957.1 1760.9,959.2 1761.4,962 1761.9,965.9 1762.3,968.4 1762.8,970.9 1763.3,973.3 1763.7,975.4 1764.2,977.8 1764.7,980.8 1765.1,982.3 1765.6,984.7 1766.1,986.2 1766.6,988.8 1767,990.9 1767.5,993 1768,994.7 1768.4,996.1 1768.9,996.9 1769.4,998.1 1769.8,998.5 1770.3,998.9 1770.8,999 1771.3,999.2 1771.7,999.7 1772.2,999.3 1772.7,999.2 1773.1,999 1773.6,999.2 1774.1,999.1 1774.5,997.8 1775,996.1 1775.5,994.5 1776,992.9 1776.4,990.5 1776.9,988.1 1777.4,985.8 1777.8,983.8 1778.3,981.4 1778.8,978.5 1779.3,976.4 1779.7,973.9 1780.2,970.7 1780.7,967.6 1781.1,964.9 1781.6,962.4 1782.1,958.9 1782.5,956.1 1783,952.8 1783.5,949.8 1784,946.4 1784.4,943.4 1784.9,940.8 1785.4,938.4 1785.8,935.9 1786.3,933.3 1786.8,930.2 1787.2,928.5 1787.7,926.4 1788.2,923.9 1788.7,921 1789.1,919.4 1789.6,917.4 1790.1,915.7 1790.5,913.8 1791,912.1 1791.5,909.9 1791.9,908.6 1792.4,907.4 1792.9,905.6 1793.4,904.2 1793.8,903 1794.3,902.2 1794.8,900.4 1795.2,899.2 1795.7,898 1796.2,897.7 1796.7,895.8 1797.1,895.5 1797.6,893.7 1798.1,894 1798.5,893.4 1799,893.1 1799.5,892.6 1799.9,891.7 1800.4,891.5 1800.9,890.9 1801.4,889.5 1801.8,889.2 1802.3,888.7 1802.8,888.2 1803.2,887.3 1803.7,886.9 1804.2,885.4 1804.6,884.6 1805.1,883.1 1805.6,881.3 1806.1,879.9 1806.5,876.9 1807,874.6 1807.5,871.4 1807.9,867.7 1808.4,863.6 1808.9,857.8 1809.3,851.6 1809.8,845.1 1810.3,836.8 1810.8,827 1811.2,814.8 1811.7,796.6 1812.2,778.3 1812.6,758.2 1813.1,737.3 1813.6,713.6 1814.1,688.6 1814.5,657.2 1815,619.9 1815.5,580.6 1815.9,539.9 1816.4,500.3 1816.9,457.5 1817.3,415.2 1817.8,371.8 1818.3,326.2 1818.8,278.2 1819.2,221.7 1819.7,180.4 1820.2,149.8 1820.6,123 1821.1,104.9 1821.6,93.3 1822,99.7 1822.5,120.7 1823,156.8 1823.5,200.1 1823.9,248.1 1824.4,316.5 1824.9,396.6 1825.3,483.8 1825.8,571.9 1826.3,656.2 1826.7,748.6 1827.2,846.8 1827.7,944.7 1828.2,1027.7 1828.6,1096.1 1829.1,1153.4 1829.6,1198.2 1830,1219.6 1830.5,1230.7 1831,1236.1 1831.5,1238.5 1831.9,1239.6 1832.4,1239.9 1832.9,1240 1833.3,1240 1833.8,1240 1834.3,1240 1834.7,1240 1835.2,1240 1835.7,1240 1836.2,1240 1836.6,1240 1837.1,1240 1837.6,1240 1838,1240 1838.5,1240 1839,1240 1839.4,1240 1839.9,1240 1840.4,1240 1840.9,1240 1841.3,1240 1841.8,1240 1842.3,1240 1842.7,1240 1843.2,1240 1843.7,1240 1844.2,1240 1844.6,1240 1845.1,1240 1845.6,1240 1846,1240 1846.5,1240 1847,1240 1847.4,1239.5 1847.9,1239.5 1848.4,1239.5 1848.9,1239.5 1849.3,1239.5 1849.8,1239.5 1850.3,1239.5 1850.7,1239.5 1851.2,1239.5 1851.7,1239.5 1852.1,1239.5 1852.6,1239.5 1853.1,1239.5 1853.6,1239.5 1854,1239.5 1854.5,1239.5 1855,1239.5 1855.4,1239.5 1855.9,1239.5 1856.4,1239.5 1856.8,1239.5 1857.3,1239.5 1857.8,1239.5 1858.3,1239.5 1858.7,1239.5 1859.2,1239.5 1859.7,1239.5 1860.1,1239.5 1860.6,1239.5 1861.1,1239.5 1861.6,1239.5 1862,1239.5 1862.5,1239.5 1863,1239.5 1863.4,1239.5 1863.9,1239.5 1864.4,1239.5 1864.8,1239.5 1865.3,1239.5 1865.8,1239.5 1866.3,1239.5 1866.7,1239.5 1867.2,1239.5 1867.7,1239.5 1868.1,1239.5 1868.6,1239.5 1869.1,1239.5 1869.5,1239.5 1870,1239.5 1870.5,1239.5 1871,1239.5 1871.4,1239.5 1871.9,1239.5 1872.4,1239.5 1872.8,1239.5 1873.3,1239.5 1873.8,1239.5 1874.2,1239.5 1874.7,1239.5 1875.2,1239.5 1875.7,1239.5 1876.1,1239.5 1876.6,1239.5 1877.1,1239.5 1877.5,1239.5 1878,1239.5 1878.5,1239.5 1879,1239.5 1879.4,1239.5 1879.9,1239.5 1880.4,1239.5 1880.8,1239.5 1881.3,1239.5 1881.8,1239.5 1882.2,1239.5 1882.7,1239.5 1883.2,1239.5 1883.7,1239.5 1884.1,1239.5 1884.6,1239.5 1885.1,1239.5 1885.5,1239.5 1886,1239.5 1886.5,1239.5 1886.9,1239.5 1887.4,1239.5 1887.9,1239.5 1888.4,1239.5 1888.8,1239.5 1889.3,1239.5 1889.8,1239.5 1890.2,1239.5 1890.7,1239.5 1891.2,1239.5 1891.6,1239.5 1892.1,1239.5 1892.6,1239.5 1893.1,1239.5 1893.5,1239.5 1894,1239.5 1894.5,1239.5 1894.9,1239.5 1895.4,1239.5 1895.9,1239.5 1896.4,1239.5 1896.8,1239.5 1897.3,1239.5 1897.8,1239.5 1898.2,1239.5 1898.7,1239.5 1899.2,1239.5 1899.6,1239.5 1900.1,1239.5 1900.6,1239.5 1901.1,1239.5 1901.5,1239.5 1902,1239.5 1902.5,1239.5 1902.9,1239.5 1903.4,1239.5 1903.9,1239.5 1904.3,1239.5 1904.8,1239.5 1905.3,1239.5 1905.8,1239.5 1906.2,1239.5 1906.7,1239.5 1907.2,1239.5 1907.6,1239.5 1908.1,1239.5 1908.6,1239.5 1909,1239.5 1909.5,1239.5 1910,1239.5 1910.5,1239.5 1910.9,1239.5 1911.4,1239.5 1911.9,1239.5 1912.3,1239.5 1912.8,1239.5 1913.3,1239.5 1913.8,1239.5 1914.2,1239.5 1914.7,1239.5 1915.2,1239.5 1915.6,1239.5 1916.1,1239.5 1916.6,1239.5 1917,1239.5 1917.5,1239.5" fill="none" stroke="#d62728" stroke-width="5" stroke-linejoin="round" />
</g>
<line x1="248.02" y1="1297.5" x2="248.02" y2="1277.9" stroke="#000" stroke-width="5.5"/>
<line x1="365.59" y1="1297.5" x2="365.59" y2="1282.5" stroke="#000" stroke-width="5.5"/>
<line x1="483.16" y1="1297.5" x2="483.16" y2="1277.9" stroke="#000" stroke-width="5.5"/>
<line x1="600.73" y1="1297.5" x2="600.73" y2="1282.5" stroke="#000" stroke-width="5.5"/>
<line x1="718.3" y1="1297.5" x2="718.3" y2="1277.9" stroke="#000" stroke-width="5.5"/>
<line x1="835.87" y1="1297.5" x2="835.87" y2="1282.5" stroke="#000" stroke-width="5.5"/>
<line x1="953.44" y1="1297.5" x2="953.44" y2="1277.9" stroke="#000" stroke-width="5.5"/>
<line x1="1071.01" y1="1297.5" x2="1071.01" y2="1282.5" stroke="#000" stroke-width="5.5"/>
<line x1="1188.58" y1="1297.5" x2="1188.58" y2="1277.9" stroke="#000" stroke-width="5.5"/>
<line x1="1306.15" y1="1297.5" x2="1306.15" y2="1282.5" stroke="#000" stroke-width="5.5"/>
<line x1="1423.72" y1="1297.5" x2="1423.72" y2="1277.9" stroke="#000" stroke-width="5.5"/>
<line x1="1541.29" y1="1297.5" x2="1541.29" y2="1282.5" stroke="#000" stroke-width="5.5"/>
<line x1="1658.86" y1="1297.5" x2="1658.86" y2="1277.9" stroke="#000" stroke-width="5.5"/>
<line x1="1776.43" y1="1297.5" x2="1776.43" y2="1282.5" stroke="#000" stroke-width="5.5"/>
<line x1="1894" y1="1297.5" x2="1894" y2="1277.9" stroke="#000" stroke-width="5.5"/>
<line x1="222.5" y1="1240" x2="242.1" y2="1240" stroke="#000" stroke-width="5.5"/>
<line x1="222.5" y1="1071.93" x2="242.1" y2="1071.93" stroke="#000" stroke-width="5.5"/>
<line x1="222.5" y1="903.86" x2="242.1" y2="903.86" stroke="#000" stroke-width="5.5"/>
<line x1="222.5" y1="735.79" x2="242.1" y2="735.79" stroke="#000" stroke-width="5.5"/>
<line x1="222.5" y1="567.72" x2="242.1" y2="567.72" stroke="#000" stroke-width="5.5"/>
<line x1="222.5" y1="399.65" x2="242.1" y2="399.65" stroke="#000" stroke-width="5.5"/>
<line x1="222.5" y1="231.58" x2="242.1" y2="231.58" stroke="#000" stroke-width="5.5"/>
<line x1="222.5" y1="63.51" x2="242.1" y2="63.51" stroke="#000" stroke-width="5.5"/>
<line x1="222.1" y1="1240" x2="1917.5" y2="1240" stroke="#bfbfbf" stroke-width="3.7" stroke-dasharray="10.8 8.174"/>
<line x1="222.1" y1="903.86" x2="1917.5" y2="903.86" stroke="#bfbfbf" stroke-width="3" stroke-dasharray="10.8 8.174"/>
<rect x="222.5" y="34.5" width="1695" height="1263" fill="none" stroke="#000" stroke-width="6.67"/>
<g font-size="56.8" class="b">
<text x="248.02" y="1356.8" text-anchor="middle">−70</text>
<text x="483.16" y="1356.8" text-anchor="middle">−60</text>
<text x="718.3" y="1356.8" text-anchor="middle">−50</text>
<text x="953.44" y="1356.8" text-anchor="middle">−40</text>
<text x="1188.58" y="1356.8" text-anchor="middle">−30</text>
<text x="1423.72" y="1356.8" text-anchor="middle">−20</text>
<text x="1658.86" y="1356.8" text-anchor="middle">−10</text>
<text x="1894" y="1356.8" text-anchor="middle">0</text>
<text x="114.9 151.75 170.5" y="1260.9">0.0</text>
<text x="114.9 151.75 170.5" y="1092.83">0.5</text>
<text x="114.9 151.75 170.5" y="924.76">1.0</text>
<text x="114.9 151.75 170.5" y="756.69">1.5</text>
<text x="114.9 151.75 170.5" y="588.62">2.0</text>
<text x="114.9 151.75 170.5" y="420.55">2.5</text>
<text x="114.9 151.75 170.5" y="252.48">3.0</text>
<text x="114.9 151.75 170.5" y="84.41">3.5</text>
</g>
<text x="991.7 1026 1047.9 1073.8 1119.1" y="1445" font-size="66.4" class="b">z (Å)</text>
<text transform="translate(81,749.5) rotate(-90)" font-size="66" class="b"><tspan x="-4.14" y="0">ρ</tspan><tspan x="47.4" y="-26.1" font-size="46.4">*</tspan><tspan x="81.45" y="0">(</tspan><tspan x="107.85" y="0">z</tspan><tspan x="142.9" y="0">)</tspan></text>
</g>
<g id="legend">
<rect x="280.05" y="930" width="394" height="293.05" rx="7" ry="7" fill="#fff" fill-opacity="0.8" stroke="#d4d4d4" stroke-width="5.7"/>
<line x1="297" y1="968.5" x2="397" y2="968.5" stroke="#1f77b4" stroke-width="5"/>
<text x="431.8" y="985.4" font-size="47.6">UQ@H2O</text>
<line x1="297" y1="1038.1" x2="397" y2="1038.1" stroke="#ff7f0e" stroke-width="5"/>
<text x="431.8" y="1055" font-size="47.6">LQ@H2O</text>
<line x1="297" y1="1107.7" x2="397" y2="1107.7" stroke="#2ca02c" stroke-width="5"/>
<text x="431.8" y="1124.6" font-size="47.6">UQ@01M</text>
<line x1="297" y1="1177.3" x2="397" y2="1177.3" stroke="#d62728" stroke-width="5"/>
<text x="431.8" y="1194.2" font-size="47.6">UQ@05M</text>
</g>
<g id="inset">
<rect x="283.5" y="83.5" width="966" height="694.5" fill="#fff"/>
<g clip-path="url(#ci)">
<polyline points="332.5,562.5 333.8,562.9 335.1,562.7 336.4,563.2 337.7,562.8 339,562.5 340.3,562.9 341.6,563.2 343,562.7 344.3,562.6 345.6,562.7 346.9,563.1 348.2,563.1 349.5,563.2 350.8,563.2 352.1,563.7 353.4,562.9 354.7,563.1 356,563.4 357.3,562.8 358.7,563.3 360,562.7 361.3,562.6 362.6,562.5 363.9,563.1 365.2,562.8 366.5,562.7 367.8,563 369.1,562.6 370.4,562.9 371.7,562.5 373,562.7 374.3,562.5 375.7,562.6 377,562.9 378.3,562.8 379.6,562.9 380.9,563 382.2,563 383.5,563.2 384.8,563.2 386.1,563.6 387.4,563.2 388.7,563.3 390,563.5 391.4,563.4 392.7,563.6 394,563.5 395.3,563.1 396.6,563.1 397.9,563.3 399.2,563.7 400.5,563.4 401.8,563 403.1,563 404.4,563 405.7,563.2 407,562.9 408.4,562.7 409.7,562.6 411,562.7 412.3,562.6 413.6,562.5 414.9,562.6 416.2,562.6 417.5,562.3 418.8,562.4 420.1,562.6 421.4,562.1 422.7,561.9 424.1,562.1 425.4,562.1 426.7,561.9 428,561.8 429.3,561.8 430.6,561.5 431.9,561.6 433.2,561.3 434.5,561.4 435.8,561.1 437.1,561 438.4,561.1 439.7,560.7 441.1,560.5 442.4,560.4 443.7,560.4 445,560.4 446.3,560.6 447.6,560.1 448.9,560.3 450.2,560.5 451.5,560.4 452.8,560.2 454.1,560.1 455.4,560.1 456.8,559.9 458.1,560.3 459.4,560 460.7,560.1 462,559.8 463.3,559.2 464.6,559.1 465.9,558.7 467.2,558.6 468.5,558.4 469.8,558.3 471.1,558.3 472.4,558.1 473.8,558 475.1,557.9 476.4,557.7 477.7,557.3 479,557.4 480.3,557.4 481.6,557.3 482.9,557.1 484.2,556.8 485.5,556.9 486.8,556.8 488.1,556.5 489.5,556.6 490.8,556.7 492.1,556.7 493.4,556.7 494.7,556.8 496,556.7 497.3,556.5 498.6,556.8 499.9,556.9 501.2,556.7 502.5,556.7 503.8,556.9 505.1,556.9 506.5,556.8 507.8,556.7 509.1,557 510.4,556.8 511.7,556.9 513,557 514.3,557.2 515.6,557.3 516.9,557.2 518.2,557.3 519.5,557.2 520.8,557.3 522.2,557.2 523.5,557.4 524.8,557.3 526.1,557.4 527.4,557.4 528.7,557.6 530,557.5 531.3,557.6 532.6,557.5 533.9,557.4 535.2,557.5 536.5,557.6 537.8,557.6 539.2,557.3 540.5,557.3 541.8,557.5 543.1,557.5 544.4,557.5 545.7,557.3 547,557.3 548.3,557.4 549.6,557.3 550.9,557.3 552.2,557.3 553.5,557.5 554.9,557.7 556.2,557.9 557.5,558.1 558.8,558.1 560.1,558.3 561.4,558.4 562.7,558.6 564,558.8 565.3,558.9 566.6,559.1 567.9,559.1 569.2,559.4 570.5,559.6 571.9,559.7 573.2,559.9 574.5,560.1 575.8,560.2 577.1,560.6 578.4,561 579.7,561.3 581,561.7 582.3,562.2 583.6,562.6 584.9,563.1 586.2,563.9 587.6,564.7 588.9,565.5 590.2,566.3 591.5,567 592.8,567.7 594.1,568 595.4,568.4 596.7,568.8 598,569.2 599.3,569.7 600.6,570 601.9,570.4 603.2,570.7 604.6,571.1 605.9,571.4 607.2,571.7 608.5,572.2 609.8,572.6 611.1,573.1 612.4,573.4 613.7,573.9 615,574.3 616.3,574.8 617.6,575.2 618.9,575.6 620.3,576 621.6,576.5 622.9,577.2 624.2,577.5 625.5,578 626.8,578.2 628.1,578.6 629.4,578.7 630.7,579 632,579.3 633.3,579.5 634.6,579.5 635.9,579.7 637.3,579.6 638.6,579.8 639.9,579.8 641.2,579.7 642.5,579.5 643.8,579.4 645.1,579.1 646.4,578.9 647.7,578.5 649,578.1 650.3,577.7 651.6,577.1 653,576.7 654.3,576.4 655.6,576.1 656.9,575.8 658.2,575.2 659.5,574.8 660.8,574.1 662.1,573.6 663.4,572.7 664.7,572.2 666,571.7 667.3,571.2 668.6,570.4 670,569.8 671.3,569.3 672.6,568.7 673.9,568 675.2,567.4 676.5,566.7 677.8,565.9 679.1,565.1 680.4,564.5 681.7,563.6 683,563 684.3,562.3 685.7,561.5 687,560.7 688.3,559.9 689.6,559 690.9,558.2 692.2,557.2 693.5,556.4 694.8,555.3 696.1,554.2 697.4,553.2 698.7,552.2 700,551.1 701.3,549.9 702.7,548.7 704,547.6 705.3,546.3 706.6,545.3 707.9,544 709.2,542.6 710.5,541.3 711.8,540 713.1,538.6 714.4,537.3 715.7,536.5 717,535.4 718.4,534.3 719.7,533.3 721,532.3 722.3,531.5 723.6,530.7 724.9,530 726.2,529.3 727.5,528.7 728.8,528.1 730.1,527.5 731.4,526.9 732.7,526.4 734,525.7 735.4,525.3 736.7,524.8 738,524.4 739.3,524.1 740.6,524.2 741.9,524.2 743.2,524.2 744.5,524.3 745.8,524.4 747.1,524.8 748.4,525 749.7,525.6 751.1,526.1 752.4,526.7 753.7,527.3 755,528.1 756.3,528.7 757.6,529.4 758.9,530.1 760.2,530.9 761.5,532 762.8,533.1 764.1,534.2 765.4,535.5 766.7,536.9 768.1,538.4 769.4,540.1 770.7,541.7 772,543.4 773.3,545.2 774.6,546.9 775.9,548.5 777.2,550.4 778.5,552 779.8,553.7 781.1,555.4 782.4,557.1 783.8,558.8 785.1,560.5 786.4,562.1 787.7,563.6 789,565.4 790.3,567.2 791.6,568.9 792.9,570.6 794.2,572.5 795.5,574.1 796.8,575.8 798.1,577.4 799.4,579 800.8,580.5 802.1,582.1 803.4,583.7 804.7,585.1 806,586.6 807.3,588 808.6,589.5 809.9,590.8 811.2,592.4 812.5,593.7 813.8,595.1 815.1,596.5 816.5,598 817.8,599.6 819.1,600.9 820.4,602.3 821.7,603.7 823,605 824.3,606.3 825.6,607.5 826.9,608.7 828.2,609.8 829.5,610.9 830.8,611.9 832.1,612.9 833.5,613.8 834.8,614.8 836.1,615.4 837.4,615.8 838.7,616.2 840,616.3 841.3,616.5 842.6,616.7 843.9,616.8 845.2,616.6 846.5,616.3 847.8,615.7 849.2,615.2 850.5,614.6 851.8,613.9 853.1,612.6 854.4,611.3 855.7,609.8 857,608.2 858.3,606.7 859.6,605.2 860.9,603.6 862.2,602.3 863.5,600.7 864.8,599.3 866.2,597.7 867.5,596.1 868.8,594.5 870.1,592.8 871.4,591 872.7,589.2 874,587.4 875.3,585.4 876.6,583.4 877.9,581.6 879.2,579.9 880.5,578.4 881.9,576.8 883.2,575.3 884.5,573.9 885.8,572.4 887.1,571.1 888.4,569.7 889.7,568.4 891,567.1 892.3,566 893.6,564.7 894.9,563.4 896.2,562.1 897.5,560.7 898.9,559.3 900.2,557.9 901.5,556.5 902.8,555.2 904.1,554 905.4,552.7 906.7,551.5 908,550.2 909.3,549 910.6,547.9 911.9,546.8 913.2,545.9 914.6,544.7 915.9,543.9 917.2,543.1 918.5,542.3 919.8,541.3 921.1,540.4 922.4,539.5 923.7,538.5 925,537.5 926.3,536.8 927.6,536 928.9,535.5 930.2,534.8 931.6,534.2 932.9,533.7 934.2,533.2 935.5,532.4 936.8,531.5 938.1,530.2 939.4,528.7 940.7,526.7 942,524.4 943.3,521.5 944.6,518.5 945.9,514.8 947.3,510.9 948.6,506 949.9,500.2 951.2,493.4 952.5,485.7 953.8,477.4 955.1,468.6 956.4,459 957.7,449.3 959,439.8 960.3,429.8 961.6,417.6 962.9,404.7 964.3,394.3 965.6,386.1 966.9,378.1 968.2,368.3 969.5,354 970.8,331.6 972.1,305.6 973.4,281 974.7,259.4 976,238.6 977.3,217.7 978.6,195.7 980,178.4 981.3,166.7 982.6,159.6 983.9,165.3 985.2,179.2 986.5,191.7 987.8,208.9 989.1,245.8 990.4,288 991.7,332.1 993,377.5 994.3,423.5 995.6,469.9 997,520.9 998.3,575.5 999.6,622.8 1000.9,661.9 1002.2,694 1003.5,720.4 1004.8,733.8 1006.1,740.7 1007.4,744 1008.7,745.5 1010,746.2 1011.3,746.4 1012.7,746.5 1014,746.5 1015.3,746.5 1016.6,746.5 1017.9,746.5 1019.2,746.5 1020.5,746.5 1021.8,746.5 1023.1,746.5 1024.4,746.5 1025.7,746.5 1027,746.5 1028.3,746.5 1029.7,746.5 1031,746.5 1032.3,746.5 1033.6,746.5 1034.9,746.5 1036.2,746.5 1037.5,746.5 1038.8,746.5 1040.1,746.5 1041.4,746.5 1042.7,746.5 1044,746.5 1045.4,746.5 1046.7,746.5 1048,746.5 1049.3,746.5 1050.6,746.5 1051.9,746.5 1053.2,746.5 1054.5,746.5 1055.8,746.5 1057.1,746.5 1058.4,746.5 1059.7,746.5 1061,746.5 1062.4,746.5 1063.7,746.5 1065,746.5 1066.3,746.5 1067.6,746.5 1068.9,746.5 1070.2,746.5 1071.5,746.5 1072.8,746.5 1074.1,746.5 1075.4,746.5 1076.7,746.5 1078.1,746.5 1079.4,746.5 1080.7,746.5 1082,746.5 1083.3,746.5 1084.6,746.5 1085.9,746.5 1087.2,746.5 1088.5,746.5 1089.8,746.5 1091.1,746.5 1092.4,746.5 1093.7,746.5 1095.1,746.5 1096.4,746.5 1097.7,746.5 1099,746.5 1100.3,746.5 1101.6,746.5 1102.9,746.5 1104.2,746.5 1105.5,746.5 1106.8,746.5 1108.1,746.5 1109.4,746.5 1110.8,746.5 1112.1,746.5 1113.4,746.5 1114.7,746.5 1116,746.5 1117.3,746.5 1118.6,746.5 1119.9,746.5 1121.2,746.5 1122.5,746.5 1123.8,746.5 1125.1,746.5 1126.4,746.5 1127.8,746.5 1129.1,746.5 1130.4,746.5 1131.7,746.5 1133,746.5 1134.3,746.5 1135.6,746.5 1136.9,746.5 1138.2,746.5 1139.5,746.5 1140.8,746.5 1142.1,746.5 1143.5,746.5 1144.8,746.5 1146.1,746.5 1147.4,746.5 1148.7,746.5 1150,746.5 1151.3,746.5 1152.6,746.5 1153.9,746.5 1155.2,746.5 1156.5,746.5 1157.8,746.5 1159.1,746.5 1160.5,746.5 1161.8,746.5 1163.1,746.5 1164.4,746.5 1165.7,746.5 1167,746.5 1168.3,746.5 1169.6,746.5 1170.9,746.5 1172.2,746.5 1173.5,746.5 1174.8,746.5 1176.2,746.5 1177.5,746.5 1178.8,746.5 1180.1,746.5 1181.4,746.5 1182.7,746.5 1184,746.5 1185.3,746.5 1186.6,746.5 1187.9,746.5 1189.2,746.5 1190.5,746.5 1191.8,746.5 1193.2,746.5 1194.5,746.5 1195.8,746.5 1197.1,746.5 1198.4,746.5 1199.7,746.5 1201,746.5 1202.3,746.5 1203.6,746.5 1204.9,746.5 1206.2,746.5 1207.5,746.5 1208.9,746.5 1210.2,746.5 1211.5,746.5 1212.8,746.5 1214.1,746.5 1215.4,746.5 1216.7,746.5 1218,746.5 1219.3,746.5 1220.6,746.5 1221.9,746.5 1223.2,746.5 1224.5,746.5 1225.9,746.5 1227.2,746.5 1228.5,746.5 1229.8,746.5 1231.1,746.5 1232.4,746.5 1233.7,746.5 1235,746.5 1236.3,746.5 1237.6,746.5 1238.9,746.5 1240.2,746.5 1241.6,746.5 1242.9,746.5 1244.2,746.5 1245.5,746.5 1246.8,746.5 1248.1,746.5 1249.4,746.5" fill="none" stroke="#1f77b4" stroke-width="5" stroke-linejoin="round" />
<polyline points="332.5,567.8 333.8,567.7 335.1,567.4 336.4,567.1 337.7,567.6 339,567.1 340.3,566.7 341.6,567.3 343,567.1 344.3,567.1 345.6,567.1 346.9,567 348.2,567.2 349.5,566.9 350.8,567.4 352.1,566.8 353.4,566.9 354.7,566.5 356,567.1 357.3,566.9 358.7,566.5 360,566.1 361.3,566.2 362.6,566.7 363.9,566.5 365.2,566.6 366.5,566.7 367.8,566.5 369.1,566.1 370.4,566.5 371.7,566.3 373,566.2 374.3,566.4 375.7,566.1 377,566.9 378.3,566.3 379.6,566.2 380.9,566.1 382.2,566.3 383.5,566.3 384.8,566.3 386.1,566.4 387.4,566.3 388.7,566.2 390,566.5 391.4,566.1 392.7,566.5 394,566.3 395.3,567 396.6,566.7 397.9,566.3 399.2,566.7 400.5,566.6 401.8,566.3 403.1,566.5 404.4,566.5 405.7,566.3 407,566.5 408.4,566.4 409.7,566.4 411,566.5 412.3,566.1 413.6,566.4 414.9,566.4 416.2,566.4 417.5,566.3 418.8,566.4 420.1,566.6 421.4,566.7 422.7,566.5 424.1,566.8 425.4,566.4 426.7,566.4 428,566.7 429.3,565.8 430.6,566.2 431.9,565.8 433.2,566.2 434.5,565.6 435.8,565.4 437.1,565 438.4,565.1 439.7,564.5 441.1,564.9 442.4,565.2 443.7,565.2 445,565.8 446.3,566.2 447.6,566.3 448.9,566.7 450.2,566.7 451.5,566.6 452.8,566.6 454.1,566.3 455.4,566.8 456.8,566.6 458.1,566.4 459.4,566.5 460.7,566.6 462,566.3 463.3,566.2 464.6,566.1 465.9,566 467.2,565.8 468.5,565.8 469.8,565.3 471.1,565.3 472.4,565 473.8,564.8 475.1,564.9 476.4,564.6 477.7,564.2 479,564.2 480.3,564.1 481.6,564.1 482.9,564 484.2,563.6 485.5,563.6 486.8,563.2 488.1,562.8 489.5,562.5 490.8,562.5 492.1,562 493.4,562.2 494.7,561.6 496,561.3 497.3,561.1 498.6,560.7 499.9,560.5 501.2,560.5 502.5,560.6 503.8,560.7 505.1,560.8 506.5,560.7 507.8,560.7 509.1,561 510.4,561 511.7,561.2 513,561.1 514.3,561.1 515.6,561.2 516.9,561.1 518.2,561.2 519.5,561.3 520.8,561.3 522.2,561.3 523.5,561.1 524.8,561.4 526.1,561.3 527.4,561.1 528.7,561.2 530,561.2 531.3,561.2 532.6,561 533.9,561 535.2,561.3 536.5,561 537.8,561 539.2,560.9 540.5,560.9 541.8,560.8 543.1,560.9 544.4,560.9 545.7,560.9 547,560.9 548.3,560.8 549.6,560.7 550.9,560.8 552.2,560.9 553.5,560.8 554.9,560.8 556.2,560.7 557.5,560.8 558.8,560.8 560.1,560.8 561.4,561.3 562.7,561.9 564,562.5 565.3,562.9 566.6,563.1 567.9,563.4 569.2,563.8 570.5,563.9 571.9,564.2 573.2,564.6 574.5,564.8 575.8,564.9 577.1,565.1 578.4,565.3 579.7,565.6 581,565.8 582.3,566 583.6,566.4 584.9,566.7 586.2,567.1 587.6,567.4 588.9,567.7 590.2,568.1 591.5,568.3 592.8,568.6 594.1,568.7 595.4,569.1 596.7,569.3 598,569.6 599.3,569.9 600.6,570.2 601.9,570.5 603.2,570.9 604.6,571.3 605.9,571.7 607.2,572 608.5,572.4 609.8,572.9 611.1,573.2 612.4,573.5 613.7,573.9 615,574.2 616.3,574.4 617.6,574.8 618.9,575.2 620.3,575.5 621.6,575.8 622.9,576.1 624.2,576.5 625.5,576.8 626.8,577.3 628.1,577.6 629.4,577.9 630.7,578.1 632,578.4 633.3,578.5 634.6,578.8 635.9,578.8 637.3,579 638.6,579 639.9,579 641.2,579 642.5,579 643.8,579.1 645.1,579 646.4,578.9 647.7,578.9 649,578.9 650.3,578.7 651.6,578.7 653,578.6 654.3,578.5 655.6,578.3 656.9,578.1 658.2,578 659.5,577.8 660.8,577.5 662.1,577.1 663.4,576.8 664.7,576.3 666,576 667.3,575.5 668.6,575.1 670,574.6 671.3,574.1 672.6,573.6 673.9,573 675.2,572.5 676.5,571.8 677.8,571.1 679.1,570.5 680.4,569.8 681.7,569.1 683,568.4 684.3,567.9 685.7,567.1 687,566.5 688.3,566 689.6,565.1 690.9,564.4 692.2,563.6 693.5,562.6 694.8,561.7 696.1,560.8 697.4,559.7 698.7,558.7 700,557.6 701.3,556.4 702.7,555.3 704,554 705.3,552.8 706.6,551.5 707.9,550.5 709.2,549.2 710.5,548 711.8,546.9 713.1,545.6 714.4,544.6 715.7,543.3 717,542.1 718.4,540.6 719.7,539.5 721,538.3 722.3,537.3 723.6,536.4 724.9,535.6 726.2,534.7 727.5,533.9 728.8,533.3 730.1,532.4 731.4,531.6 732.7,530.5 734,529.6 735.4,528.6 736.7,527.7 738,526.9 739.3,526.2 740.6,525.4 741.9,524.7 743.2,524.1 744.5,523.4 745.8,522.8 747.1,522.4 748.4,522.3 749.7,522 751.1,522 752.4,521.8 753.7,521.8 755,522 756.3,522.2 757.6,522.4 758.9,523 760.2,523.5 761.5,524.2 762.8,525 764.1,525.9 765.4,527 766.7,528.2 768.1,529.3 769.4,530.7 770.7,532 772,533.4 773.3,535.1 774.6,536.7 775.9,538.3 777.2,539.9 778.5,541.6 779.8,543 781.1,545.1 782.4,547.1 783.8,549.2 785.1,551.1 786.4,553.2 787.7,555.7 789,557.8 790.3,560.2 791.6,562.7 792.9,565.1 794.2,567.3 795.5,569.7 796.8,572 798.1,574.2 799.4,576.1 800.8,577.9 802.1,579.7 803.4,581.5 804.7,583.4 806,585 807.3,586.6 808.6,588.3 809.9,590.1 811.2,591.7 812.5,593.3 813.8,595 815.1,596.5 816.5,598.3 817.8,599.8 819.1,601.2 820.4,602.9 821.7,604.4 823,606.1 824.3,607.8 825.6,609.4 826.9,610.9 828.2,612.5 829.5,614 830.8,615.7 832.1,617.3 833.5,618.9 834.8,620.4 836.1,621.7 837.4,622.8 838.7,623.9 840,625.2 841.3,626.2 842.6,627.2 843.9,628.1 845.2,628.6 846.5,628.7 847.8,628.8 849.2,628.7 850.5,628.7 851.8,628.2 853.1,627.3 854.4,626.5 855.7,625.6 857,624.8 858.3,623.8 859.6,622.8 860.9,621.7 862.2,620.5 863.5,619.4 864.8,618.3 866.2,616.9 867.5,615.6 868.8,614.1 870.1,612.6 871.4,610.9 872.7,609.4 874,607.5 875.3,605.6 876.6,603.7 877.9,601.8 879.2,599.8 880.5,597.9 881.9,595.8 883.2,593.7 884.5,591.5 885.8,589.4 887.1,587.4 888.4,585.4 889.7,583.4 891,581.5 892.3,579.6 893.6,577.6 894.9,575.7 896.2,573.8 897.5,571.8 898.9,569.8 900.2,568 901.5,566 902.8,564 904.1,562 905.4,559.7 906.7,557.3 908,554.9 909.3,552.5 910.6,550 911.9,547.5 913.2,545.1 914.6,542.7 915.9,540.4 917.2,538 918.5,535.6 919.8,533.2 921.1,530.8 922.4,528.6 923.7,526.4 925,524.3 926.3,522.3 927.6,520.4 928.9,518.6 930.2,516.8 931.6,515 932.9,513.1 934.2,511.4 935.5,509.4 936.8,507.5 938.1,505.5 939.4,503.6 940.7,501.6 942,499.5 943.3,497.5 944.6,495.2 945.9,492.9 947.3,490.7 948.6,488.4 949.9,485.9 951.2,483.1 952.5,479.8 953.8,475.4 955.1,470.6 956.4,466 957.7,461.2 959,457 960.3,453.1 961.6,449.2 962.9,445.3 964.3,440.3 965.6,432.4 966.9,420.9 968.2,406.6 969.5,390.7 970.8,373.9 972.1,357 973.4,337.9 974.7,317.2 976,296 977.3,276 978.6,256.6 980,237.5 981.3,218.8 982.6,200.1 983.9,180.4 985.2,168.3 986.5,167 987.8,171.4 989.1,179.5 990.4,187.3 991.7,194.9 993,214.4 994.3,260.6 995.6,307.9 997,357.2 998.3,407.5 999.6,447.7 1000.9,471.9 1002.2,498.7 1003.5,537.9 1004.8,585.2 1006.1,634.4 1007.4,675.5 1008.7,705.5 1010,726.3 1011.3,736.9 1012.7,742.2 1014,745 1015.3,746 1016.6,746.4 1017.9,746.5 1019.2,746.5 1020.5,746.5 1021.8,746.5 1023.1,746.5 1024.4,746.5 1025.7,746.5 1027,746.5 1028.3,746.5 1029.7,746.5 1031,746.5 1032.3,746.5 1033.6,746.5 1034.9,746.5 1036.2,746.5 1037.5,746.5 1038.8,746.5 1040.1,746.5 1041.4,746.5 1042.7,746.5 1044,746.5 1045.4,746.5 1046.7,746.5 1048,746.5 1049.3,746.5 1050.6,746.5 1051.9,746.5 1053.2,746.5 1054.5,746.5 1055.8,746.5 1057.1,746.5 1058.4,746.5 1059.7,746.5 1061,746.5 1062.4,746.5 1063.7,746.5 1065,746.5 1066.3,746.5 1067.6,746.5 1068.9,746.5 1070.2,746.5 1071.5,746.5 1072.8,746.5 1074.1,746.5 1075.4,746.5 1076.7,746.5 1078.1,746.5 1079.4,746.5 1080.7,746.5 1082,746.5 1083.3,746.5 1084.6,746.5 1085.9,746.5 1087.2,746.5 1088.5,746.5 1089.8,746.5 1091.1,746.5 1092.4,746.5 1093.7,746.5 1095.1,746.5 1096.4,746.5 1097.7,746.5 1099,746.5 1100.3,746.5 1101.6,746.5 1102.9,746.5 1104.2,746.5 1105.5,746.5 1106.8,746.5 1108.1,746.5 1109.4,746.5 1110.8,746.5 1112.1,746.5 1113.4,746.5 1114.7,746.5 1116,746.5 1117.3,746.5 1118.6,746.5 1119.9,746.5 1121.2,746.5 1122.5,746.5 1123.8,746.5 1125.1,746.5 1126.4,746.5 1127.8,746.5 1129.1,746.5 1130.4,746.5 1131.7,746.5 1133,746.5 1134.3,746.5 1135.6,746.5 1136.9,746.5 1138.2,746.5 1139.5,746.5 1140.8,746.5 1142.1,746.5 1143.5,746.5 1144.8,746.5 1146.1,746.5 1147.4,746.5 1148.7,746.5 1150,746.5 1151.3,746.5 1152.6,746.5 1153.9,746.5 1155.2,746.5 1156.5,746.5 1157.8,746.5 1159.1,746.5 1160.5,746.5 1161.8,746.5 1163.1,746.5 1164.4,746.5 1165.7,746.5 1167,746.5 1168.3,746.5 1169.6,746.5 1170.9,746.5 1172.2,746.5 1173.5,746.5 1174.8,746.5 1176.2,746.5 1177.5,746.5 1178.8,746.5 1180.1,746.5 1181.4,746.5 1182.7,746.5 1184,746.5 1185.3,746.5 1186.6,746.5 1187.9,746.5 1189.2,746.5 1190.5,746.5 1191.8,746.5 1193.2,746.5 1194.5,746.5 1195.8,746.5 1197.1,746.5 1198.4,746.5 1199.7,746.5 1201,746.5 1202.3,746.5 1203.6,746.5 1204.9,746.5 1206.2,746.5 1207.5,746.5 1208.9,746.5 1210.2,746.5 1211.5,746.5 1212.8,746.5 1214.1,746.5 1215.4,746.5 1216.7,746.5 1218,746.5 1219.3,746.5 1220.6,746.5 1221.9,746.5 1223.2,746.5 1224.5,746.5 1225.9,746.5 1227.2,746.5 1228.5,746.5 1229.8,746.5 1231.1,746.5 1232.4,746.5 1233.7,746.5 1235,746.5 1236.3,746.5 1237.6,746.5 1238.9,746.5 1240.2,746.5 1241.6,746.5 1242.9,746.5 1244.2,746.5 1245.5,746.5 1246.8,746.5 1248.1,746.5 1249.4,746.5" fill="none" stroke="#ff7f0e" stroke-width="5" stroke-linejoin="round" />
<polyline points="332.5,562.9 333.8,563 335.1,563.1 336.4,563 337.7,563 339,563.2 340.3,562.9 341.6,562.8 343,562.7 344.3,563.2 345.6,563.2 346.9,563.3 348.2,563.3 349.5,563.6 350.8,563.3 352.1,562.9 353.4,563.6 354.7,563.6 356,563.9 357.3,563.8 358.7,563.9 360,563.8 361.3,563.8 362.6,564.1 363.9,563.5 365.2,563.4 366.5,563.8 367.8,563.7 369.1,563.7 370.4,563.5 371.7,563.3 373,563.8 374.3,563.9 375.7,563.1 377,563.5 378.3,563.5 379.6,563.9 380.9,563.5 382.2,563.4 383.5,563.7 384.8,563.9 386.1,563 387.4,563.5 388.7,563.8 390,563.7 391.4,563.5 392.7,563.7 394,563.7 395.3,563.7 396.6,563.5 397.9,563.4 399.2,563.5 400.5,563.6 401.8,563.4 403.1,563.6 404.4,563.9 405.7,563.6 407,563.7 408.4,563.8 409.7,563.8 411,564 412.3,563.8 413.6,563.8 414.9,563.7 416.2,563.6 417.5,563.6 418.8,563.7 420.1,563.8 421.4,563.9 422.7,563.7 424.1,563.6 425.4,563.6 426.7,564.1 428,563.7 429.3,563.8 430.6,563.7 431.9,563.7 433.2,563.6 434.5,563.7 435.8,563.8 437.1,564 438.4,564.4 439.7,564 441.1,564.3 442.4,564.3 443.7,564.7 445,564.6 446.3,564.6 447.6,564.8 448.9,565.1 450.2,565 451.5,564.9 452.8,564.9 454.1,564.4 455.4,564.5 456.8,564.2 458.1,563.7 459.4,563.5 460.7,563.5 462,563.3 463.3,563 464.6,562.6 465.9,562.5 467.2,562 468.5,562.1 469.8,561.4 471.1,561.2 472.4,560.6 473.8,559.9 475.1,559.5 476.4,559.2 477.7,558.9 479,558.3 480.3,558.5 481.6,558.3 482.9,558.4 484.2,558.4 485.5,558.6 486.8,558.5 488.1,558.6 489.5,558.7 490.8,558.6 492.1,558.6 493.4,558.7 494.7,558.6 496,558.8 497.3,558.6 498.6,558.7 499.9,558.8 501.2,558.6 502.5,558.7 503.8,558.9 505.1,558.7 506.5,558.7 507.8,558.6 509.1,558.8 510.4,558.8 511.7,558.9 513,558.8 514.3,559.1 515.6,559.1 516.9,559.2 518.2,559.1 519.5,559.1 520.8,559.2 522.2,559 523.5,559.1 524.8,559.2 526.1,559.2 527.4,559.2 528.7,559.1 530,559.3 531.3,559.1 532.6,559.1 533.9,559.3 535.2,559.3 536.5,559.2 537.8,559.3 539.2,559.3 540.5,559.4 541.8,559.3 543.1,559.4 544.4,559.3 545.7,559.2 547,559.4 548.3,559.2 549.6,559.3 550.9,559.3 552.2,559.3 553.5,559.3 554.9,559.2 556.2,559.2 557.5,559.2 558.8,559.1 560.1,559.3 561.4,559.3 562.7,559.3 564,559.3 565.3,559.2 566.6,559.2 567.9,559.2 569.2,559.2 570.5,559.2 571.9,559.3 573.2,559.1 574.5,559.3 575.8,559.3 577.1,559.2 578.4,559.4 579.7,559.5 581,559.8 582.3,560.2 583.6,560.8 584.9,561.3 586.2,561.7 587.6,562.2 588.9,562.6 590.2,563 591.5,563.2 592.8,563.4 594.1,563.7 595.4,563.9 596.7,564.2 598,564.5 599.3,564.7 600.6,565.1 601.9,565.2 603.2,565.6 604.6,566.1 605.9,566.5 607.2,566.9 608.5,567.2 609.8,567.7 611.1,568.2 612.4,568.5 613.7,569.1 615,569.5 616.3,569.9 617.6,570.4 618.9,570.7 620.3,571.4 621.6,571.7 622.9,572.2 624.2,572.7 625.5,573.2 626.8,573.5 628.1,574 629.4,574.7 630.7,574.9 632,575.3 633.3,575.6 634.6,576 635.9,576.3 637.3,576.5 638.6,576.7 639.9,576.8 641.2,576.9 642.5,576.9 643.8,577 645.1,577 646.4,577 647.7,577 649,576.9 650.3,577 651.6,576.9 653,576.8 654.3,576.7 655.6,576.5 656.9,576.4 658.2,576.1 659.5,575.9 660.8,575.6 662.1,575.2 663.4,574.9 664.7,574.5 666,574 667.3,573.5 668.6,573.1 670,572.5 671.3,572.1 672.6,571.5 673.9,570.9 675.2,570.3 676.5,569.7 677.8,569 679.1,568.3 680.4,567.6 681.7,567 683,566.4 684.3,565.7 685.7,565.1 687,564.5 688.3,563.8 689.6,562.9 690.9,562.2 692.2,561.4 693.5,560.5 694.8,559.5 696.1,558.3 697.4,557.4 698.7,556.5 700,555.3 701.3,554 702.7,552.9 704,551.6 705.3,550.3 706.6,549.2 707.9,548 709.2,547 710.5,545.7 711.8,544.5 713.1,543.3 714.4,542 715.7,540.8 717,539.6 718.4,538.3 719.7,537.2 721,536 722.3,535.1 723.6,534 724.9,533.2 726.2,532.3 727.5,531.6 728.8,531 730.1,530.3 731.4,529.6 732.7,528.9 734,528.1 735.4,527.4 736.7,526.8 738,526.3 739.3,525.8 740.6,525.4 741.9,524.9 743.2,524.4 744.5,524 745.8,523.7 747.1,523.3 748.4,523.3 749.7,523 751.1,522.9 752.4,523 753.7,523 755,523 756.3,523.3 757.6,523.9 758.9,524.6 760.2,525.2 761.5,526.1 762.8,527.1 764.1,528.1 765.4,529.3 766.7,530.7 768.1,531.9 769.4,533.4 770.7,534.9 772,536.5 773.3,538.2 774.6,540 775.9,541.8 777.2,543.6 778.5,545.3 779.8,547 781.1,548.8 782.4,550.5 783.8,552.1 785.1,554 786.4,555.6 787.7,557.3 789,559.1 790.3,560.8 791.6,562.6 792.9,564.2 794.2,566 795.5,567.6 796.8,569.2 798.1,570.9 799.4,572.4 800.8,574 802.1,576 803.4,578 804.7,579.9 806,581.6 807.3,583.1 808.6,584.4 809.9,586 811.2,587.5 812.5,588.9 813.8,590.4 815.1,591.9 816.5,593.3 817.8,594.7 819.1,596.2 820.4,597.7 821.7,599 823,600.5 824.3,601.9 825.6,603.3 826.9,604.6 828.2,605.9 829.5,607.1 830.8,608.2 832.1,609.3 833.5,610.4 834.8,611.6 836.1,612.5 837.4,613.2 838.7,613.8 840,614.4 841.3,614.9 842.6,615.2 843.9,615.7 845.2,615.7 846.5,615.5 847.8,615.3 849.2,615 850.5,614.7 851.8,614.3 853.1,613.3 854.4,612.3 855.7,611.3 857,610.2 858.3,608.8 859.6,607.6 860.9,606.4 862.2,605.1 863.5,603.8 864.8,602.4 866.2,601 867.5,599.6 868.8,598 870.1,596.6 871.4,595 872.7,593.4 874,591.5 875.3,589.8 876.6,587.9 877.9,586.2 879.2,584.7 880.5,583 881.9,581.6 883.2,580.1 884.5,578.7 885.8,577.4 887.1,576.1 888.4,574.7 889.7,573.4 891,572.3 892.3,571 893.6,569.9 894.9,568.9 896.2,567.7 897.5,566.7 898.9,565.6 900.2,564.6 901.5,563.7 902.8,562.7 904.1,561.8 905.4,560.7 906.7,559.7 908,558.7 909.3,557.7 910.6,556.8 911.9,556 913.2,555.3 914.6,554.7 915.9,553.9 917.2,553.2 918.5,552.7 919.8,551.9 921.1,551.4 922.4,550.9 923.7,550.3 925,549.7 926.3,549.2 927.6,548.7 928.9,548.1 930.2,547.7 931.6,547.1 932.9,546.7 934.2,546 935.5,545.3 936.8,544.4 938.1,543.5 939.4,542.6 940.7,541.3 942,539.8 943.3,538.1 944.6,536.4 945.9,534.4 947.3,532.1 948.6,529.1 949.9,525.4 951.2,520.6 952.5,514.4 953.8,504.9 955.1,494.8 956.4,484.2 957.7,472.5 959,459.8 960.3,446.5 961.6,430.4 962.9,411.3 964.3,390.6 965.6,369.4 966.9,348.5 968.2,327 969.5,305.4 970.8,284.3 972.1,264.4 973.4,245.5 974.7,226 976,203.5 977.3,178.8 978.6,158.9 980,142.4 981.3,128.6 982.6,119.3 983.9,124.8 985.2,141.2 986.5,164.1 987.8,188.1 989.1,215.6 990.4,248.4 991.7,284.7 993,326.4 994.3,370.4 995.6,414.7 997,463.6 998.3,517.4 999.6,571.7 1000.9,619.8 1002.2,659.4 1003.5,691.8 1004.8,719 1006.1,733.1 1007.4,740.4 1008.7,743.8 1010,745.5 1011.3,746.2 1012.7,746.4 1014,746.5 1015.3,746.5 1016.6,746.5 1017.9,746.5 1019.2,746.5 1020.5,746.5 1021.8,746.5 1023.1,746.5 1024.4,746.5 1025.7,746.5 1027,746.5 1028.3,746.5 1029.7,746.5 1031,746.5 1032.3,746.5 1033.6,746.5 1034.9,746.5 1036.2,746.5 1037.5,746.5 1038.8,746.5 1040.1,746.5 1041.4,746.5 1042.7,746.5 1044,746.5 1045.4,746.5 1046.7,746.5 1048,746.5 1049.3,746.5 1050.6,746.5 1051.9,746.5 1053.2,746.5 1054.5,746.5 1055.8,746.5 1057.1,746.5 1058.4,746.5 1059.7,746.5 1061,746.5 1062.4,746.5 1063.7,746.5 1065,746.5 1066.3,746.5 1067.6,746.5 1068.9,746.5 1070.2,746.5 1071.5,746.5 1072.8,746.5 1074.1,746.5 1075.4,746.5 1076.7,746.5 1078.1,746.5 1079.4,746.5 1080.7,746.5 1082,746.5 1083.3,746.5 1084.6,746.5 1085.9,746.5 1087.2,746.5 1088.5,746.5 1089.8,746.5 1091.1,746.5 1092.4,746.5 1093.7,746.5 1095.1,746.5 1096.4,746.5 1097.7,746.5 1099,746.5 1100.3,746.5 1101.6,746.5 1102.9,746.5 1104.2,746.5 1105.5,746.5 1106.8,746.5 1108.1,746.5 1109.4,746.5 1110.8,746.5 1112.1,746.5 1113.4,746.5 1114.7,746.5 1116,746.5 1117.3,746.5 1118.6,746.5 1119.9,746.5 1121.2,746.5 1122.5,746.5 1123.8,746.5 1125.1,746.5 1126.4,746.5 1127.8,746.5 1129.1,746.5 1130.4,746.5 1131.7,746.5 1133,746.5 1134.3,746.5 1135.6,746.5 1136.9,746.5 1138.2,746.5 1139.5,746.5 1140.8,746.5 1142.1,746.5 1143.5,746.5 1144.8,746.5 1146.1,746.5 1147.4,746.5 1148.7,746.5 1150,746.5 1151.3,746.5 1152.6,746.5 1153.9,746.5 1155.2,746.5 1156.5,746.5 1157.8,746.5 1159.1,746.5 1160.5,746.5 1161.8,746.5 1163.1,746.5 1164.4,746.5 1165.7,746.5 1167,746.5 1168.3,746.5 1169.6,746.5 1170.9,746.5 1172.2,746.5 1173.5,746.5 1174.8,746.5 1176.2,746.5 1177.5,746.5 1178.8,746.5 1180.1,746.5 1181.4,746.5 1182.7,746.5 1184,746.5 1185.3,746.5 1186.6,746.5 1187.9,746.5 1189.2,746.5 1190.5,746.5 1191.8,746.5 1193.2,746.5 1194.5,746.5 1195.8,746.5 1197.1,746.5 1198.4,746.5 1199.7,746.5 1201,746.5 1202.3,746.5 1203.6,746.5 1204.9,746.5 1206.2,746.5 1207.5,746.5 1208.9,746.5 1210.2,746.5 1211.5,746.5 1212.8,746.5 1214.1,746.5 1215.4,746.5 1216.7,746.5 1218,746.5 1219.3,746.5 1220.6,746.5 1221.9,746.5 1223.2,746.5 1224.5,746.5 1225.9,746.5 1227.2,746.5 1228.5,746.5 1229.8,746.5 1231.1,746.5 1232.4,746.5 1233.7,746.5 1235,746.5 1236.3,746.5 1237.6,746.5 1238.9,746.5 1240.2,746.5 1241.6,746.5 1242.9,746.5 1244.2,746.5 1245.5,746.5 1246.8,746.5 1248.1,746.5 1249.4,746.5" fill="none" stroke="#2ca02c" stroke-width="5" stroke-linejoin="round" />
<polyline points="332.5,566.8 333.8,566.5 335.1,566.7 336.4,567.3 337.7,566.6 339,566.9 340.3,567 341.6,566.9 343,567.2 344.3,566.9 345.6,567.3 346.9,567.1 348.2,567.7 349.5,567.4 350.8,567.7 352.1,567.7 353.4,567.4 354.7,567.6 356,567.5 357.3,567.3 358.7,567.4 360,567.4 361.3,567.4 362.6,567.4 363.9,567.4 365.2,567.5 366.5,567.8 367.8,567.5 369.1,567.6 370.4,567.6 371.7,567.1 373,567.2 374.3,567.3 375.7,567.8 377,567.6 378.3,567.2 379.6,566.8 380.9,567 382.2,567.3 383.5,567.1 384.8,567 386.1,566.8 387.4,567.4 388.7,566.7 390,567.1 391.4,567.1 392.7,567 394,566.9 395.3,566.9 396.6,566.9 397.9,566.9 399.2,567 400.5,566.5 401.8,567.1 403.1,566.8 404.4,566.7 405.7,566.5 407,566.3 408.4,566.4 409.7,566.2 411,566.2 412.3,565.6 413.6,565.8 414.9,565.3 416.2,565.5 417.5,565.6 418.8,565.7 420.1,565.3 421.4,565.5 422.7,564.8 424.1,565.2 425.4,564.9 426.7,565 428,564.7 429.3,564.5 430.6,564.1 431.9,563.8 433.2,563.5 434.5,563.7 435.8,563.6 437.1,563.2 438.4,563.5 439.7,563.1 441.1,563.3 442.4,563.3 443.7,563.2 445,563 446.3,562.9 447.6,563.2 448.9,562.7 450.2,562.8 451.5,562.7 452.8,562.8 454.1,563.2 455.4,562.9 456.8,562.6 458.1,562.6 459.4,562.3 460.7,562.6 462,562.5 463.3,562.5 464.6,562.3 465.9,562 467.2,562 468.5,561.8 469.8,561.6 471.1,561.7 472.4,561.4 473.8,561.2 475.1,561.1 476.4,561.2 477.7,561.2 479,561.4 480.3,561.3 481.6,561.5 482.9,561.2 484.2,561.7 485.5,561.4 486.8,561.5 488.1,561.6 489.5,561.5 490.8,561.4 492.1,561.8 493.4,561.4 494.7,561.7 496,561.9 497.3,561.8 498.6,561.8 499.9,561.8 501.2,561.8 502.5,561.8 503.8,561.8 505.1,562 506.5,561.7 507.8,561.9 509.1,562 510.4,561.9 511.7,561.9 513,562.2 514.3,562 515.6,562 516.9,562 518.2,561.9 519.5,561.9 520.8,561.9 522.2,562 523.5,561.9 524.8,562.1 526.1,562.1 527.4,562.1 528.7,562.2 530,562.2 531.3,562.2 532.6,562.3 533.9,562.1 535.2,562.2 536.5,562.2 537.8,562.1 539.2,562.2 540.5,562.2 541.8,562.3 543.1,562.1 544.4,562.1 545.7,562.2 547,562.2 548.3,562.2 549.6,562.4 550.9,562.1 552.2,562.2 553.5,562.2 554.9,562.2 556.2,562.2 557.5,562.2 558.8,562.3 560.1,562.2 561.4,562.2 562.7,562.2 564,562.2 565.3,562.3 566.6,562.1 567.9,562.2 569.2,562.2 570.5,562.2 571.9,562.2 573.2,562.3 574.5,562.2 575.8,562.2 577.1,562.3 578.4,562.5 579.7,562.5 581,562.8 582.3,562.9 583.6,563.1 584.9,563.3 586.2,563.7 587.6,563.7 588.9,564 590.2,564.2 591.5,564.5 592.8,564.6 594.1,564.9 595.4,564.9 596.7,565.3 598,565.5 599.3,565.9 600.6,566.1 601.9,566.4 603.2,566.8 604.6,567.1 605.9,567.5 607.2,567.9 608.5,568.3 609.8,568.8 611.1,569.2 612.4,569.5 613.7,570 615,570.3 616.3,570.8 617.6,571.2 618.9,571.7 620.3,572.1 621.6,572.6 622.9,573.1 624.2,573.6 625.5,574.1 626.8,574.6 628.1,574.9 629.4,575.3 630.7,575.8 632,576.1 633.3,576.5 634.6,576.8 635.9,577.1 637.3,577.4 638.6,577.6 639.9,577.8 641.2,578 642.5,578.1 643.8,578.4 645.1,578.5 646.4,578.5 647.7,578.5 649,578.4 650.3,578.3 651.6,578.3 653,578 654.3,577.9 655.6,577.7 656.9,577.6 658.2,577.4 659.5,577.1 660.8,576.7 662.1,576.2 663.4,575.9 664.7,575.5 666,575.1 667.3,574.7 668.6,574.3 670,573.8 671.3,573.3 672.6,572.7 673.9,572.1 675.2,571.6 676.5,570.9 677.8,570.3 679.1,569.5 680.4,568.9 681.7,568.3 683,567.6 684.3,566.9 685.7,566.2 687,565.6 688.3,564.8 689.6,564.2 690.9,563.4 692.2,562.5 693.5,561.6 694.8,560.8 696.1,559.7 697.4,558.8 698.7,557.6 700,556.6 701.3,555.5 702.7,554.2 704,553 705.3,551.8 706.6,550.6 707.9,549.5 709.2,548.3 710.5,547.1 711.8,546 713.1,544.8 714.4,543.6 715.7,542.3 717,541.2 718.4,540 719.7,538.7 721,537.5 722.3,536.7 723.6,535.8 724.9,534.8 726.2,534 727.5,533.4 728.8,532.6 730.1,532 731.4,531.3 732.7,530.6 734,529.9 735.4,529 736.7,528.5 738,527.9 739.3,527.6 740.6,527.3 741.9,527 743.2,526.8 744.5,526.5 745.8,526.3 747.1,526.1 748.4,526.2 749.7,526.1 751.1,526.2 752.4,526.3 753.7,526.3 755,526.7 756.3,527.2 757.6,527.7 758.9,528.3 760.2,529.1 761.5,530 762.8,531 764.1,531.9 765.4,533.2 766.7,534.4 768.1,535.9 769.4,537.3 770.7,538.9 772,540.5 773.3,542.2 774.6,544 775.9,545.8 777.2,547.5 778.5,549.1 779.8,550.9 781.1,552.5 782.4,554.1 783.8,555.7 785.1,557.3 786.4,559.1 787.7,560.7 789,562.3 790.3,564.1 791.6,565.9 792.9,567.4 794.2,569.2 795.5,570.9 796.8,572.6 798.1,574.2 799.4,575.9 800.8,577.3 802.1,578.9 803.4,580.6 804.7,582 806,583.5 807.3,584.9 808.6,586.4 809.9,587.8 811.2,589.2 812.5,590.7 813.8,592.1 815.1,593.6 816.5,595.2 817.8,596.7 819.1,598.1 820.4,599.5 821.7,600.7 823,602.1 824.3,603.5 825.6,604.6 826.9,605.8 828.2,606.8 829.5,608 830.8,609.1 832.1,610.1 833.5,611.1 834.8,612 836.1,612.6 837.4,613.1 838.7,613.4 840,613.6 841.3,613.8 842.6,613.9 843.9,614 845.2,613.9 846.5,613.9 847.8,613.8 849.2,613.7 850.5,613.6 851.8,613 853.1,612.1 854.4,611.2 855.7,610.2 857,609 858.3,607.8 859.6,606.5 860.9,605.3 862.2,604 863.5,602.6 864.8,601.2 866.2,599.8 867.5,598.3 868.8,596.8 870.1,595.3 871.4,593.7 872.7,592 874,590.3 875.3,588.4 876.6,586.7 877.9,584.9 879.2,583.3 880.5,581.8 881.9,580.4 883.2,579 884.5,577.6 885.8,576.1 887.1,574.9 888.4,573.7 889.7,572.4 891,571 892.3,569.9 893.6,568.7 894.9,567.7 896.2,566.7 897.5,565.8 898.9,564.8 900.2,564 901.5,563.3 902.8,562.4 904.1,561.7 905.4,560.9 906.7,560.3 908,559.5 909.3,558.8 910.6,558.2 911.9,557.8 913.2,557.2 914.6,556.8 915.9,556.3 917.2,556.1 918.5,555.7 919.8,555.4 921.1,555.1 922.4,554.7 923.7,554.5 925,554.1 926.3,553.7 927.6,553.4 928.9,553 930.2,552.7 931.6,552.3 932.9,551.9 934.2,551.3 935.5,550.8 936.8,550 938.1,549.1 939.4,548.1 940.7,546.7 942,545.3 943.3,543.6 944.6,541.5 945.9,539.1 947.3,536.1 948.6,532.7 949.9,529 951.2,524.5 952.5,519.2 953.8,512.2 955.1,502.2 956.4,492.2 957.7,481.3 959,469.6 960.3,456.8 961.6,443 962.9,425.8 964.3,405.4 965.6,383.5 966.9,361.2 968.2,339.1 969.5,315.9 970.8,292.4 972.1,268.2 973.4,243.2 974.7,216.8 976,185.8 977.3,163 978.6,146.1 980,131.6 981.3,121.4 982.6,115.1 983.9,118.5 985.2,130.2 986.5,149.9 987.8,173.8 989.1,200.2 990.4,237.9 991.7,282 993,330 994.3,378.4 995.6,425 997,475.9 998.3,530 999.6,583.9 1000.9,629.6 1002.2,667.2 1003.5,698.8 1004.8,723.5 1006.1,735.2 1007.4,741.4 1008.7,744.4 1010,745.7 1011.3,746.3 1012.7,746.4 1014,746.5 1015.3,746.5 1016.6,746.5 1017.9,746.5 1019.2,746.5 1020.5,746.5 1021.8,746.5 1023.1,746.5 1024.4,746.5 1025.7,746.5 1027,746.5 1028.3,746.5 1029.7,746.5 1031,746.5 1032.3,746.5 1033.6,746.5 1034.9,746.5 1036.2,746.5 1037.5,746.5 1038.8,746.5 1040.1,746.5 1041.4,746.5 1042.7,746.5 1044,746.5 1045.4,746.5 1046.7,746.5 1048,746.5 1049.3,746.5 1050.6,746.5 1051.9,746.5 1053.2,746.5 1054.5,746.5 1055.8,746.5 1057.1,746.5 1058.4,746.5 1059.7,746.5 1061,746.5 1062.4,746.5 1063.7,746.5 1065,746.5 1066.3,746.5 1067.6,746.5 1068.9,746.5 1070.2,746.5 1071.5,746.5 1072.8,746.5 1074.1,746.5 1075.4,746.5 1076.7,746.5 1078.1,746.5 1079.4,746.5 1080.7,746.5 1082,746.5 1083.3,746.5 1084.6,746.5 1085.9,746.5 1087.2,746.5 1088.5,746.5 1089.8,746.5 1091.1,746.5 1092.4,746.5 1093.7,746.5 1095.1,746.5 1096.4,746.5 1097.7,746.5 1099,746.5 1100.3,746.5 1101.6,746.5 1102.9,746.5 1104.2,746.5 1105.5,746.5 1106.8,746.5 1108.1,746.5 1109.4,746.5 1110.8,746.5 1112.1,746.5 1113.4,746.5 1114.7,746.5 1116,746.5 1117.3,746.5 1118.6,746.5 1119.9,746.5 1121.2,746.5 1122.5,746.5 1123.8,746.5 1125.1,746.5 1126.4,746.5 1127.8,746.5 1129.1,746.5 1130.4,746.5 1131.7,746.5 1133,746.5 1134.3,746.5 1135.6,746.5 1136.9,746.5 1138.2,746.5 1139.5,746.5 1140.8,746.5 1142.1,746.5 1143.5,746.5 1144.8,746.5 1146.1,746.5 1147.4,746.5 1148.7,746.5 1150,746.5 1151.3,746.5 1152.6,746.5 1153.9,746.5 1155.2,746.5 1156.5,746.5 1157.8,746.5 1159.1,746.5 1160.5,746.5 1161.8,746.5 1163.1,746.5 1164.4,746.5 1165.7,746.5 1167,746.5 1168.3,746.5 1169.6,746.5 1170.9,746.5 1172.2,746.5 1173.5,746.5 1174.8,746.5 1176.2,746.5 1177.5,746.5 1178.8,746.5 1180.1,746.5 1181.4,746.5 1182.7,746.5 1184,746.5 1185.3,746.5 1186.6,746.5 1187.9,746.5 1189.2,746.5 1190.5,746.5 1191.8,746.5 1193.2,746.5 1194.5,746.5 1195.8,746.5 1197.1,746.5 1198.4,746.5 1199.7,746.5 1201,746.5 1202.3,746.5 1203.6,746.5 1204.9,746.5 1206.2,746.5 1207.5,746.5 1208.9,746.5 1210.2,746.5 1211.5,746.5 1212.8,746.5 1214.1,746.5 1215.4,746.5 1216.7,746.5 1218,746.5 1219.3,746.5 1220.6,746.5 1221.9,746.5 1223.2,746.5 1224.5,746.5 1225.9,746.5 1227.2,746.5 1228.5,746.5 1229.8,746.5 1231.1,746.5 1232.4,746.5 1233.7,746.5 1235,746.5 1236.3,746.5 1237.6,746.5 1238.9,746.5 1240.2,746.5 1241.6,746.5 1242.9,746.5 1244.2,746.5 1245.5,746.5 1246.8,746.5 1248.1,746.5 1249.4,746.5" fill="none" stroke="#d62728" stroke-width="5" stroke-linejoin="round" />
</g>
<polygon points="411.5,377.1 453.8,365.1 453.8,389.1" fill="#808080"/><polygon points="831.5,377.1 789.2,365.1 789.2,389.1" fill="#808080"/><line x1="452.8" y1="377.1" x2="790.2" y2="377.1" stroke="#808080" stroke-width="5"/>
<polygon points="849.7,377.1 892,365.1 892,389.1" fill="#808080"/><line x1="891" y1="377.1" x2="943.8" y2="377.1" stroke="#808080" stroke-width="5"/>
<polygon points="1178.3,377.1 1136,365.1 1136,389.1" fill="#808080"/><line x1="1018" y1="377.1" x2="1137" y2="377.1" stroke="#808080" stroke-width="5"/>
<g class="g">
<text x="594.1 639.5" y="358.3" font-size="56.8" class="b">DL</text>
<text x="1039.8 1079.3 1096.1" y="358.2" font-size="56.8" class="b">BIL</text>
<text x="856.7" y="188.7" font-size="47.92">z<tspan dy="8" font-size="33.54">BIL</tspan></text>
<text x="1124.7" y="188.7" font-size="47.92">z<tspan dx="1.4" dy="8" font-size="33.54">S</tspan></text>
</g>
<line x1="333.8" y1="778" x2="333.8" y2="763" stroke="#000" stroke-width="5.5"/>
<line x1="399.2" y1="778" x2="399.2" y2="763" stroke="#000" stroke-width="5.5"/>
<line x1="464.6" y1="778" x2="464.6" y2="763" stroke="#000" stroke-width="5.5"/>
<line x1="530" y1="778" x2="530" y2="758" stroke="#000" stroke-width="5.5"/>
<line x1="595.4" y1="778" x2="595.4" y2="763" stroke="#000" stroke-width="5.5"/>
<line x1="660.8" y1="778" x2="660.8" y2="763" stroke="#000" stroke-width="5.5"/>
<line x1="726.2" y1="778" x2="726.2" y2="763" stroke="#000" stroke-width="5.5"/>
<line x1="791.6" y1="778" x2="791.6" y2="763" stroke="#000" stroke-width="5.5"/>
<line x1="857" y1="778" x2="857" y2="758" stroke="#000" stroke-width="5.5"/>
<line x1="922.4" y1="778" x2="922.4" y2="763" stroke="#000" stroke-width="5.5"/>
<line x1="987.8" y1="778" x2="987.8" y2="763" stroke="#000" stroke-width="5.5"/>
<line x1="1053.2" y1="778" x2="1053.2" y2="763" stroke="#000" stroke-width="5.5"/>
<line x1="1118.6" y1="778" x2="1118.6" y2="763" stroke="#000" stroke-width="5.5"/>
<line x1="1184" y1="778" x2="1184" y2="758" stroke="#000" stroke-width="5.5"/>
<line x1="283.1" y1="746.5" x2="1249.5" y2="746.5" stroke="#bfbfbf" stroke-width="2.8" stroke-dasharray="10.8 8.174"/>
<line x1="283.1" y1="561.4" x2="1249.5" y2="561.4" stroke="#bfbfbf" stroke-width="3" stroke-dasharray="10.8 8.174"/>
<line x1="399.2" y1="778.6" x2="399.2" y2="83.5" stroke="#bfbfbf" stroke-width="3.6" stroke-dasharray="10.8 8.174"/>
<line x1="843.92" y1="778.6" x2="843.92" y2="83.5" stroke="#bfbfbf" stroke-width="3.6" stroke-dasharray="10.8 8.174"/>
<line x1="1184" y1="778.6" x2="1184" y2="83.5" stroke="#bfbfbf" stroke-width="3.6" stroke-dasharray="10.8 8.174"/>
<rect x="283.5" y="83.5" width="966" height="694.5" fill="none" stroke="#000" stroke-width="6.67"/>
<g font-size="48">
<text x="530" y="831" text-anchor="middle">−10</text>
<text x="857" y="831" text-anchor="middle">−5</text>
<text x="1184" y="831" text-anchor="middle">0</text>
</g>
</g>
</svg>
</body></html>
